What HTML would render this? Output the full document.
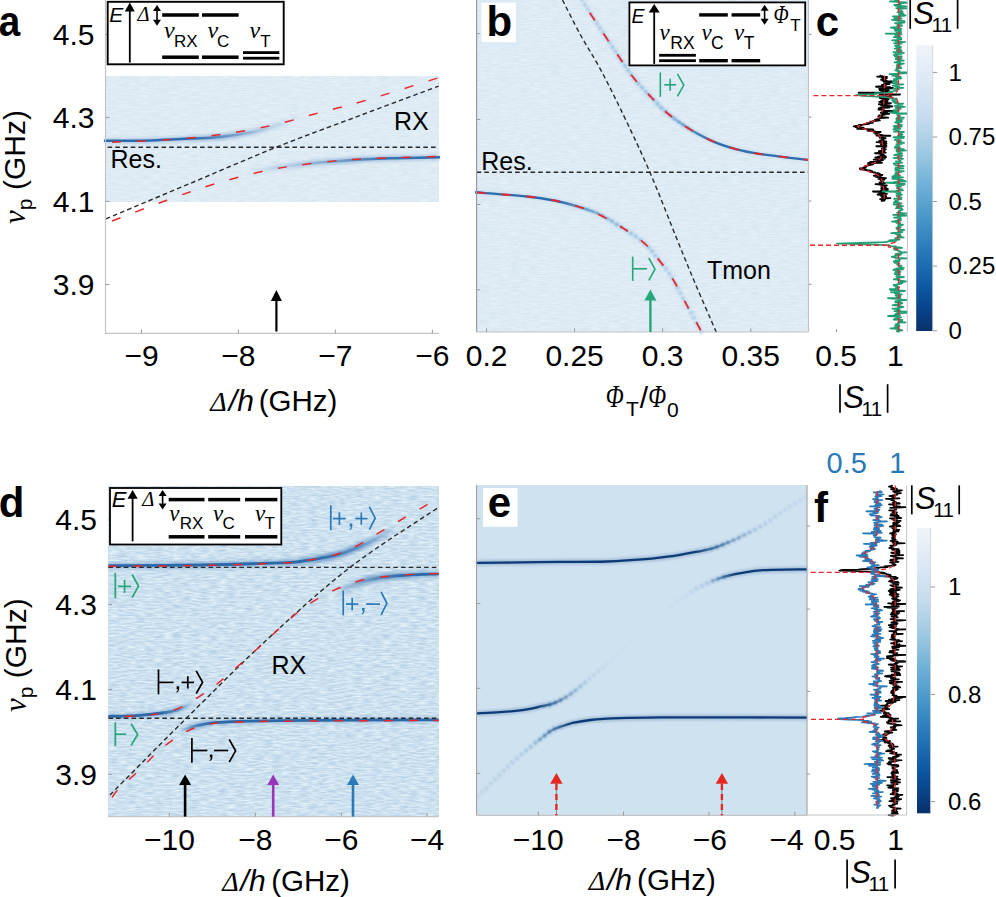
<!DOCTYPE html><html><head><meta charset="utf-8"><style>html,body{margin:0;padding:0;background:#fff;overflow:hidden}svg{display:block}</style></head><body>
<svg width="996" height="897" viewBox="0 0 996 897">
<defs>
<filter id="bl1" filterUnits="userSpaceOnUse" x="0" y="0" width="996" height="897"><feGaussianBlur stdDeviation="1.6"/></filter>
<filter id="bl2" filterUnits="userSpaceOnUse" x="0" y="0" width="996" height="897"><feGaussianBlur stdDeviation="0.7"/></filter>
<filter id="bl4" filterUnits="userSpaceOnUse" x="0" y="0" width="996" height="897"><feGaussianBlur stdDeviation="0.85"/></filter>
<filter id="bl3" filterUnits="userSpaceOnUse" x="0" y="0" width="996" height="897"><feGaussianBlur stdDeviation="3"/></filter>
<linearGradient id="cbar" x1="0" y1="0" x2="0" y2="1"><stop offset="0" stop-color="#f0f4f8"/><stop offset="0.05" stop-color="#e8f0f7"/><stop offset="0.1" stop-color="#e0ebf6"/><stop offset="0.15" stop-color="#d8e6f4"/><stop offset="0.2" stop-color="#cfe1f1"/><stop offset="0.25" stop-color="#c6dbef"/><stop offset="0.3" stop-color="#b6d4e9"/><stop offset="0.35" stop-color="#a6cde4"/><stop offset="0.4" stop-color="#94c4df"/><stop offset="0.45" stop-color="#7fb9da"/><stop offset="0.5" stop-color="#6baed6"/><stop offset="0.55" stop-color="#5ba3d0"/><stop offset="0.6" stop-color="#4a98c9"/><stop offset="0.65" stop-color="#3b8bc3"/><stop offset="0.7" stop-color="#2e7ebc"/><stop offset="0.75" stop-color="#2171b5"/><stop offset="0.8" stop-color="#1764ab"/><stop offset="0.85" stop-color="#0d57a1"/><stop offset="0.9" stop-color="#084a92"/><stop offset="0.95" stop-color="#083d7f"/><stop offset="1" stop-color="#08306b"/></linearGradient>
<filter id="nzA" x="0" y="0" width="1" height="1" color-interpolation-filters="sRGB"><feTurbulence type="fractalNoise" baseFrequency="0.1 0.7" numOctaves="2" seed="3"/><feColorMatrix type="matrix" values="0.1 0 0 0 0.8206  0.07 0 0 0 0.8866  0.04 0 0 0 0.9383  0 0 0 0 1"/></filter>
<filter id="nzB" x="0" y="0" width="1" height="1" color-interpolation-filters="sRGB"><feTurbulence type="fractalNoise" baseFrequency="0.1 0.7" numOctaves="2" seed="8"/><feColorMatrix type="matrix" values="0.1 0 0 0 0.8206  0.07 0 0 0 0.8866  0.04 0 0 0 0.9383  0 0 0 0 1"/></filter>
<filter id="nzD" x="0" y="0" width="1" height="1" color-interpolation-filters="sRGB"><feTurbulence type="fractalNoise" baseFrequency="0.11 0.6" numOctaves="2" seed="5"/><feColorMatrix type="matrix" values="0.3 0 0 0 0.6539  0.22 0 0 0 0.7724  0.13 0 0 0 0.8723  0 0 0 0 1"/></filter>
</defs>
<rect width="996" height="897" fill="#fff"/>
<rect x="106" y="76.1" width="332.7" height="125.1" fill="#dfebf5" filter="url(#nzA)"/>
<linearGradient id="ga1" gradientUnits="userSpaceOnUse" x1="104" y1="0" x2="300" y2="0"><stop offset="0" stop-color="#2c6cad" stop-opacity="1"/><stop offset="0.45" stop-color="#2c6cad" stop-opacity="1"/><stop offset="0.62" stop-color="#2c6cad" stop-opacity="0.5"/><stop offset="0.8" stop-color="#2c6cad" stop-opacity="0.12"/><stop offset="1" stop-color="#2c6cad" stop-opacity="0"/></linearGradient>
<linearGradient id="ga1h" gradientUnits="userSpaceOnUse" x1="104" y1="0" x2="300" y2="0"><stop offset="0" stop-color="#2c6cad" stop-opacity="0.3"/><stop offset="0.4" stop-color="#2c6cad" stop-opacity="0.45"/><stop offset="0.6" stop-color="#2c6cad" stop-opacity="0.7"/><stop offset="0.8" stop-color="#2c6cad" stop-opacity="0.35"/><stop offset="1" stop-color="#2c6cad" stop-opacity="0"/></linearGradient>
<path d="M104,140.8 C111.67,140.73 135.67,140.77 150,140.4 C164.33,140.03 178.33,139.17 190,138.6 C201.67,138.03 210,138.02 220,137 C230,135.98 240.83,134.33 250,132.5 C259.17,130.67 266.67,128.58 275,126 C283.33,123.42 295.83,118.5 300,117" fill="none" stroke="url(#ga1h)" stroke-width="6" opacity="0.55" filter="url(#bl1)"/>
<path d="M104,140.8 C111.67,140.73 135.67,140.77 150,140.4 C164.33,140.03 178.33,139.17 190,138.6 C201.67,138.03 210,138.02 220,137 C230,135.98 240.83,134.33 250,132.5 C259.17,130.67 266.67,128.58 275,126 C283.33,123.42 295.83,118.5 300,117" fill="none" stroke="url(#ga1)" stroke-width="2.5" filter="url(#bl2)"/>
<linearGradient id="ga2" gradientUnits="userSpaceOnUse" x1="245" y1="0" x2="440" y2="0"><stop offset="0" stop-color="#2c6cad" stop-opacity="0"/><stop offset="0.25" stop-color="#2c6cad" stop-opacity="0.1"/><stop offset="0.5" stop-color="#2c6cad" stop-opacity="0.45"/><stop offset="0.72" stop-color="#2c6cad" stop-opacity="0.9"/><stop offset="1" stop-color="#2c6cad" stop-opacity="1"/></linearGradient>
<linearGradient id="ga2h" gradientUnits="userSpaceOnUse" x1="245" y1="0" x2="440" y2="0"><stop offset="0" stop-color="#2c6cad" stop-opacity="0"/><stop offset="0.25" stop-color="#2c6cad" stop-opacity="0.35"/><stop offset="0.5" stop-color="#2c6cad" stop-opacity="0.6"/><stop offset="0.75" stop-color="#2c6cad" stop-opacity="0.5"/><stop offset="1" stop-color="#2c6cad" stop-opacity="0.35"/></linearGradient>
<path d="M245,172 C249.17,171.42 260.83,169.75 270,168.5 C279.17,167.25 288.33,165.75 300,164.5 C311.67,163.25 325,162.03 340,161 C355,159.97 373.33,158.92 390,158.3 C406.67,157.68 431.67,157.47 440,157.3" fill="none" stroke="url(#ga2h)" stroke-width="6" opacity="0.55" filter="url(#bl1)"/>
<path d="M245,172 C249.17,171.42 260.83,169.75 270,168.5 C279.17,167.25 288.33,165.75 300,164.5 C311.67,163.25 325,162.03 340,161 C355,159.97 373.33,158.92 390,158.3 C406.67,157.68 431.67,157.47 440,157.3" fill="none" stroke="url(#ga2)" stroke-width="2.5" filter="url(#bl2)"/>
<path d="M107.6,147.3 L438.7,147.3" fill="none" stroke="#2a2a2a" stroke-width="1.4" stroke-dasharray="4.6,3.1" />
<path d="M106,218.9 C120,213 161.58,195.47 190,183.5 C218.42,171.53 248.17,158.43 276.5,147.1 C304.83,135.77 332.97,125.67 360,115.5 C387.03,105.33 425.58,91 438.7,86.1" fill="none" stroke="#2a2a2a" stroke-width="1.4" stroke-dasharray="4.6,3.1" />
<path d="M112,142.2 C121.92,141.75 153.17,140.82 171.5,139.5 C189.83,138.18 205.3,136.65 222,134.3 C238.7,131.95 255.37,129.03 271.7,125.4 C288.03,121.77 304.22,116.7 320,112.5 C335.78,108.3 346.62,106 366.4,100.2 C386.18,94.4 426.65,81.45 438.7,77.7" fill="none" stroke="#e8262b" stroke-width="1.45" stroke-dasharray="9.2,15.7" />
<path d="M112,221 C121.13,217.53 149.72,206.37 166.8,200.2 C183.88,194.03 198.63,188.78 214.5,184 C230.37,179.22 247.75,174.67 262,171.5 C276.25,168.33 286.17,166.92 300,165 C313.83,163.08 329.92,161.2 345,160 C360.08,158.8 374.88,158.4 390.5,157.8 C406.12,157.2 430.67,156.63 438.7,156.4" fill="none" stroke="#e8262b" stroke-width="1.45" stroke-dasharray="9.2,15.7" />
<line x1="105.5" y1="0" x2="105.5" y2="333.9" stroke="#c4c4c4" stroke-width="1.2" />
<line x1="105" y1="333.4" x2="438.7" y2="333.4" stroke="#c4c4c4" stroke-width="1.2" />
<line x1="105.5" y1="34.5" x2="109.5" y2="34.5" stroke="#9a9a9a" stroke-width="1" />
<text x="94.5" y="44.8" text-anchor="end" fill="#000" style='font-family:"Liberation Sans", sans-serif;font-size:30px;' >4.5</text>
<line x1="105.5" y1="117.4" x2="109.5" y2="117.4" stroke="#9a9a9a" stroke-width="1" />
<text x="94.5" y="127.7" text-anchor="end" fill="#000" style='font-family:"Liberation Sans", sans-serif;font-size:30px;' >4.3</text>
<line x1="105.5" y1="201.3" x2="109.5" y2="201.3" stroke="#9a9a9a" stroke-width="1" />
<text x="94.5" y="211.6" text-anchor="end" fill="#000" style='font-family:"Liberation Sans", sans-serif;font-size:30px;' >4.1</text>
<line x1="105.5" y1="284.5" x2="109.5" y2="284.5" stroke="#9a9a9a" stroke-width="1" />
<text x="94.5" y="294.8" text-anchor="end" fill="#000" style='font-family:"Liberation Sans", sans-serif;font-size:30px;' >3.9</text>
<line x1="141.5" y1="333.4" x2="141.5" y2="329.6" stroke="#9a9a9a" stroke-width="1" />
<text x="141.5" y="365.8" text-anchor="middle" fill="#000" style='font-family:"Liberation Sans", sans-serif;font-size:30px;' >−9</text>
<line x1="238.4" y1="333.4" x2="238.4" y2="329.6" stroke="#9a9a9a" stroke-width="1" />
<text x="238.4" y="365.8" text-anchor="middle" fill="#000" style='font-family:"Liberation Sans", sans-serif;font-size:30px;' >−8</text>
<line x1="335.3" y1="333.4" x2="335.3" y2="329.6" stroke="#9a9a9a" stroke-width="1" />
<text x="335.3" y="365.8" text-anchor="middle" fill="#000" style='font-family:"Liberation Sans", sans-serif;font-size:30px;' >−7</text>
<line x1="432.4" y1="333.4" x2="432.4" y2="329.6" stroke="#9a9a9a" stroke-width="1" />
<text x="432.4" y="365.8" text-anchor="middle" fill="#000" style='font-family:"Liberation Sans", sans-serif;font-size:30px;' >−6</text>
<text x="110.5" y="167.7" text-anchor="start" fill="#000" style='font-family:"Liberation Sans", sans-serif;font-size:25px;' >Res.</text>
<text x="394" y="129.7" text-anchor="start" fill="#000" style='font-family:"Liberation Sans", sans-serif;font-size:25px;' >RX</text>
<line x1="276.4" y1="331.5" x2="276.4" y2="300" stroke="#000" stroke-width="2.2" />
<path d="M276.4,290 L270.9,301 L281.9,301 Z" fill="#000"/>
<text x="210.3" y="410.8" text-anchor="start" fill="#000" style='font-family:"Liberation Serif", serif;font-size:28px;font-style:italic;' >Δ</text>
<text x="228.8" y="410.8" text-anchor="start" fill="#000" style='font-family:"Liberation Sans", sans-serif;font-size:30px;font-style:italic;' >/h</text>
<text x="258.8" y="410.8" text-anchor="start" fill="#000" style='font-family:"Liberation Sans", sans-serif;font-size:29.5px;' >(GHz)</text>
<g transform="translate(25,167) rotate(-90)">
<text x="0" y="0" text-anchor="middle" style='font-family:"Liberation Sans", sans-serif;font-size:30px'><tspan style='font-family:"Liberation Serif", serif;font-style:italic;font-size:31px'>ν</tspan><tspan dy="7" style='font-size:21px'>p</tspan><tspan dy="-7"> (GHz)</tspan></text>
</g>
<text transform="translate(-1.3,36.2) scale(0.92,1)" style='font-family:"Liberation Sans", sans-serif;font-size:42px;font-weight:bold'>a</text>
<rect x="107.7" y="1.8" width="176" height="62.5" fill="#fff" stroke="#000" stroke-width="1.9"/>
<text x="109.3" y="21.7" text-anchor="start" fill="#000" style='font-family:"Liberation Sans", sans-serif;font-size:21px;font-style:italic;' >E</text>
<line x1="129.8" y1="62.6" x2="129.8" y2="10.4" stroke="#000" stroke-width="1.8" />
<path d="M129.8,2.4 L124.8,11.4 L134.8,11.4 Z" fill="#000"/>
<text x="137.6" y="21.1" text-anchor="start" fill="#000" style='font-family:"Liberation Serif", serif;font-size:20.5px;font-style:italic;' >Δ</text>
<line x1="157" y1="10" x2="157" y2="20.7" stroke="#000" stroke-width="1.6" />
<path d="M157,5 L153,11 L161,11 Z" fill="#000"/>
<path d="M157,25.7 L153,19.7 L161,19.7 Z" fill="#000"/>
<rect x="162.2" y="13.25" width="36.6" height="3.5" fill="#000" />
<rect x="202" y="13.25" width="36.6" height="3.5" fill="#000" />
<rect x="162.2" y="55.45" width="36.6" height="3.5" fill="#000" />
<rect x="202" y="55.45" width="36.6" height="3.5" fill="#000" />
<rect x="243" y="51.2" width="36.3" height="2.8" fill="#000" />
<rect x="243" y="56.8" width="36.3" height="2.8" fill="#000" />
<text x="164" y="37.5" text-anchor="start" fill="#000" style='font-family:"Liberation Serif", serif;font-size:24px;font-style:italic;' >ν</text>
<text x="174" y="46.6" text-anchor="start" fill="#000" style='font-family:"Liberation Sans", sans-serif;font-size:17px;' >RX</text>
<text x="207.4" y="37.5" text-anchor="start" fill="#000" style='font-family:"Liberation Serif", serif;font-size:24px;font-style:italic;' >ν</text>
<text x="217" y="46.6" text-anchor="start" fill="#000" style='font-family:"Liberation Sans", sans-serif;font-size:17px;' >C</text>
<text x="249.6" y="37.5" text-anchor="start" fill="#000" style='font-family:"Liberation Serif", serif;font-size:24px;font-style:italic;' >ν</text>
<text x="260.2" y="46.6" text-anchor="start" fill="#000" style='font-family:"Liberation Sans", sans-serif;font-size:17px;' >T</text>
<rect x="476.6" y="0" width="331.9" height="332" fill="#dfebf5" filter="url(#nzB)"/>
<linearGradient id="gb1" gradientUnits="userSpaceOnUse" x1="578" y1="0" x2="809" y2="0"><stop offset="0" stop-color="#2c6cad" stop-opacity="0"/><stop offset="0.38" stop-color="#2c6cad" stop-opacity="0.05"/><stop offset="0.45" stop-color="#2c6cad" stop-opacity="0.4"/><stop offset="0.52" stop-color="#2c6cad" stop-opacity="0.85"/><stop offset="0.6" stop-color="#2c6cad" stop-opacity="1"/><stop offset="1" stop-color="#2c6cad" stop-opacity="1"/></linearGradient>
<linearGradient id="gb1h" gradientUnits="userSpaceOnUse" x1="578" y1="0" x2="809" y2="0"><stop offset="0" stop-color="#2c6cad" stop-opacity="0.1"/><stop offset="0.4" stop-color="#2c6cad" stop-opacity="0.35"/><stop offset="0.6" stop-color="#2c6cad" stop-opacity="0.3"/><stop offset="1" stop-color="#2c6cad" stop-opacity="0.25"/></linearGradient>
<path d="M578,-6 C581.17,-1.05 589.53,12.28 597,23.7 C604.47,35.12 616.42,53.12 622.8,62.5 C629.18,71.88 630.7,74.35 635.3,80 C639.9,85.65 645.38,91.15 650.4,96.4 C655.42,101.65 659.55,106.48 665.4,111.5 C671.25,116.52 677.97,121.7 685.5,126.5 C693.03,131.3 702.23,136.53 710.6,140.3 C718.97,144.07 727.33,146.8 735.7,149.1 C744.07,151.4 748.58,152.28 760.8,154.1 C773.02,155.92 800.97,159.02 809,160" fill="none" stroke="url(#gb1h)" stroke-width="5" opacity="0.3" filter="url(#bl1)"/>
<path d="M578,-6 C581.17,-1.05 589.53,12.28 597,23.7 C604.47,35.12 616.42,53.12 622.8,62.5 C629.18,71.88 630.7,74.35 635.3,80 C639.9,85.65 645.38,91.15 650.4,96.4 C655.42,101.65 659.55,106.48 665.4,111.5 C671.25,116.52 677.97,121.7 685.5,126.5 C693.03,131.3 702.23,136.53 710.6,140.3 C718.97,144.07 727.33,146.8 735.7,149.1 C744.07,151.4 748.58,152.28 760.8,154.1 C773.02,155.92 800.97,159.02 809,160" fill="none" stroke="url(#gb1)" stroke-width="2.4" filter="url(#bl2)"/>
<linearGradient id="gb1d" gradientUnits="userSpaceOnUse" x1="578" y1="0" x2="809" y2="0"><stop offset="0" stop-color="#4f97d2" stop-opacity="0.35"/><stop offset="0.2" stop-color="#4f97d2" stop-opacity="0.45"/><stop offset="0.38" stop-color="#4f97d2" stop-opacity="0.6"/><stop offset="0.48" stop-color="#4f97d2" stop-opacity="0.5"/><stop offset="0.55" stop-color="#4f97d2" stop-opacity="0"/></linearGradient>
<path d="M578,-6 C581.17,-1.05 589.53,12.28 597,23.7 C604.47,35.12 616.42,53.12 622.8,62.5 C629.18,71.88 630.7,74.35 635.3,80 C639.9,85.65 645.38,91.15 650.4,96.4 C655.42,101.65 659.55,106.48 665.4,111.5 C671.25,116.52 677.97,121.7 685.5,126.5 C693.03,131.3 702.23,136.53 710.6,140.3 C718.97,144.07 727.33,146.8 735.7,149.1 C744.07,151.4 748.58,152.28 760.8,154.1 C773.02,155.92 800.97,159.02 809,160" fill="none" stroke="url(#gb1d)" stroke-width="3.4" stroke-dasharray="3,2.6" filter="url(#bl4)"/>
<linearGradient id="gb2" gradientUnits="userSpaceOnUse" x1="475" y1="0" x2="702" y2="0"><stop offset="0" stop-color="#2c6cad" stop-opacity="1"/><stop offset="0.37" stop-color="#2c6cad" stop-opacity="1"/><stop offset="0.5" stop-color="#2c6cad" stop-opacity="0.5"/><stop offset="0.6" stop-color="#2c6cad" stop-opacity="0.15"/><stop offset="0.7" stop-color="#2c6cad" stop-opacity="0"/></linearGradient>
<linearGradient id="gb2h" gradientUnits="userSpaceOnUse" x1="475" y1="0" x2="702" y2="0"><stop offset="0" stop-color="#2c6cad" stop-opacity="0.25"/><stop offset="0.4" stop-color="#2c6cad" stop-opacity="0.3"/><stop offset="0.6" stop-color="#2c6cad" stop-opacity="0.25"/><stop offset="1" stop-color="#2c6cad" stop-opacity="0.1"/></linearGradient>
<path d="M475,192.3 C483.65,193 513.52,195.1 526.9,196.5 C540.28,197.9 547.1,199.12 555.3,200.7 C563.5,202.28 568.83,203.78 576.1,206 C583.37,208.22 592.08,210.92 598.9,214 C605.72,217.08 609.75,219.9 617,224.5 C624.25,229.1 635.87,236.25 642.4,241.6 C648.93,246.95 651.2,250.45 656.2,256.6 C661.2,262.75 667.4,270.6 672.4,278.5 C677.4,286.4 681.78,295.92 686.2,304 C690.62,312.08 696.27,322 698.9,327 C701.53,332 701.48,332.83 702,334" fill="none" stroke="url(#gb2h)" stroke-width="5" opacity="0.3" filter="url(#bl1)"/>
<path d="M475,192.3 C483.65,193 513.52,195.1 526.9,196.5 C540.28,197.9 547.1,199.12 555.3,200.7 C563.5,202.28 568.83,203.78 576.1,206 C583.37,208.22 592.08,210.92 598.9,214 C605.72,217.08 609.75,219.9 617,224.5 C624.25,229.1 635.87,236.25 642.4,241.6 C648.93,246.95 651.2,250.45 656.2,256.6 C661.2,262.75 667.4,270.6 672.4,278.5 C677.4,286.4 681.78,295.92 686.2,304 C690.62,312.08 696.27,322 698.9,327 C701.53,332 701.48,332.83 702,334" fill="none" stroke="url(#gb2)" stroke-width="2.4" filter="url(#bl2)"/>
<linearGradient id="gb2d" gradientUnits="userSpaceOnUse" x1="475" y1="0" x2="702" y2="0"><stop offset="0" stop-color="#4f97d2" stop-opacity="0"/><stop offset="0.4" stop-color="#4f97d2" stop-opacity="0"/><stop offset="0.5" stop-color="#4f97d2" stop-opacity="0.45"/><stop offset="0.62" stop-color="#4f97d2" stop-opacity="0.6"/><stop offset="0.8" stop-color="#4f97d2" stop-opacity="0.45"/><stop offset="1" stop-color="#4f97d2" stop-opacity="0.35"/></linearGradient>
<path d="M475,192.3 C483.65,193 513.52,195.1 526.9,196.5 C540.28,197.9 547.1,199.12 555.3,200.7 C563.5,202.28 568.83,203.78 576.1,206 C583.37,208.22 592.08,210.92 598.9,214 C605.72,217.08 609.75,219.9 617,224.5 C624.25,229.1 635.87,236.25 642.4,241.6 C648.93,246.95 651.2,250.45 656.2,256.6 C661.2,262.75 667.4,270.6 672.4,278.5 C677.4,286.4 681.78,295.92 686.2,304 C690.62,312.08 696.27,322 698.9,327 C701.53,332 701.48,332.83 702,334" fill="none" stroke="url(#gb2d)" stroke-width="3.4" stroke-dasharray="3,2.6" filter="url(#bl4)"/>
<path d="M476.6,172.3 L808.5,172.3" fill="none" stroke="#2a2a2a" stroke-width="1.4" stroke-dasharray="4.6,3.1" />
<path d="M562.5,0 C565.42,5.67 573.78,22.63 580,34 C586.22,45.37 593.13,55.87 599.8,68.2 C606.47,80.53 611.78,90.97 620,108 C628.22,125.03 639.6,148.52 649.1,170.4 C658.6,192.28 669.35,220.53 677,239.3 C684.65,258.07 688.65,267.98 695,283 C701.35,298.02 711.55,321.23 715.1,329.4 C718.65,337.57 716.1,331.57 716.3,332" fill="none" stroke="#2a2a2a" stroke-width="1.4" stroke-dasharray="4.6,3.1" />
<path d="M576,-8 C579.5,-2.72 589.2,11.95 597,23.7 C604.8,35.45 616.42,53.12 622.8,62.5 C629.18,71.88 630.7,74.35 635.3,80 C639.9,85.65 645.38,91.15 650.4,96.4 C655.42,101.65 659.55,106.48 665.4,111.5 C671.25,116.52 677.97,121.7 685.5,126.5 C693.03,131.3 702.23,136.53 710.6,140.3 C718.97,144.07 727.33,146.8 735.7,149.1 C744.07,151.4 748.67,152.3 760.8,154.1 C772.93,155.9 800.55,158.93 808.5,159.9" fill="none" stroke="#e8262b" stroke-width="1.8" stroke-dasharray="9.2,15.7" />
<path d="M476.6,192.4 C484.98,193.08 513.78,195.12 526.9,196.5 C540.02,197.88 547.1,199.12 555.3,200.7 C563.5,202.28 569.67,204.07 576.1,206 C582.53,207.93 587.08,209.25 593.9,212.3 C600.72,215.35 608.92,219.42 617,224.3 C625.08,229.18 635.87,236.22 642.4,241.6 C648.93,246.98 651.2,250.45 656.2,256.6 C661.2,262.75 667.4,270.6 672.4,278.5 C677.4,286.4 681.78,295.92 686.2,304 C690.62,312.08 696.43,322.33 698.9,327 C701.37,331.67 700.65,331.17 701,332" fill="none" stroke="#e8262b" stroke-width="1.8" stroke-dasharray="9.2,15.7" />
<line x1="476.6" y1="0" x2="476.6" y2="332" stroke="#9a9a9a" stroke-width="1.2" />
<line x1="808.5" y1="0" x2="808.5" y2="332" stroke="#c4c4c4" stroke-width="1.2" />
<line x1="476.6" y1="332" x2="808.5" y2="332" stroke="#c4c4c4" stroke-width="1.2" />
<line x1="476.6" y1="33.7" x2="480.3" y2="33.7" stroke="#9a9a9a" stroke-width="1" />
<line x1="476.6" y1="119.4" x2="480.3" y2="119.4" stroke="#9a9a9a" stroke-width="1" />
<line x1="476.6" y1="204.5" x2="480.3" y2="204.5" stroke="#9a9a9a" stroke-width="1" />
<line x1="476.6" y1="289.8" x2="480.3" y2="289.8" stroke="#9a9a9a" stroke-width="1" />
<line x1="486.6" y1="332" x2="486.6" y2="328.3" stroke="#9a9a9a" stroke-width="1" />
<text x="486.6" y="365.8" text-anchor="middle" fill="#000" style='font-family:"Liberation Sans", sans-serif;font-size:30px;' >0.2</text>
<line x1="574.6" y1="332" x2="574.6" y2="328.3" stroke="#9a9a9a" stroke-width="1" />
<text x="574.6" y="365.8" text-anchor="middle" fill="#000" style='font-family:"Liberation Sans", sans-serif;font-size:30px;' >0.25</text>
<line x1="662.6" y1="332" x2="662.6" y2="328.3" stroke="#9a9a9a" stroke-width="1" />
<text x="662.6" y="365.8" text-anchor="middle" fill="#000" style='font-family:"Liberation Sans", sans-serif;font-size:30px;' >0.3</text>
<line x1="750.8" y1="332" x2="750.8" y2="328.3" stroke="#9a9a9a" stroke-width="1" />
<text x="750.8" y="365.8" text-anchor="middle" fill="#000" style='font-family:"Liberation Sans", sans-serif;font-size:30px;' >0.35</text>
<text x="481.2" y="169.8" text-anchor="start" fill="#000" style='font-family:"Liberation Sans", sans-serif;font-size:25px;' >Res.</text>
<text x="707" y="278.5" text-anchor="start" fill="#000" style='font-family:"Liberation Sans", sans-serif;font-size:25px;' >Tmon</text>
<rect x="481.4" y="2.8" width="34.5" height="39.3" fill="#fff" />
<text x="486.4" y="36.4" text-anchor="start" fill="#000" style='font-family:"Liberation Sans", sans-serif;font-size:42px;font-weight:bold;' >b</text>
<line x1="660.3" y1="72.5" x2="660.3" y2="96.9" stroke="#26a77a" stroke-width="1.6" />
<line x1="664.2" y1="84.8" x2="676.1" y2="84.8" stroke="#26a77a" stroke-width="1.6" />
<line x1="670.15" y1="78.85" x2="670.15" y2="90.75" stroke="#26a77a" stroke-width="1.6" />
<path d="M677.4,73.9 L683.8,85.1 L677.4,96.3" fill="none" stroke="#26a77a" stroke-width="1.6" stroke-linejoin="miter"/>
<line x1="632.7" y1="256.6" x2="632.7" y2="280.9" stroke="#26a77a" stroke-width="1.6" />
<line x1="632.7" y1="268.8" x2="647" y2="268.8" stroke="#26a77a" stroke-width="1.6" />
<path d="M648.8,258 L655,269.15 L648.8,280.3" fill="none" stroke="#26a77a" stroke-width="1.6" stroke-linejoin="miter"/>
<line x1="650.4" y1="332" x2="650.4" y2="299.6" stroke="#26a77a" stroke-width="2.4" />
<path d="M650.4,289.6 L644.4,300.6 L656.4,300.6 Z" fill="#26a77a"/>
<text transform="translate(605.8,407.3) scale(0.76,1)" style='font-family:"Liberation Serif", serif;font-style:italic;font-size:31px'>Φ</text>
<text x="625.9" y="416.4" text-anchor="start" fill="#000" style='font-family:"Liberation Sans", sans-serif;font-size:21px;' >T</text>
<text x="639.7" y="408" text-anchor="start" fill="#000" style='font-family:"Liberation Sans", sans-serif;font-size:30px;' >/</text>
<text transform="translate(648.3,407.3) scale(0.76,1)" style='font-family:"Liberation Serif", serif;font-style:italic;font-size:31px'>Φ</text>
<text x="666.9" y="416.6" text-anchor="start" fill="#000" style='font-family:"Liberation Sans", sans-serif;font-size:21px;' >0</text>
<rect x="629.4" y="2.4" width="175.8" height="63" fill="#fff" stroke="#000" stroke-width="1.8"/>
<text x="631.6" y="22.9" text-anchor="start" fill="#000" style='font-family:"Liberation Sans", sans-serif;font-size:19.5px;font-style:italic;' >E</text>
<line x1="654.2" y1="63.9" x2="654.2" y2="11.5" stroke="#000" stroke-width="1.8" />
<path d="M654.2,3.9 L648.7,12.5 L659.7,12.5 Z" fill="#000"/>
<rect x="699.2" y="13.2" width="28.6" height="3.4" fill="#000" />
<rect x="731.6" y="13.2" width="28.6" height="3.4" fill="#000" />
<rect x="659.1" y="53.9" width="36.8" height="2.8" fill="#000" />
<rect x="659.1" y="59.3" width="36.8" height="2.8" fill="#000" />
<rect x="699.2" y="59" width="28.6" height="3.4" fill="#000" />
<rect x="731.6" y="59" width="28.6" height="3.4" fill="#000" />
<line x1="764.6" y1="9.8" x2="764.6" y2="19.8" stroke="#000" stroke-width="1.6" />
<path d="M764.6,4.8 L760.6,10.8 L768.6,10.8 Z" fill="#000"/>
<path d="M764.6,24.8 L760.6,18.8 L768.6,18.8 Z" fill="#000"/>
<text transform="translate(773.6,22.9) scale(0.78,1)" style='font-family:"Liberation Serif", serif;font-style:italic;font-size:25.5px'>Φ</text>
<text x="790.2" y="30.5" text-anchor="start" fill="#000" style='font-family:"Liberation Sans", sans-serif;font-size:17px;' >T</text>
<text x="659.5" y="40" text-anchor="start" fill="#000" style='font-family:"Liberation Serif", serif;font-size:23px;font-style:italic;' >ν</text>
<text x="670.3" y="48.6" text-anchor="start" fill="#000" style='font-family:"Liberation Sans", sans-serif;font-size:17.5px;' >RX</text>
<text x="701.5" y="40" text-anchor="start" fill="#000" style='font-family:"Liberation Serif", serif;font-size:23px;font-style:italic;' >ν</text>
<text x="711" y="48.6" text-anchor="start" fill="#000" style='font-family:"Liberation Sans", sans-serif;font-size:17.5px;' >C</text>
<text x="734" y="40" text-anchor="start" fill="#000" style='font-family:"Liberation Serif", serif;font-size:23px;font-style:italic;' >ν</text>
<text x="743.8" y="48.6" text-anchor="start" fill="#000" style='font-family:"Liberation Sans", sans-serif;font-size:17.5px;' >T</text>
<path d="M881.08,75.6 L880.27,75.95 L882.44,76.3 L877.22,76.65 L886.96,77 L883.7,77.35 L882.17,77.7 L884.49,78.05 L886.75,78.4 L885.36,78.75 L885.01,79.1 L882.95,79.45 L881.16,79.8 L882.71,80.15 L884.7,80.5 L886.72,80.85 L883.25,81.2 L891.86,81.55 L888.48,81.9 L892.58,82.25 L888.64,82.6 L884.03,82.95 L885.15,83.3 L885.64,83.65 L889.47,84 L885.92,84.35 L886.39,84.7 L881.86,85.05 L883.61,85.4 L881.72,85.75 L883.84,86.1 L878.48,86.45 L876.07,86.8 L890.23,87.15 L889.18,87.5 L892.63,87.85 L893.17,88.2 L883.57,88.55 L879.07,88.9 L882.34,89.25 L888.59,89.6 L879.73,89.95 L885.66,90.3 L886.3,90.65 L881.22,91 L889.54,91.35 L884.96,91.7 L886.34,92.05 L881.07,92.4 L858.64,92.75 L881.76,93.1 L883.45,93.45 L879.43,93.8 L879.98,94.15 L899.94,94.5 L890.62,94.85 L886.8,95.2 L883.61,95.55 L880.5,95.9 L879.45,96.25 L886.61,96.6 L889.66,96.95 L891.64,97.3 L886.11,97.65 L879.81,98 L883.53,98.35 L882.66,98.7 L884.83,99.05 L888.54,99.4 L884.23,99.75 L886.27,100.1 L886,100.45 L881.17,100.8 L887.51,101.15 L882.32,101.5 L879.23,101.85 L882.19,102.2 L887.06,102.55 L882.79,102.9 L890.82,103.25 L889.54,103.6 L885.64,103.95 L878.88,104.3 L883.96,104.65 L881.36,105 L886.82,105.35 L881.11,105.7 L887.88,106.05 L892.36,106.4 L884.73,106.75 L886.86,107.1 L889.47,107.45 L883.3,107.8 L878.93,108.15 L883.12,108.5 L879.4,108.85 L878.62,109.2 L878.45,109.55 L883.84,109.9 L883.68,110.25 L884.17,110.6 L895.22,110.95 L883.89,111.3 L883.54,111.65 L882.2,112 L887.18,112.35 L880.84,112.7 L882.74,113.05 L883.8,113.4 L889.25,113.75 L883.36,114.1 L885.43,114.45 L882.16,114.8 L882.39,115.15 L879.05,115.5 L879.96,115.85 L882.14,116.2 L878.28,116.55 L878.87,116.9 L881.2,117.25 L888.06,117.6 L879.66,117.95 L879.52,118.3 L879,118.65 L877.36,119 L876.73,119.35 L874.97,119.7 L878.68,120.05 L879.78,120.4 L876.04,120.75 L873.05,121.1 L872.25,121.45 L870.33,121.8 L872.7,122.15 L870.25,122.5 L872.85,122.85 L866.67,123.2 L867.29,123.55 L869.17,123.9 L865.04,124.25 L863.02,124.6 L858.77,124.95 L861.62,125.3 L858.93,125.65 L855.48,126 L853.78,126.35 L857.02,126.7 L855.58,127.05 L857.47,127.4 L863.58,127.75 L862.25,128.1 L859.3,128.45 L857.25,128.8 L866.31,129.15 L873.06,129.5 L870.97,129.85 L869.77,130.2 L867.28,130.55 L869.33,130.9 L874.86,131.25 L873.21,131.6 L880.56,131.95 L876.28,132.3 L873.73,132.65 L878.02,133 L877.13,133.35 L875.42,133.7 L878.09,134.05 L879.43,134.4 L878.52,134.75 L882.64,135.1 L876.47,135.45 L890.33,135.8 L879.32,136.15 L881.71,136.5 L879.47,136.85 L880.47,137.2 L879.62,137.55 L883.6,137.9 L885.62,138.25 L882.17,138.6 L881.41,138.95 L882.89,139.3 L882.84,139.65 L883.63,140 L881.56,140.35 L879.37,140.7 L879.66,141.05 L886.31,141.4 L885.2,141.75 L876.62,142.1 L880.98,142.45 L882.03,142.8 L886.51,143.15 L882.17,143.5 L882.56,143.85 L882.7,144.2 L881,144.55 L886.41,144.9 L886.2,145.25 L881.96,145.6 L881.53,145.95 L876.38,146.3 L886.3,146.65 L885.54,147 L884.28,147.35 L883.65,147.7 L884.73,148.05 L884.22,148.4 L881.84,148.75 L883.02,149.1 L885.79,149.45 L882.47,149.8 L883.97,150.15 L884.33,150.5 L880.23,150.85 L878.92,151.2 L879.71,151.55 L882.72,151.9 L883.98,152.25 L885.76,152.6 L877.64,152.95 L875.09,153.3 L881.92,153.65 L881.01,154 L882.4,154.35 L880.26,154.7 L883.93,155.05 L882.57,155.4 L884.68,155.75 L883.51,156.1 L885.77,156.45 L877.83,156.8 L885.93,157.15 L875.28,157.5 L881.06,157.85 L879.88,158.2 L885.03,158.55 L881.92,158.9 L881.4,159.25 L873.7,159.6 L883.05,159.95 L877.88,160.3 L879.25,160.65 L879.96,161 L880.55,161.35 L876.4,161.7 L870.21,162.05 L879.82,162.4 L881.93,162.75 L867.88,163.1 L869.78,163.45 L873.29,163.8 L873.06,164.15 L872.43,164.5 L870.03,164.85 L867.99,165.2 L867.98,165.55 L865.42,165.9 L865.6,166.25 L865.34,166.6 L866.2,166.95 L864.79,167.3 L863.1,167.65 L864.84,168 L859.83,168.35 L864.75,168.7 L863.25,169.05 L860.23,169.4 L866.48,169.75 L864.87,170.1 L869.81,170.45 L870.91,170.8 L871.95,171.15 L872.49,171.5 L869.95,171.85 L872.54,172.2 L875.14,172.55 L875.19,172.9 L878.59,173.25 L877.91,173.6 L879.83,173.95 L876.02,174.3 L879.06,174.65 L882.44,175 L877.35,175.35 L873.81,175.7 L880.45,176.05 L879.69,176.4 L875.66,176.75 L878.37,177.1 L881.51,177.45 L881.01,177.8 L885.98,178.15 L883.66,178.5 L878.44,178.85 L883.11,179.2 L884.52,179.55 L881.18,179.9 L880.7,180.25 L881.86,180.6 L882.89,180.95 L882.6,181.3 L881.45,181.65 L881.74,182 L879.49,182.35 L884.18,182.7 L885.24,183.05 L880.73,183.4 L884,183.75 L875.61,184.1 L879.83,184.45 L883.83,184.8 L880.68,185.15 L886.79,185.5 L885.25,185.85 L882.4,186.2 L884.72,186.55 L881.34,186.9 L882.08,187.25 L882.01,187.6 L885.25,187.95 L886.73,188.3 L881.19,188.65 L887.79,189 L881.84,189.35 L887.42,189.7 L887.71,190.05 L885.76,190.4 L881.91,190.75 L879.62,191.1 L873.02,191.45 L877.3,191.8 L882.15,192.15 L883.38,192.5 L884.65,192.85 L879.61,193.2 L883.79,193.55 L886.91,193.9 L878.56,194.25 L877.51,194.6 L881.34,194.95 L881.97,195.3 L880.37,195.65 L885.79,196 L886.2,196.35 L884.24,196.7 L881.78,197.05 L883.48,197.4 L883.01,197.75 L890.34,198.1 L884.15,198.45 L884.05,198.8 L880.14,199.15 L885.16,199.5 L883.25,199.85 L883.97,200.2 L884.49,200.55 L880.73,200.9" fill="none" stroke="#000" stroke-width="1.9" stroke-linejoin="round"/>
<path d="M884.63,75.6 L884.63,76.1 L884.62,76.6 L884.62,77.1 L884.61,77.6 L884.61,78.1 L884.6,78.6 L884.6,79.1 L884.59,79.6 L884.58,80.1 L884.58,80.6 L884.57,81.1 L884.57,81.6 L884.56,82.1 L884.55,82.6 L884.54,83.1 L884.54,83.6 L884.53,84.1 L884.52,84.6 L884.51,85.1 L884.5,85.6 L884.5,86.1 L884.49,86.6 L884.48,87.1 L884.47,87.6 L884.46,88.1 L884.45,88.6 L884.44,89.1 L884.42,89.6 L884.41,90.1 L884.4,90.6 L884.39,91.1 L884.37,91.6 L884.36,92.1 L884.34,92.6 L884.33,93.1 L884.31,93.6 L884.3,94.1 L884.28,94.6 L884.26,95.1 L884.24,95.6 L884.22,96.1 L884.2,96.6 L884.18,97.1 L884.16,97.6 L884.14,98.1 L884.11,98.6 L884.08,99.1 L884.06,99.6 L884.03,100.1 L884,100.6 L883.96,101.1 L883.93,101.6 L883.89,102.1 L883.86,102.6 L883.81,103.1 L883.77,103.6 L883.73,104.1 L883.68,104.6 L883.62,105.1 L883.57,105.6 L883.51,106.1 L883.45,106.6 L883.38,107.1 L883.3,107.6 L883.23,108.1 L883.14,108.6 L883.05,109.1 L882.95,109.6 L882.84,110.1 L882.73,110.6 L882.6,111.1 L882.46,111.6 L882.31,112.1 L882.15,112.6 L881.97,113.1 L881.77,113.6 L881.55,114.1 L881.3,114.6 L881.03,115.1 L880.73,115.6 L880.39,116.1 L880.02,116.6 L879.59,117.1 L879.11,117.6 L878.57,118.1 L877.96,118.6 L877.26,119.1 L876.47,119.6 L875.57,120.1 L874.54,120.6 L873.37,121.1 L872.05,121.6 L870.56,122.1 L868.91,122.6 L867.1,123.1 L865.19,123.6 L863.24,124.1 L861.37,124.6 L859.72,125.1 L858.46,125.6 L857.75,126.1 L857.67,126.6 L858.25,127.1 L859.4,127.6 L860.97,128.1 L862.8,128.6 L864.73,129.1 L866.64,129.6 L868.46,130.1 L870.13,130.6 L871.64,131.1 L872.98,131.6 L874.16,132.1 L875.2,132.6 L876.12,133.1 L876.91,133.6 L877.61,134.1 L878.23,134.6 L878.76,135.1 L879.24,135.6 L879.65,136.1 L880.02,136.6 L880.35,137.1 L880.64,137.6 L880.89,138.1 L881.12,138.6 L881.32,139.1 L881.51,139.6 L881.67,140.1 L881.81,140.6 L881.94,141.1 L882.05,141.6 L882.15,142.1 L882.24,142.6 L882.32,143.1 L882.39,143.6 L882.45,144.1 L882.5,144.6 L882.54,145.1 L882.57,145.6 L882.6,146.1 L882.62,146.6 L882.63,147.1 L882.63,147.6 L882.63,148.1 L882.62,148.6 L882.6,149.1 L882.58,149.6 L882.55,150.1 L882.51,150.6 L882.46,151.1 L882.4,151.6 L882.34,152.1 L882.26,152.6 L882.17,153.1 L882.07,153.6 L881.96,154.1 L881.83,154.6 L881.68,155.1 L881.52,155.6 L881.34,156.1 L881.13,156.6 L880.89,157.1 L880.63,157.6 L880.33,158.1 L879.98,158.6 L879.6,159.1 L879.16,159.6 L878.66,160.1 L878.09,160.6 L877.44,161.1 L876.69,161.6 L875.84,162.1 L874.87,162.6 L873.76,163.1 L872.51,163.6 L871.11,164.1 L869.58,164.6 L867.92,165.1 L866.21,165.6 L864.52,166.1 L862.97,166.6 L861.7,167.1 L860.87,167.6 L860.59,168.1 L860.89,168.6 L861.73,169.1 L863.01,169.6 L864.58,170.1 L866.28,170.6 L868.01,171.1 L869.68,171.6 L871.23,172.1 L872.65,172.6 L873.91,173.1 L875.03,173.6 L876.02,174.1 L876.89,174.6 L877.65,175.1 L878.32,175.6 L878.91,176.1 L879.43,176.6 L879.89,177.1 L880.29,177.6 L880.66,178.1 L880.98,178.6 L881.26,179.1 L881.52,179.6 L881.75,180.1 L881.96,180.6 L882.15,181.1 L882.32,181.6 L882.48,182.1 L882.62,182.6 L882.75,183.1 L882.87,183.6 L882.98,184.1 L883.08,184.6 L883.17,185.1 L883.26,185.6 L883.34,186.1 L883.41,186.6 L883.48,187.1 L883.54,187.6 L883.6,188.1 L883.66,188.6 L883.71,189.1 L883.76,189.6 L883.8,190.1 L883.84,190.6 L883.89,191.1 L883.92,191.6 L883.96,192.1 L883.99,192.6 L884.02,193.1 L884.05,193.6 L884.08,194.1 L884.11,194.6 L884.14,195.1 L884.16,195.6 L884.18,196.1 L884.21,196.6 L884.23,197.1 L884.25,197.6 L884.27,198.1 L884.28,198.6 L884.3,199.1 L884.32,199.6 L884.33,200.1 L884.35,200.6" fill="none" stroke="#e8262b" stroke-width="1.3" stroke-dasharray="5,3"/>
<path d="M895.26,0 L898.68,0.35 L895.03,0.7 L897.45,1.05 L889.9,1.4 L892.93,1.75 L901.14,2.1 L905.88,2.45 L907,2.8 L899.88,3.15 L899.09,3.5 L899.63,3.85 L900.64,4.2 L900.85,4.55 L894.36,4.9 L899.3,5.25 L894.81,5.6 L897.57,5.95 L906.95,6.3 L900.48,6.65 L898.22,7 L902.96,7.35 L899.88,7.7 L896.18,8.05 L907,8.4 L900.22,8.75 L901.43,9.1 L897.63,9.45 L901.6,9.8 L900.91,10.15 L901.11,10.5 L900.38,10.85 L900.42,11.2 L902.45,11.55 L899.96,11.9 L897.28,12.25 L899.74,12.6 L902.78,12.95 L901.61,13.3 L901.11,13.65 L903.81,14 L898.95,14.35 L899.25,14.7 L901.23,15.05 L905.58,15.4 L904.94,15.75 L900.43,16.1 L892.91,16.45 L900.03,16.8 L900.74,17.15 L897.04,17.5 L900.21,17.85 L894.2,18.2 L895.02,18.55 L901.7,18.9 L896.64,19.25 L897.61,19.6 L892.02,19.95 L899.51,20.3 L896.32,20.65 L904.5,21 L901.61,21.35 L899.05,21.7 L903.53,22.05 L904.68,22.4 L903.78,22.75 L895.01,23.1 L895.73,23.45 L901.81,23.8 L898.43,24.15 L897.59,24.5 L898.57,24.85 L897.24,25.2 L897.56,25.55 L902.07,25.9 L898.91,26.25 L899.75,26.6 L899.34,26.95 L893.36,27.3 L890.76,27.65 L892.31,28 L897.41,28.35 L901.16,28.7 L900.66,29.05 L898.69,29.4 L894.43,29.75 L895.07,30.1 L900.84,30.45 L895.02,30.8 L899.93,31.15 L897.01,31.5 L896.28,31.85 L901.22,32.2 L900.98,32.55 L898.74,32.9 L895.95,33.25 L885.67,33.6 L897.11,33.95 L901.64,34.3 L899.93,34.65 L897.85,35 L895.39,35.35 L897.69,35.7 L898.67,36.05 L898.99,36.4 L900.14,36.75 L893.7,37.1 L899.26,37.45 L899.56,37.8 L901.39,38.15 L901.09,38.5 L897.35,38.85 L900.21,39.2 L901.23,39.55 L897.6,39.9 L891.99,40.25 L894.83,40.6 L898.2,40.95 L896.23,41.3 L895.72,41.65 L905.25,42 L899.31,42.35 L899.21,42.7 L898.1,43.05 L893.97,43.4 L901.69,43.75 L898.7,44.1 L898.69,44.45 L899.03,44.8 L899.24,45.15 L896.02,45.5 L895.05,45.85 L896.9,46.2 L896.46,46.55 L900.93,46.9 L899.28,47.25 L898.32,47.6 L900.82,47.95 L895.72,48.3 L894.85,48.65 L898.49,49 L897.84,49.35 L900.28,49.7 L901.02,50.05 L896.65,50.4 L900.39,50.75 L901.7,51.1 L898.25,51.45 L897.54,51.8 L893.43,52.15 L898.48,52.5 L903.96,52.85 L895.29,53.2 L896.58,53.55 L901.89,53.9 L897.38,54.25 L893.89,54.6 L893.66,54.95 L897.59,55.3 L897.33,55.65 L895.8,56 L901.77,56.35 L895.06,56.7 L897.15,57.05 L901,57.4 L896.4,57.75 L898.5,58.1 L901.61,58.45 L897.16,58.8 L895.65,59.15 L896.75,59.5 L900.39,59.85 L900.24,60.2 L903.84,60.55 L898.19,60.9 L897.57,61.25 L897.71,61.6 L897.85,61.95 L894.43,62.3 L900.18,62.65 L898.49,63 L897.52,63.35 L903.93,63.7 L898.18,64.05 L900.3,64.4 L900.88,64.75 L896.73,65.1 L898.31,65.45 L899.6,65.8 L897.05,66.15 L898.7,66.5 L900.23,66.85 L896.58,67.2 L900.81,67.55 L901.23,67.9 L901.28,68.25 L896.31,68.6 L897.31,68.95 L896.56,69.3 L897.61,69.65 L896.07,70 L895.3,70.35 L898.77,70.7 L896.93,71.05 L899.86,71.4 L897.38,71.75 L899.96,72.1 L907,72.45 L901,72.8 L907,73.15 L902.57,73.5 L896.95,73.85 L889.41,74.2 L898.35,74.55 L895.89,74.9 L892.37,75.25 L892.34,75.6 L896.6,75.95 L898.19,76.3 L900.63,76.65 L895.8,77 L896.58,77.35 L898.49,77.7 L899.87,78.05 L901.32,78.4 L898.41,78.75 L893.83,79.1 L898.09,79.45 L895.3,79.8 L896.67,80.15 L896.16,80.5 L892.71,80.85 L896.49,81.2 L894.92,81.55 L896.72,81.9 L897.57,82.25 L896.33,82.6 L892.44,82.95 L893.93,83.3 L894.97,83.65 L896.72,84 L903.21,84.35 L900.07,84.7 L895.7,85.05 L895.5,85.4 L892.69,85.75 L895.98,86.1 L895.91,86.45 L899.27,86.8 L897.72,87.15 L897.78,87.5 L903.26,87.85 L896.36,88.2 L893.44,88.55 L899.19,88.9 L896.64,89.25 L896.32,89.6 L895.32,89.95 L894.5,90.3 L896.83,90.65 L893.38,91 L893.58,91.35 L889.01,91.7 L888.87,92.05 L892.29,92.4 L887.43,92.75 L874.92,93.1 L875.94,93.45 L876.9,93.8 L873.98,94.15 L865.88,94.5 L860.87,94.85 L856.04,95.2 L859.7,95.2 L859.96,95.55 L863.66,95.9 L868.01,96.25 L875.56,96.6 L881.69,96.95 L886.91,97.3 L891.24,97.65 L890.02,98 L889.96,98.35 L896.77,98.7 L896.58,99.05 L896.47,99.4 L894.62,99.75 L894.35,100.1 L892.18,100.45 L893.78,100.8 L894.64,101.15 L896.09,101.5 L897.18,101.85 L893.11,102.2 L897.25,102.55 L894.63,102.9 L895.1,103.25 L903.17,103.6 L898.65,103.95 L901.89,104.3 L902.21,104.65 L897.36,105 L899.15,105.35 L894.89,105.7 L894.96,106.05 L897.09,106.4 L904.97,106.75 L900.51,107.1 L898.75,107.45 L897.23,107.8 L895.52,108.15 L900.73,108.5 L900.71,108.85 L896.58,109.2 L899.82,109.55 L898.07,109.9 L893.04,110.25 L898.17,110.6 L894.69,110.95 L895.46,111.3 L898.4,111.65 L893.7,112 L890.53,112.35 L896.12,112.7 L891.74,113.05 L907,113.4 L907,113.75 L898.05,114.1 L897,114.45 L898.1,114.8 L897.18,115.15 L899.94,115.5 L899.79,115.85 L898.35,116.2 L899.73,116.55 L897.77,116.9 L899.15,117.25 L903.96,117.6 L896.66,117.95 L898.64,118.3 L896.28,118.65 L902.94,119 L897.25,119.35 L896.4,119.7 L899.73,120.05 L899.84,120.4 L901.91,120.75 L900.99,121.1 L896.11,121.45 L901.88,121.8 L897.78,122.15 L894.94,122.5 L896.58,122.85 L898.24,123.2 L897.44,123.55 L899.08,123.9 L899.1,124.25 L901.78,124.6 L901.13,124.95 L897.9,125.3 L896.68,125.65 L893.52,126 L896.57,126.35 L901.8,126.7 L898.47,127.05 L897.67,127.4 L894.15,127.75 L899.14,128.1 L895.13,128.45 L900.36,128.8 L894.13,129.15 L893.24,129.5 L896.5,129.85 L896.64,130.2 L898.68,130.55 L897.35,130.9 L899.28,131.25 L893.91,131.6 L904.02,131.95 L902.68,132.3 L902.01,132.65 L902.02,133 L900.44,133.35 L900.16,133.7 L899.15,134.05 L899,134.4 L902.74,134.75 L900.36,135.1 L900.88,135.45 L897.79,135.8 L901.35,136.15 L898.81,136.5 L904.03,136.85 L893.52,137.2 L895.27,137.55 L903.74,137.9 L901.73,138.25 L896.14,138.6 L897.32,138.95 L895.4,139.3 L896.06,139.65 L894.6,140 L900.88,140.35 L899.9,140.7 L900.1,141.05 L901.02,141.4 L896.77,141.75 L897.69,142.1 L901.5,142.45 L904.11,142.8 L899.91,143.15 L900.63,143.5 L901.69,143.85 L896.32,144.2 L898.29,144.55 L899.81,144.9 L897.05,145.25 L899.1,145.6 L898.04,145.95 L895.25,146.3 L896.79,146.65 L895.82,147 L899.91,147.35 L894.73,147.7 L898.38,148.05 L900.52,148.4 L900.6,148.75 L903.79,149.1 L896.43,149.45 L897.47,149.8 L896.34,150.15 L906.06,150.5 L900.9,150.85 L897.45,151.2 L896.76,151.55 L897.32,151.9 L900.46,152.25 L898.89,152.6 L900.33,152.95 L902.12,153.3 L898.23,153.65 L898.95,154 L895.92,154.35 L896.01,154.7 L894.14,155.05 L902.15,155.4 L896.37,155.75 L898.69,156.1 L901.47,156.45 L901.66,156.8 L897.94,157.15 L898.85,157.5 L893.7,157.85 L896.88,158.2 L898.32,158.55 L903.05,158.9 L899.09,159.25 L900.97,159.6 L899.37,159.95 L900.71,160.3 L900.62,160.65 L900.66,161 L895.79,161.35 L900.53,161.7 L897.08,162.05 L900.74,162.4 L902.28,162.75 L898.34,163.1 L893.55,163.45 L894.07,163.8 L896.12,164.15 L894.27,164.5 L895.54,164.85 L895.85,165.2 L900.07,165.55 L902.63,165.9 L903.81,166.25 L897.89,166.6 L897.56,166.95 L899.72,167.3 L895.53,167.65 L896.39,168 L903.41,168.35 L900.53,168.7 L895.15,169.05 L899.27,169.4 L899.01,169.75 L897.38,170.1 L896.31,170.45 L895.34,170.8 L903.9,171.15 L900.75,171.5 L901.86,171.85 L897.85,172.2 L897.63,172.55 L896.11,172.9 L895.33,173.25 L896.99,173.6 L896.81,173.95 L895.39,174.3 L898.22,174.65 L898.63,175 L894.12,175.35 L900.11,175.7 L894.48,176.05 L892.24,176.4 L894.61,176.75 L892.31,177.1 L903.07,177.45 L898.76,177.8 L892.96,178.15 L897.12,178.5 L892.3,178.85 L898.97,179.2 L900.62,179.55 L902.86,179.9 L900.87,180.25 L898.16,180.6 L904.85,180.95 L905.9,181.3 L896.7,181.65 L893.84,182 L899.58,182.35 L885.22,182.7 L892.84,183.05 L899.4,183.4 L904.68,183.75 L900.11,184.1 L904.66,184.45 L903.85,184.8 L896.85,185.15 L896.27,185.5 L897.51,185.85 L897.13,186.2 L901.03,186.55 L897.35,186.9 L898.5,187.25 L899.87,187.6 L897.77,187.95 L896.71,188.3 L898.31,188.65 L899.54,189 L902.3,189.35 L900.62,189.7 L899.4,190.05 L903.01,190.4 L896.49,190.75 L895.91,191.1 L882.61,191.45 L894.89,191.8 L899.8,192.15 L899.62,192.5 L900.51,192.85 L896.28,193.2 L900.71,193.55 L899.33,193.9 L900.9,194.25 L897.44,194.6 L901.93,194.95 L896.33,195.3 L901.01,195.65 L897.36,196 L896.93,196.35 L899.93,196.7 L899.96,197.05 L898.24,197.4 L901.68,197.75 L899.96,198.1 L898.79,198.45 L894.01,198.8 L901.37,199.15 L895.64,199.5 L896.45,199.85 L898.62,200.2 L895.4,200.55 L896.42,200.9 L895.03,201.25 L897.9,201.6 L896.77,201.95 L893.82,202.3 L898.96,202.65 L898.86,203 L901.61,203.35 L898.55,203.7 L898.49,204.05 L893.67,204.4 L894.91,204.75 L900.64,205.1 L899.35,205.45 L897.69,205.8 L902.97,206.15 L896.6,206.5 L896.61,206.85 L901.59,207.2 L901.05,207.55 L896.78,207.9 L895.82,208.25 L901.95,208.6 L901.91,208.95 L901.49,209.3 L902.62,209.65 L902.01,210 L900.36,210.35 L899.69,210.7 L898.62,211.05 L899.96,211.4 L898.7,211.75 L900.41,212.1 L899.42,212.45 L896.96,212.8 L901.67,213.15 L907,213.5 L902.67,213.85 L899.76,214.2 L900.77,214.55 L893.09,214.9 L898.57,215.25 L907,215.6 L900.36,215.95 L898.38,216.3 L897.68,216.65 L900.57,217 L896.32,217.35 L893.94,217.7 L900.47,218.05 L899.47,218.4 L901.07,218.75 L900,219.1 L900.34,219.45 L897.87,219.8 L900.96,220.15 L900.21,220.5 L895.35,220.85 L896.75,221.2 L891.93,221.55 L897.64,221.9 L900.09,222.25 L898.37,222.6 L896.36,222.95 L900.18,223.3 L897.88,223.65 L898.71,224 L898.17,224.35 L903.05,224.7 L902.27,225.05 L898.47,225.4 L898.29,225.75 L899.8,226.1 L899.71,226.45 L897.64,226.8 L900.73,227.15 L898.38,227.5 L896.37,227.85 L898.91,228.2 L899.89,228.55 L896.55,228.9 L899.32,229.25 L897.91,229.6 L904.27,229.95 L903.44,230.3 L900.12,230.65 L900.9,231 L898.55,231.35 L899.14,231.7 L902.37,232.05 L900.52,232.4 L895.06,232.75 L891.21,233.1 L897.53,233.45 L896.48,233.8 L900.37,234.15 L896.15,234.5 L899.23,234.85 L898.32,235.2 L899.14,235.55 L900.17,235.9 L901.17,236.25 L898.36,236.6 L897.22,236.95 L903.83,237.3 L899.99,237.65 L895.33,238 L895.05,238.35 L898.74,238.7 L897.41,239.05 L896.16,239.4 L899.7,239.75 L891.33,240.1 L889.21,240.45 L896.43,240.8 L891.23,241.15 L887.48,241.5 L887.61,241.85 L883.69,242.2 L868.89,242.55 L860.17,242.9 L845.09,243.25 L837,243.5 L840.08,243.6 L852.1,243.95 L865.7,244.3 L876.18,244.65 L882.78,245 L889.49,245.35 L887.96,245.7 L891.05,246.05 L895.99,246.4 L894.98,246.75 L893.98,247.1 L899.52,247.45 L902.09,247.8 L897.04,248.15 L893.65,248.5 L896.52,248.85 L897.13,249.2 L894.14,249.55 L895.98,249.9 L898.72,250.25 L898.91,250.6 L898.48,250.95 L900.22,251.3 L900.38,251.65 L901.33,252 L907,252.35 L901.1,252.7 L901.97,253.05 L898.65,253.4 L896.3,253.75 L895.46,254.1 L901.34,254.45 L896.47,254.8 L896.65,255.15 L900.14,255.5 L894.58,255.85 L896.41,256.2 L893.46,256.55 L891.69,256.9 L893.43,257.25 L896.04,257.6 L895.2,257.95 L907,258.3 L899.61,258.65 L899.23,259 L899.09,259.35 L899.87,259.7 L898.59,260.05 L895.5,260.4 L896.85,260.75 L899.56,261.1 L893.89,261.45 L893.94,261.8 L894.25,262.15 L896.21,262.5 L894.74,262.85 L898.05,263.2 L899.43,263.55 L897.33,263.9 L898.39,264.25 L897.06,264.6 L897.48,264.95 L898.61,265.3 L901.46,265.65 L900.09,266 L899.14,266.35 L900.08,266.7 L899.63,267.05 L900.3,267.4 L903.96,267.75 L902.22,268.1 L896.9,268.45 L896.02,268.8 L894.76,269.15 L903.11,269.5 L893.24,269.85 L896.47,270.2 L896.33,270.55 L898.68,270.9 L899.21,271.25 L895.61,271.6 L900.68,271.95 L899.39,272.3 L898.59,272.65 L899.61,273 L894.6,273.35 L899.6,273.7 L894.76,274.05 L900.08,274.4 L898.04,274.75 L898.84,275.1 L898.24,275.45 L896.47,275.8 L899.6,276.15 L896.27,276.5 L900.74,276.85 L904.03,277.2 L898.55,277.55 L898.39,277.9 L896.63,278.25 L897.31,278.6 L896.69,278.95 L893.73,279.3 L899.54,279.65 L896.83,280 L899.38,280.35 L900.22,280.7 L904.12,281.05 L905.94,281.4 L905.25,281.75 L900.68,282.1 L901.67,282.45 L898.69,282.8 L902.45,283.15 L900.47,283.5 L901.24,283.85 L897.46,284.2 L896.3,284.55 L893.83,284.9 L893.64,285.25 L893.85,285.6 L897.22,285.95 L897.09,286.3 L895.44,286.65 L896.29,287 L899.19,287.35 L897.99,287.7 L898.29,288.05 L895.48,288.4 L895.77,288.75 L889.68,289.1 L897.9,289.45 L897.67,289.8 L890.36,290.15 L902.05,290.5 L905.09,290.85 L902.18,291.2 L896.19,291.55 L898.84,291.9 L890.73,292.25 L899.39,292.6 L895.68,292.95 L894.65,293.3 L898.45,293.65 L896.65,294 L901.75,294.35 L900.01,294.7 L895.89,295.05 L900.61,295.4 L895.44,295.75 L898.16,296.1 L896.96,296.45 L900.46,296.8 L899.54,297.15 L899.98,297.5 L899.98,297.85 L887.91,298.2 L892.03,298.55 L897.87,298.9 L901.91,299.25 L900.62,299.6 L907,299.95 L899.8,300.3 L900.75,300.65 L895.82,301 L895.37,301.35 L896.68,301.7 L895.26,302.05 L901.05,302.4 L897.82,302.75 L902.36,303.1 L899.32,303.45 L897.7,303.8 L900.8,304.15 L894.72,304.5 L899.77,304.85 L892.53,305.2 L896.74,305.55 L898.38,305.9 L901.91,306.25 L898.17,306.6 L903.45,306.95 L902.11,307.3 L898.34,307.65 L897.54,308 L898.56,308.35 L892.4,308.7 L899.34,309.05 L897.77,309.4 L896.57,309.75 L899.6,310.1 L897.54,310.45 L900.45,310.8 L894.34,311.15 L907,311.5 L904.47,311.85 L897.01,312.2 L901.11,312.55 L907,312.9 L898.15,313.25 L895.96,313.6 L898.34,313.95 L896.74,314.3 L894.89,314.65 L900.23,315 L898.8,315.35 L891.36,315.7 L887.97,316.05 L892.73,316.4 L899.29,316.75 L899.33,317.1 L901.15,317.45 L899.1,317.8 L897.54,318.15 L895.15,318.5 L894.63,318.85 L896.98,319.2 L893.59,319.55 L902.46,319.9 L900,320.25 L901.29,320.6 L899.56,320.95 L902.32,321.3 L902.44,321.65 L901.9,322 L905.6,322.35 L898.08,322.7 L898.22,323.05 L897.67,323.4 L898.74,323.75 L895.82,324.1 L896.78,324.45 L898.96,324.8 L897.37,325.15 L895.19,325.5 L899.68,325.85 L898.46,326.2 L898.68,326.55 L898.13,326.9 L894.26,327.25 L898.69,327.6 L898.77,327.95 L890.29,328.3 L892.44,328.65 L898.79,329 L899.53,329.35 L897.3,329.7 L900.88,330.05 L902.31,330.4 L898.32,330.75 L896.7,331.1 L899.41,331.45 L896.84,331.8" fill="none" stroke="#1f9e74" stroke-width="1.7" stroke-linejoin="round"/>
<path d="M898.6,0 L898.6,0.2 L898.6,0.4 L898.6,0.6 L898.6,0.8 L898.6,1 L898.6,1.2 L898.6,1.4 L898.6,1.6 L898.6,1.8 L898.6,2 L898.6,2.2 L898.6,2.4 L898.6,2.6 L898.6,2.8 L898.6,3 L898.6,3.2 L898.6,3.4 L898.6,3.6 L898.6,3.8 L898.6,4 L898.6,4.2 L898.6,4.4 L898.6,4.6 L898.6,4.8 L898.6,5 L898.6,5.2 L898.6,5.4 L898.6,5.6 L898.6,5.8 L898.6,6 L898.6,6.2 L898.6,6.4 L898.6,6.6 L898.6,6.8 L898.6,7 L898.6,7.2 L898.6,7.4 L898.6,7.6 L898.6,7.8 L898.6,8 L898.6,8.2 L898.6,8.4 L898.6,8.6 L898.6,8.8 L898.6,9 L898.6,9.2 L898.6,9.4 L898.6,9.6 L898.6,9.8 L898.6,10 L898.6,10.2 L898.6,10.4 L898.6,10.6 L898.6,10.8 L898.6,11 L898.6,11.2 L898.6,11.4 L898.6,11.6 L898.6,11.8 L898.6,12 L898.6,12.2 L898.59,12.4 L898.59,12.6 L898.59,12.8 L898.59,13 L898.59,13.2 L898.59,13.4 L898.59,13.6 L898.59,13.8 L898.59,14 L898.59,14.2 L898.59,14.4 L898.59,14.6 L898.59,14.8 L898.59,15 L898.59,15.2 L898.59,15.4 L898.59,15.6 L898.59,15.8 L898.59,16 L898.59,16.2 L898.59,16.4 L898.59,16.6 L898.59,16.8 L898.59,17 L898.59,17.2 L898.59,17.4 L898.59,17.6 L898.59,17.8 L898.59,18 L898.59,18.2 L898.59,18.4 L898.59,18.6 L898.59,18.8 L898.59,19 L898.59,19.2 L898.59,19.4 L898.59,19.6 L898.59,19.8 L898.59,20 L898.59,20.2 L898.59,20.4 L898.59,20.6 L898.59,20.8 L898.59,21 L898.59,21.2 L898.59,21.4 L898.59,21.6 L898.59,21.8 L898.59,22 L898.59,22.2 L898.59,22.4 L898.59,22.6 L898.59,22.8 L898.59,23 L898.59,23.2 L898.59,23.4 L898.59,23.6 L898.59,23.8 L898.59,24 L898.59,24.2 L898.59,24.4 L898.59,24.6 L898.59,24.8 L898.59,25 L898.59,25.2 L898.59,25.4 L898.59,25.6 L898.59,25.8 L898.59,26 L898.59,26.2 L898.59,26.4 L898.59,26.6 L898.59,26.8 L898.59,27 L898.59,27.2 L898.59,27.4 L898.59,27.6 L898.59,27.8 L898.59,28 L898.59,28.2 L898.59,28.4 L898.59,28.6 L898.59,28.8 L898.59,29 L898.59,29.2 L898.59,29.4 L898.59,29.6 L898.59,29.8 L898.59,30 L898.59,30.2 L898.59,30.4 L898.59,30.6 L898.59,30.8 L898.59,31 L898.59,31.2 L898.59,31.4 L898.59,31.6 L898.59,31.8 L898.59,32 L898.59,32.2 L898.59,32.4 L898.59,32.6 L898.59,32.8 L898.59,33 L898.59,33.2 L898.59,33.4 L898.59,33.6 L898.59,33.8 L898.59,34 L898.59,34.2 L898.59,34.4 L898.59,34.6 L898.59,34.8 L898.59,35 L898.59,35.2 L898.59,35.4 L898.59,35.6 L898.59,35.8 L898.59,36 L898.59,36.2 L898.59,36.4 L898.59,36.6 L898.59,36.8 L898.59,37 L898.59,37.2 L898.59,37.4 L898.59,37.6 L898.59,37.8 L898.59,38 L898.59,38.2 L898.59,38.4 L898.59,38.6 L898.59,38.8 L898.59,39 L898.59,39.2 L898.59,39.4 L898.59,39.6 L898.59,39.8 L898.59,40 L898.59,40.2 L898.59,40.4 L898.59,40.6 L898.59,40.8 L898.59,41 L898.59,41.2 L898.59,41.4 L898.59,41.6 L898.59,41.8 L898.59,42 L898.59,42.2 L898.59,42.4 L898.59,42.6 L898.59,42.8 L898.59,43 L898.59,43.2 L898.59,43.4 L898.59,43.6 L898.59,43.8 L898.59,44 L898.59,44.2 L898.59,44.4 L898.59,44.6 L898.59,44.8 L898.59,45 L898.59,45.2 L898.59,45.4 L898.59,45.6 L898.59,45.8 L898.59,46 L898.59,46.2 L898.59,46.4 L898.59,46.6 L898.59,46.8 L898.59,47 L898.59,47.2 L898.59,47.4 L898.59,47.6 L898.59,47.8 L898.59,48 L898.59,48.2 L898.59,48.4 L898.59,48.6 L898.59,48.8 L898.59,49 L898.58,49.2 L898.58,49.4 L898.58,49.6 L898.58,49.8 L898.58,50 L898.58,50.2 L898.58,50.4 L898.58,50.6 L898.58,50.8 L898.58,51 L898.58,51.2 L898.58,51.4 L898.58,51.6 L898.58,51.8 L898.58,52 L898.58,52.2 L898.58,52.4 L898.58,52.6 L898.58,52.8 L898.58,53 L898.58,53.2 L898.58,53.4 L898.58,53.6 L898.58,53.8 L898.58,54 L898.58,54.2 L898.58,54.4 L898.58,54.6 L898.58,54.8 L898.58,55 L898.58,55.2 L898.58,55.4 L898.58,55.6 L898.58,55.8 L898.58,56 L898.58,56.2 L898.58,56.4 L898.58,56.6 L898.58,56.8 L898.58,57 L898.58,57.2 L898.58,57.4 L898.58,57.6 L898.58,57.8 L898.58,58 L898.58,58.2 L898.58,58.4 L898.58,58.6 L898.58,58.8 L898.58,59 L898.58,59.2 L898.58,59.4 L898.58,59.6 L898.58,59.8 L898.57,60 L898.57,60.2 L898.57,60.4 L898.57,60.6 L898.57,60.8 L898.57,61 L898.57,61.2 L898.57,61.4 L898.57,61.6 L898.57,61.8 L898.57,62 L898.57,62.2 L898.57,62.4 L898.57,62.6 L898.57,62.8 L898.57,63 L898.57,63.2 L898.57,63.4 L898.57,63.6 L898.57,63.8 L898.57,64 L898.57,64.2 L898.57,64.4 L898.57,64.6 L898.57,64.8 L898.57,65 L898.57,65.2 L898.57,65.4 L898.57,65.6 L898.56,65.8 L898.56,66 L898.56,66.2 L898.56,66.4 L898.56,66.6 L898.56,66.8 L898.56,67 L898.56,67.2 L898.56,67.4 L898.56,67.6 L898.56,67.8 L898.56,68 L898.56,68.2 L898.56,68.4 L898.56,68.6 L898.56,68.8 L898.56,69 L898.56,69.2 L898.55,69.4 L898.55,69.6 L898.55,69.8 L898.55,70 L898.55,70.2 L898.55,70.4 L898.55,70.6 L898.55,70.8 L898.55,71 L898.55,71.2 L898.55,71.4 L898.55,71.6 L898.54,71.8 L898.54,72 L898.54,72.2 L898.54,72.4 L898.54,72.6 L898.54,72.8 L898.54,73 L898.54,73.2 L898.54,73.4 L898.54,73.6 L898.53,73.8 L898.53,74 L898.53,74.2 L898.53,74.4 L898.53,74.6 L898.53,74.8 L898.53,75 L898.53,75.2 L898.52,75.4 L898.52,75.6 L898.52,75.8 L898.52,76 L898.52,76.2 L898.52,76.4 L898.51,76.6 L898.51,76.8 L898.51,77 L898.51,77.2 L898.51,77.4 L898.5,77.6 L898.5,77.8 L898.5,78 L898.5,78.2 L898.5,78.4 L898.49,78.6 L898.49,78.8 L898.49,79 L898.49,79.2 L898.48,79.4 L898.48,79.6 L898.48,79.8 L898.47,80 L898.47,80.2 L898.47,80.4 L898.46,80.6 L898.46,80.8 L898.46,81 L898.45,81.2 L898.45,81.4 L898.44,81.6 L898.44,81.8 L898.43,82 L898.43,82.2 L898.42,82.4 L898.42,82.6 L898.41,82.8 L898.41,83 L898.4,83.2 L898.39,83.4 L898.39,83.6 L898.38,83.8 L898.37,84 L898.36,84.2 L898.36,84.4 L898.35,84.6 L898.34,84.8 L898.33,85 L898.32,85.2 L898.31,85.4 L898.29,85.6 L898.28,85.8 L898.27,86 L898.25,86.2 L898.24,86.4 L898.22,86.6 L898.21,86.8 L898.19,87 L898.17,87.2 L898.15,87.4 L898.12,87.6 L898.1,87.8 L898.07,88 L898.04,88.2 L898.01,88.4 L897.98,88.6 L897.94,88.8 L897.9,89 L897.86,89.2 L897.81,89.4 L897.76,89.6 L897.7,89.8 L897.63,90 L897.56,90.2 L897.48,90.4 L897.39,90.6 L897.29,90.8 L897.18,91 L897.05,91.2 L896.9,91.4 L896.73,91.6 L896.53,91.8 L896.3,92 L896.03,92.2 L895.71,92.4 L895.33,92.6 L894.87,92.8 L894.3,93 L893.6,93.2 L892.71,93.4 L891.58,93.6 L890.1,93.8 L888.6,94 L888.6,94.2 L888.6,94.4 L888.6,94.6 L888.6,94.8 L888.6,95 L888.6,95.2 L888.6,95.4 L888.6,95.6 L888.6,95.8 L888.6,96 L888.6,96.2 L888.6,96.4 L888.6,96.6 L888.6,96.8 L888.6,97 L888.6,97.2 L890.1,97.4 L891.58,97.6 L892.71,97.8 L893.6,98 L894.3,98.2 L894.87,98.4 L895.33,98.6 L895.71,98.8 L896.03,99 L896.3,99.2 L896.53,99.4 L896.73,99.6 L896.9,99.8 L897.05,100 L897.18,100.2 L897.29,100.4 L897.39,100.6 L897.48,100.8 L897.56,101 L897.63,101.2 L897.7,101.4 L897.76,101.6 L897.81,101.8 L897.86,102 L897.9,102.2 L897.94,102.4 L897.98,102.6 L898.01,102.8 L898.04,103 L898.07,103.2 L898.1,103.4 L898.12,103.6 L898.15,103.8 L898.17,104 L898.19,104.2 L898.21,104.4 L898.22,104.6 L898.24,104.8 L898.25,105 L898.27,105.2 L898.28,105.4 L898.29,105.6 L898.31,105.8 L898.32,106 L898.33,106.2 L898.34,106.4 L898.35,106.6 L898.36,106.8 L898.36,107 L898.37,107.2 L898.38,107.4 L898.39,107.6 L898.39,107.8 L898.4,108 L898.41,108.2 L898.41,108.4 L898.42,108.6 L898.42,108.8 L898.43,109 L898.43,109.2 L898.44,109.4 L898.44,109.6 L898.45,109.8 L898.45,110 L898.45,110.2 L898.46,110.4 L898.46,110.6 L898.47,110.8 L898.47,111 L898.47,111.2 L898.48,111.4 L898.48,111.6 L898.48,111.8 L898.48,112 L898.49,112.2 L898.49,112.4 L898.49,112.6 L898.49,112.8 L898.5,113 L898.5,113.2 L898.5,113.4 L898.5,113.6 L898.51,113.8 L898.51,114 L898.51,114.2 L898.51,114.4 L898.51,114.6 L898.52,114.8 L898.52,115 L898.52,115.2 L898.52,115.4 L898.52,115.6 L898.52,115.8 L898.52,116 L898.53,116.2 L898.53,116.4 L898.53,116.6 L898.53,116.8 L898.53,117 L898.53,117.2 L898.53,117.4 L898.53,117.6 L898.54,117.8 L898.54,118 L898.54,118.2 L898.54,118.4 L898.54,118.6 L898.54,118.8 L898.54,119 L898.54,119.2 L898.54,119.4 L898.54,119.6 L898.55,119.8 L898.55,120 L898.55,120.2 L898.55,120.4 L898.55,120.6 L898.55,120.8 L898.55,121 L898.55,121.2 L898.55,121.4 L898.55,121.6 L898.55,121.8 L898.55,122 L898.55,122.2 L898.56,122.4 L898.56,122.6 L898.56,122.8 L898.56,123 L898.56,123.2 L898.56,123.4 L898.56,123.6 L898.56,123.8 L898.56,124 L898.56,124.2 L898.56,124.4 L898.56,124.6 L898.56,124.8 L898.56,125 L898.56,125.2 L898.56,125.4 L898.56,125.6 L898.56,125.8 L898.56,126 L898.57,126.2 L898.57,126.4 L898.57,126.6 L898.57,126.8 L898.57,127 L898.57,127.2 L898.57,127.4 L898.57,127.6 L898.57,127.8 L898.57,128 L898.57,128.2 L898.57,128.4 L898.57,128.6 L898.57,128.8 L898.57,129 L898.57,129.2 L898.57,129.4 L898.57,129.6 L898.57,129.8 L898.57,130 L898.57,130.2 L898.57,130.4 L898.57,130.6 L898.57,130.8 L898.57,131 L898.57,131.2 L898.57,131.4 L898.57,131.6 L898.57,131.8 L898.57,132 L898.57,132.2 L898.57,132.4 L898.58,132.6 L898.58,132.8 L898.58,133 L898.58,133.2 L898.58,133.4 L898.58,133.6 L898.58,133.8 L898.58,134 L898.58,134.2 L898.58,134.4 L898.58,134.6 L898.58,134.8 L898.58,135 L898.58,135.2 L898.58,135.4 L898.58,135.6 L898.58,135.8 L898.58,136 L898.58,136.2 L898.58,136.4 L898.58,136.6 L898.58,136.8 L898.58,137 L898.58,137.2 L898.58,137.4 L898.58,137.6 L898.58,137.8 L898.58,138 L898.58,138.2 L898.58,138.4 L898.58,138.6 L898.58,138.8 L898.58,139 L898.58,139.2 L898.58,139.4 L898.58,139.6 L898.58,139.8 L898.58,140 L898.58,140.2 L898.58,140.4 L898.58,140.6 L898.58,140.8 L898.58,141 L898.58,141.2 L898.58,141.4 L898.58,141.6 L898.58,141.8 L898.58,142 L898.58,142.2 L898.58,142.4 L898.58,142.6 L898.58,142.8 L898.58,143 L898.58,143.2 L898.58,143.4 L898.58,143.6 L898.58,143.8 L898.58,144 L898.58,144.2 L898.58,144.4 L898.58,144.6 L898.58,144.8 L898.58,145 L898.58,145.2 L898.58,145.4 L898.58,145.6 L898.58,145.8 L898.58,146 L898.58,146.2 L898.58,146.4 L898.58,146.6 L898.59,146.8 L898.59,147 L898.59,147.2 L898.59,147.4 L898.59,147.6 L898.59,147.8 L898.59,148 L898.59,148.2 L898.59,148.4 L898.59,148.6 L898.59,148.8 L898.59,149 L898.59,149.2 L898.59,149.4 L898.59,149.6 L898.59,149.8 L898.59,150 L898.59,150.2 L898.59,150.4 L898.59,150.6 L898.59,150.8 L898.59,151 L898.59,151.2 L898.59,151.4 L898.59,151.6 L898.59,151.8 L898.59,152 L898.59,152.2 L898.59,152.4 L898.59,152.6 L898.59,152.8 L898.59,153 L898.59,153.2 L898.59,153.4 L898.59,153.6 L898.59,153.8 L898.59,154 L898.59,154.2 L898.59,154.4 L898.59,154.6 L898.59,154.8 L898.59,155 L898.59,155.2 L898.59,155.4 L898.59,155.6 L898.59,155.8 L898.59,156 L898.59,156.2 L898.59,156.4 L898.59,156.6 L898.59,156.8 L898.59,157 L898.59,157.2 L898.59,157.4 L898.59,157.6 L898.59,157.8 L898.59,158 L898.59,158.2 L898.59,158.4 L898.59,158.6 L898.59,158.8 L898.59,159 L898.59,159.2 L898.59,159.4 L898.59,159.6 L898.59,159.8 L898.59,160 L898.59,160.2 L898.59,160.4 L898.59,160.6 L898.59,160.8 L898.59,161 L898.59,161.2 L898.59,161.4 L898.59,161.6 L898.59,161.8 L898.59,162 L898.59,162.2 L898.59,162.4 L898.59,162.6 L898.59,162.8 L898.59,163 L898.59,163.2 L898.59,163.4 L898.59,163.6 L898.59,163.8 L898.59,164 L898.59,164.2 L898.59,164.4 L898.59,164.6 L898.59,164.8 L898.59,165 L898.59,165.2 L898.59,165.4 L898.59,165.6 L898.59,165.8 L898.59,166 L898.59,166.2 L898.59,166.4 L898.59,166.6 L898.59,166.8 L898.59,167 L898.59,167.2 L898.59,167.4 L898.59,167.6 L898.59,167.8 L898.59,168 L898.59,168.2 L898.59,168.4 L898.59,168.6 L898.59,168.8 L898.59,169 L898.59,169.2 L898.59,169.4 L898.59,169.6 L898.59,169.8 L898.59,170 L898.59,170.2 L898.59,170.4 L898.59,170.6 L898.59,170.8 L898.59,171 L898.59,171.2 L898.59,171.4 L898.59,171.6 L898.59,171.8 L898.59,172 L898.59,172.2 L898.59,172.4 L898.59,172.6 L898.59,172.8 L898.59,173 L898.59,173.2 L898.59,173.4 L898.59,173.6 L898.59,173.8 L898.59,174 L898.59,174.2 L898.59,174.4 L898.59,174.6 L898.59,174.8 L898.59,175 L898.59,175.2 L898.59,175.4 L898.59,175.6 L898.59,175.8 L898.59,176 L898.59,176.2 L898.59,176.4 L898.59,176.6 L898.59,176.8 L898.59,177 L898.59,177.2 L898.59,177.4 L898.59,177.6 L898.59,177.8 L898.59,178 L898.59,178.2 L898.59,178.4 L898.59,178.6 L898.59,178.8 L898.59,179 L898.59,179.2 L898.59,179.4 L898.59,179.6 L898.59,179.8 L898.59,180 L898.59,180.2 L898.59,180.4 L898.59,180.6 L898.59,180.8 L898.59,181 L898.59,181.2 L898.59,181.4 L898.59,181.6 L898.59,181.8 L898.59,182 L898.59,182.2 L898.59,182.4 L898.59,182.6 L898.59,182.8 L898.59,183 L898.59,183.2 L898.59,183.4 L898.59,183.6 L898.59,183.8 L898.59,184 L898.59,184.2 L898.59,184.4 L898.59,184.6 L898.59,184.8 L898.59,185 L898.59,185.2 L898.59,185.4 L898.59,185.6 L898.59,185.8 L898.59,186 L898.59,186.2 L898.59,186.4 L898.59,186.6 L898.59,186.8 L898.59,187 L898.59,187.2 L898.59,187.4 L898.59,187.6 L898.59,187.8 L898.59,188 L898.59,188.2 L898.59,188.4 L898.59,188.6 L898.59,188.8 L898.59,189 L898.59,189.2 L898.59,189.4 L898.59,189.6 L898.59,189.8 L898.59,190 L898.59,190.2 L898.59,190.4 L898.59,190.6 L898.59,190.8 L898.59,191 L898.59,191.2 L898.59,191.4 L898.59,191.6 L898.59,191.8 L898.59,192 L898.59,192.2 L898.59,192.4 L898.59,192.6 L898.59,192.8 L898.59,193 L898.59,193.2 L898.58,193.4 L898.58,193.6 L898.58,193.8 L898.58,194 L898.58,194.2 L898.58,194.4 L898.58,194.6 L898.58,194.8 L898.58,195 L898.58,195.2 L898.58,195.4 L898.58,195.6 L898.58,195.8 L898.58,196 L898.58,196.2 L898.58,196.4 L898.58,196.6 L898.58,196.8 L898.58,197 L898.58,197.2 L898.58,197.4 L898.58,197.6 L898.58,197.8 L898.58,198 L898.58,198.2 L898.58,198.4 L898.58,198.6 L898.58,198.8 L898.58,199 L898.58,199.2 L898.58,199.4 L898.58,199.6 L898.58,199.8 L898.58,200 L898.58,200.2 L898.58,200.4 L898.58,200.6 L898.58,200.8 L898.58,201 L898.58,201.2 L898.58,201.4 L898.58,201.6 L898.58,201.8 L898.58,202 L898.58,202.2 L898.58,202.4 L898.58,202.6 L898.58,202.8 L898.58,203 L898.58,203.2 L898.58,203.4 L898.58,203.6 L898.58,203.8 L898.58,204 L898.58,204.2 L898.58,204.4 L898.58,204.6 L898.58,204.8 L898.58,205 L898.58,205.2 L898.58,205.4 L898.58,205.6 L898.58,205.8 L898.58,206 L898.58,206.2 L898.58,206.4 L898.58,206.6 L898.58,206.8 L898.58,207 L898.58,207.2 L898.58,207.4 L898.58,207.6 L898.57,207.8 L898.57,208 L898.57,208.2 L898.57,208.4 L898.57,208.6 L898.57,208.8 L898.57,209 L898.57,209.2 L898.57,209.4 L898.57,209.6 L898.57,209.8 L898.57,210 L898.57,210.2 L898.57,210.4 L898.57,210.6 L898.57,210.8 L898.57,211 L898.57,211.2 L898.57,211.4 L898.57,211.6 L898.57,211.8 L898.57,212 L898.57,212.2 L898.57,212.4 L898.57,212.6 L898.57,212.8 L898.57,213 L898.57,213.2 L898.57,213.4 L898.57,213.6 L898.57,213.8 L898.57,214 L898.56,214.2 L898.56,214.4 L898.56,214.6 L898.56,214.8 L898.56,215 L898.56,215.2 L898.56,215.4 L898.56,215.6 L898.56,215.8 L898.56,216 L898.56,216.2 L898.56,216.4 L898.56,216.6 L898.56,216.8 L898.56,217 L898.56,217.2 L898.56,217.4 L898.56,217.6 L898.56,217.8 L898.55,218 L898.55,218.2 L898.55,218.4 L898.55,218.6 L898.55,218.8 L898.55,219 L898.55,219.2 L898.55,219.4 L898.55,219.6 L898.55,219.8 L898.55,220 L898.55,220.2 L898.55,220.4 L898.55,220.6 L898.54,220.8 L898.54,221 L898.54,221.2 L898.54,221.4 L898.54,221.6 L898.54,221.8 L898.54,222 L898.54,222.2 L898.54,222.4 L898.54,222.6 L898.53,222.8 L898.53,223 L898.53,223.2 L898.53,223.4 L898.53,223.6 L898.53,223.8 L898.53,224 L898.53,224.2 L898.52,224.4 L898.52,224.6 L898.52,224.8 L898.52,225 L898.52,225.2 L898.52,225.4 L898.52,225.6 L898.51,225.8 L898.51,226 L898.51,226.2 L898.51,226.4 L898.51,226.6 L898.5,226.8 L898.5,227 L898.5,227.2 L898.5,227.4 L898.5,227.6 L898.49,227.8 L898.49,228 L898.49,228.2 L898.49,228.4 L898.48,228.6 L898.48,228.8 L898.48,229 L898.47,229.2 L898.47,229.4 L898.47,229.6 L898.46,229.8 L898.46,230 L898.46,230.2 L898.45,230.4 L898.45,230.6 L898.44,230.8 L898.44,231 L898.44,231.2 L898.43,231.4 L898.43,231.6 L898.42,231.8 L898.42,232 L898.41,232.2 L898.4,232.4 L898.4,232.6 L898.39,232.8 L898.38,233 L898.38,233.2 L898.37,233.4 L898.36,233.6 L898.35,233.8 L898.35,234 L898.34,234.2 L898.33,234.4 L898.32,234.6 L898.3,234.8 L898.29,235 L898.28,235.2 L898.27,235.4 L898.25,235.6 L898.24,235.8 L898.22,236 L898.21,236.2 L898.19,236.4 L898.17,236.6 L898.15,236.8 L898.13,237 L898.1,237.2 L898.08,237.4 L898.05,237.6 L898.02,237.8 L897.99,238 L897.95,238.2 L897.91,238.4 L897.87,238.6 L897.83,238.8 L897.78,239 L897.72,239.2 L897.66,239.4 L897.59,239.6 L897.52,239.8 L897.44,240 L897.34,240.2 L897.24,240.4 L897.12,240.6 L896.98,240.8 L896.83,241 L896.65,241.2 L896.45,241.4 L896.21,241.6 L895.93,241.8 L895.59,242 L895.19,242.2 L894.71,242.4 L894.12,242.6 L893.39,242.8 L892.47,243 L891.29,243.2 L889.75,243.4 L888.6,243.6 L888.6,243.8 L888.6,244 L888.6,244.2 L888.6,244.4 L888.6,244.6 L888.6,244.8 L888.6,245 L888.6,245.2 L888.6,245.4 L888.6,245.6 L888.6,245.8 L888.6,246 L888.6,246.2 L888.6,246.4 L888.6,246.6 L888.6,246.8 L889.75,247 L891.29,247.2 L892.47,247.4 L893.39,247.6 L894.12,247.8 L894.71,248 L895.19,248.2 L895.59,248.4 L895.93,248.6 L896.21,248.8 L896.45,249 L896.65,249.2 L896.83,249.4 L896.98,249.6 L897.12,249.8 L897.24,250 L897.34,250.2 L897.44,250.4 L897.52,250.6 L897.59,250.8 L897.66,251 L897.72,251.2 L897.78,251.4 L897.83,251.6 L897.87,251.8 L897.92,252 L897.95,252.2 L897.99,252.4 L898.02,252.6 L898.05,252.8 L898.08,253 L898.1,253.2 L898.13,253.4 L898.15,253.6 L898.17,253.8 L898.19,254 L898.21,254.2 L898.22,254.4 L898.24,254.6 L898.25,254.8 L898.27,255 L898.28,255.2 L898.29,255.4 L898.31,255.6 L898.32,255.8 L898.33,256 L898.34,256.2 L898.35,256.4 L898.35,256.6 L898.36,256.8 L898.37,257 L898.38,257.2 L898.39,257.4 L898.39,257.6 L898.4,257.8 L898.4,258 L898.41,258.2 L898.42,258.4 L898.42,258.6 L898.43,258.8 L898.43,259 L898.44,259.2 L898.44,259.4 L898.45,259.6 L898.45,259.8 L898.45,260 L898.46,260.2 L898.46,260.4 L898.46,260.6 L898.47,260.8 L898.47,261 L898.47,261.2 L898.48,261.4 L898.48,261.6 L898.48,261.8 L898.49,262 L898.49,262.2 L898.49,262.4 L898.49,262.6 L898.5,262.8 L898.5,263 L898.5,263.2 L898.5,263.4 L898.5,263.6 L898.51,263.8 L898.51,264 L898.51,264.2 L898.51,264.4 L898.51,264.6 L898.52,264.8 L898.52,265 L898.52,265.2 L898.52,265.4 L898.52,265.6 L898.52,265.8 L898.53,266 L898.53,266.2 L898.53,266.4 L898.53,266.6 L898.53,266.8 L898.53,267 L898.53,267.2 L898.53,267.4 L898.54,267.6 L898.54,267.8 L898.54,268 L898.54,268.2 L898.54,268.4 L898.54,268.6 L898.54,268.8 L898.54,269 L898.54,269.2 L898.54,269.4 L898.55,269.6 L898.55,269.8 L898.55,270 L898.55,270.2 L898.55,270.4 L898.55,270.6 L898.55,270.8 L898.55,271 L898.55,271.2 L898.55,271.4 L898.55,271.6 L898.55,271.8 L898.55,272 L898.56,272.2 L898.56,272.4 L898.56,272.6 L898.56,272.8 L898.56,273 L898.56,273.2 L898.56,273.4 L898.56,273.6 L898.56,273.8 L898.56,274 L898.56,274.2 L898.56,274.4 L898.56,274.6 L898.56,274.8 L898.56,275 L898.56,275.2 L898.56,275.4 L898.56,275.6 L898.57,275.8 L898.57,276 L898.57,276.2 L898.57,276.4 L898.57,276.6 L898.57,276.8 L898.57,277 L898.57,277.2 L898.57,277.4 L898.57,277.6 L898.57,277.8 L898.57,278 L898.57,278.2 L898.57,278.4 L898.57,278.6 L898.57,278.8 L898.57,279 L898.57,279.2 L898.57,279.4 L898.57,279.6 L898.57,279.8 L898.57,280 L898.57,280.2 L898.57,280.4 L898.57,280.6 L898.57,280.8 L898.57,281 L898.57,281.2 L898.57,281.4 L898.58,281.6 L898.58,281.8 L898.58,282 L898.58,282.2 L898.58,282.4 L898.58,282.6 L898.58,282.8 L898.58,283 L898.58,283.2 L898.58,283.4 L898.58,283.6 L898.58,283.8 L898.58,284 L898.58,284.2 L898.58,284.4 L898.58,284.6 L898.58,284.8 L898.58,285 L898.58,285.2 L898.58,285.4 L898.58,285.6 L898.58,285.8 L898.58,286 L898.58,286.2 L898.58,286.4 L898.58,286.6 L898.58,286.8 L898.58,287 L898.58,287.2 L898.58,287.4 L898.58,287.6 L898.58,287.8 L898.58,288 L898.58,288.2 L898.58,288.4 L898.58,288.6 L898.58,288.8 L898.58,289 L898.58,289.2 L898.58,289.4 L898.58,289.6 L898.58,289.8 L898.58,290 L898.58,290.2 L898.58,290.4 L898.58,290.6 L898.58,290.8 L898.58,291 L898.58,291.2 L898.58,291.4 L898.58,291.6 L898.58,291.8 L898.58,292 L898.58,292.2 L898.58,292.4 L898.59,292.6 L898.59,292.8 L898.59,293 L898.59,293.2 L898.59,293.4 L898.59,293.6 L898.59,293.8 L898.59,294 L898.59,294.2 L898.59,294.4 L898.59,294.6 L898.59,294.8 L898.59,295 L898.59,295.2 L898.59,295.4 L898.59,295.6 L898.59,295.8 L898.59,296 L898.59,296.2 L898.59,296.4 L898.59,296.6 L898.59,296.8 L898.59,297 L898.59,297.2 L898.59,297.4 L898.59,297.6 L898.59,297.8 L898.59,298 L898.59,298.2 L898.59,298.4 L898.59,298.6 L898.59,298.8 L898.59,299 L898.59,299.2 L898.59,299.4 L898.59,299.6 L898.59,299.8 L898.59,300 L898.59,300.2 L898.59,300.4 L898.59,300.6 L898.59,300.8 L898.59,301 L898.59,301.2 L898.59,301.4 L898.59,301.6 L898.59,301.8 L898.59,302 L898.59,302.2 L898.59,302.4 L898.59,302.6 L898.59,302.8 L898.59,303 L898.59,303.2 L898.59,303.4 L898.59,303.6 L898.59,303.8 L898.59,304 L898.59,304.2 L898.59,304.4 L898.59,304.6 L898.59,304.8 L898.59,305 L898.59,305.2 L898.59,305.4 L898.59,305.6 L898.59,305.8 L898.59,306 L898.59,306.2 L898.59,306.4 L898.59,306.6 L898.59,306.8 L898.59,307 L898.59,307.2 L898.59,307.4 L898.59,307.6 L898.59,307.8 L898.59,308 L898.59,308.2 L898.59,308.4 L898.59,308.6 L898.59,308.8 L898.59,309 L898.59,309.2 L898.59,309.4 L898.59,309.6 L898.59,309.8 L898.59,310 L898.59,310.2 L898.59,310.4 L898.59,310.6 L898.59,310.8 L898.59,311 L898.59,311.2 L898.59,311.4 L898.59,311.6 L898.59,311.8 L898.59,312 L898.59,312.2 L898.59,312.4 L898.59,312.6 L898.59,312.8 L898.59,313 L898.59,313.2 L898.59,313.4 L898.59,313.6 L898.59,313.8 L898.59,314 L898.59,314.2 L898.59,314.4 L898.59,314.6 L898.59,314.8 L898.59,315 L898.59,315.2 L898.59,315.4 L898.59,315.6 L898.59,315.8 L898.59,316 L898.59,316.2 L898.59,316.4 L898.59,316.6 L898.59,316.8 L898.59,317 L898.59,317.2 L898.59,317.4 L898.59,317.6 L898.59,317.8 L898.59,318 L898.59,318.2 L898.59,318.4 L898.59,318.6 L898.59,318.8 L898.59,319 L898.59,319.2 L898.59,319.4 L898.59,319.6 L898.59,319.8 L898.59,320 L898.59,320.2 L898.59,320.4 L898.59,320.6 L898.59,320.8 L898.59,321 L898.59,321.2 L898.59,321.4 L898.59,321.6 L898.59,321.8 L898.59,322 L898.59,322.2 L898.59,322.4 L898.59,322.6 L898.59,322.8 L898.59,323 L898.59,323.2 L898.59,323.4 L898.59,323.6 L898.59,323.8 L898.59,324 L898.59,324.2 L898.59,324.4 L898.59,324.6 L898.59,324.8 L898.59,325 L898.59,325.2 L898.59,325.4 L898.59,325.6 L898.59,325.8 L898.59,326 L898.59,326.2 L898.59,326.4 L898.59,326.6 L898.59,326.8 L898.59,327 L898.59,327.2 L898.59,327.4 L898.59,327.6 L898.59,327.8 L898.59,328 L898.59,328.2 L898.59,328.4 L898.59,328.6 L898.59,328.8 L898.59,329 L898.59,329.2 L898.59,329.4 L898.59,329.6 L898.59,329.8 L898.6,330 L898.6,330.2 L898.6,330.4 L898.6,330.6 L898.6,330.8 L898.6,331 L898.6,331.2 L898.6,331.4 L898.6,331.6 L898.6,331.8 L898.6,332" fill="none" stroke="#e8262b" stroke-width="1.4" stroke-dasharray="5,3"/>
<path d="M813.4,95.6 H889" fill="none" stroke="#e8262b" stroke-width="1.4" stroke-dasharray="5,3"/>
<path d="M810,245.2 H889" fill="none" stroke="#e8262b" stroke-width="1.4" stroke-dasharray="5,3"/>
<line x1="907.4" y1="0" x2="907.4" y2="332" stroke="#c4c4c4" stroke-width="1" />
<line x1="808.7" y1="34.3" x2="811.5" y2="34.3" stroke="#9a9a9a" stroke-width="1" />
<line x1="808.7" y1="117.1" x2="811.5" y2="117.1" stroke="#9a9a9a" stroke-width="1" />
<line x1="808.7" y1="201" x2="811.5" y2="201" stroke="#9a9a9a" stroke-width="1" />
<line x1="808.7" y1="284.3" x2="811.5" y2="284.3" stroke="#9a9a9a" stroke-width="1" />
<line x1="836.5" y1="332" x2="836.5" y2="329" stroke="#9a9a9a" stroke-width="1" />
<text x="836.2" y="365.8" text-anchor="middle" fill="#000" style='font-family:"Liberation Sans", sans-serif;font-size:30px;' >0.5</text>
<text x="895.3" y="365.8" text-anchor="middle" fill="#000" style='font-family:"Liberation Sans", sans-serif;font-size:30px;' >1</text>
<line x1="840" y1="384.2" x2="840" y2="412.8" stroke="#000" stroke-width="1.7" />
<text x="843.2" y="407.9" text-anchor="start" fill="#000" style='font-family:"Liberation Sans", sans-serif;font-size:31px;font-style:italic;' >S</text>
<text x="861.4" y="415.6" style='font-family:"Liberation Sans", sans-serif;font-size:20.5px;letter-spacing:-0.6px'>11</text>
<line x1="887.6" y1="384.2" x2="887.6" y2="412.8" stroke="#000" stroke-width="1.7" />
<text x="815.8" y="35.5" text-anchor="start" fill="#000" style='font-family:"Liberation Sans", sans-serif;font-size:42px;font-weight:bold;' >c</text>
<rect x="916.2" y="45.2" width="16.5" height="285.8" fill="url(#cbar)" />
<line x1="932.7" y1="45.2" x2="932.7" y2="331" stroke="#d0d0d0" stroke-width="0.8" />
<line x1="932.7" y1="72.4" x2="937.2" y2="72.4" stroke="#9a9a9a" stroke-width="1" />
<text x="948.6" y="80.7" text-anchor="start" fill="#000" style='font-family:"Liberation Sans", sans-serif;font-size:24px;' >1</text>
<line x1="932.7" y1="137" x2="937.2" y2="137" stroke="#9a9a9a" stroke-width="1" />
<text x="948.6" y="145.3" text-anchor="start" fill="#000" style='font-family:"Liberation Sans", sans-serif;font-size:24px;' >0.75</text>
<line x1="932.7" y1="201.5" x2="937.2" y2="201.5" stroke="#9a9a9a" stroke-width="1" />
<text x="948.6" y="209.8" text-anchor="start" fill="#000" style='font-family:"Liberation Sans", sans-serif;font-size:24px;' >0.5</text>
<line x1="932.7" y1="266.1" x2="937.2" y2="266.1" stroke="#9a9a9a" stroke-width="1" />
<text x="948.6" y="274.4" text-anchor="start" fill="#000" style='font-family:"Liberation Sans", sans-serif;font-size:24px;' >0.25</text>
<line x1="932.7" y1="330.8" x2="937.2" y2="330.8" stroke="#9a9a9a" stroke-width="1" />
<text x="948.6" y="339.1" text-anchor="start" fill="#000" style='font-family:"Liberation Sans", sans-serif;font-size:24px;' >0</text>
<line x1="910.2" y1="0" x2="910.2" y2="28.8" stroke="#000" stroke-width="1.7" />
<text x="913.2" y="23.9" text-anchor="start" fill="#000" style='font-family:"Liberation Sans", sans-serif;font-size:31px;font-style:italic;' >S</text>
<text x="931.4" y="31.6" style='font-family:"Liberation Sans", sans-serif;font-size:20.5px;letter-spacing:-0.6px'>11</text>
<line x1="957.6" y1="0" x2="957.6" y2="28.8" stroke="#000" stroke-width="1.7" />
<rect x="108.4" y="486.2" width="330.3" height="330.4" fill="#cfe1ef" filter="url(#nzD)"/>
<linearGradient id="gd1" gradientUnits="userSpaceOnUse" x1="108.4" y1="0" x2="398" y2="0"><stop offset="0" stop-color="#2a6aab" stop-opacity="1"/><stop offset="0.72" stop-color="#2a6aab" stop-opacity="1"/><stop offset="0.85" stop-color="#2a6aab" stop-opacity="0.45"/><stop offset="0.95" stop-color="#2a6aab" stop-opacity="0.1"/><stop offset="1" stop-color="#2a6aab" stop-opacity="0"/></linearGradient>
<linearGradient id="gd1h" gradientUnits="userSpaceOnUse" x1="108.4" y1="0" x2="398" y2="0"><stop offset="0" stop-color="#2a6aab" stop-opacity="0.4"/><stop offset="0.6" stop-color="#2a6aab" stop-opacity="0.5"/><stop offset="0.75" stop-color="#2a6aab" stop-opacity="0.9"/><stop offset="0.87" stop-color="#2a6aab" stop-opacity="0.75"/><stop offset="0.95" stop-color="#2a6aab" stop-opacity="0.3"/><stop offset="1" stop-color="#2a6aab" stop-opacity="0"/></linearGradient>
<path d="M108.4,565.7 C123.67,565.58 171.4,565.48 200,565 C228.6,564.52 263.33,563.38 280,562.8 C296.67,562.22 291.67,562.55 300,561.5 C308.33,560.45 322.5,558 330,556.5 C337.5,555 340.83,553.83 345,552.5 C349.17,551.17 352.17,549.67 355,548.5 C357.83,547.33 357.83,547.42 362,545.5 C366.17,543.58 374,540.25 380,537 C386,533.75 395,527.83 398,526" fill="none" stroke="url(#gd1h)" stroke-width="7.5" opacity="0.6" filter="url(#bl1)"/>
<path d="M108.4,565.7 C123.67,565.58 171.4,565.48 200,565 C228.6,564.52 263.33,563.38 280,562.8 C296.67,562.22 291.67,562.55 300,561.5 C308.33,560.45 322.5,558 330,556.5 C337.5,555 340.83,553.83 345,552.5 C349.17,551.17 352.17,549.67 355,548.5 C357.83,547.33 357.83,547.42 362,545.5 C366.17,543.58 374,540.25 380,537 C386,533.75 395,527.83 398,526" fill="none" stroke="url(#gd1)" stroke-width="2.8" filter="url(#bl2)"/>
<linearGradient id="gd2" gradientUnits="userSpaceOnUse" x1="338" y1="0" x2="438.7" y2="0"><stop offset="0" stop-color="#2a6aab" stop-opacity="0"/><stop offset="0.2" stop-color="#2a6aab" stop-opacity="0.15"/><stop offset="0.45" stop-color="#2a6aab" stop-opacity="0.55"/><stop offset="0.62" stop-color="#2a6aab" stop-opacity="1"/><stop offset="1" stop-color="#2a6aab" stop-opacity="1"/></linearGradient>
<linearGradient id="gd2h" gradientUnits="userSpaceOnUse" x1="338" y1="0" x2="438.7" y2="0"><stop offset="0" stop-color="#2a6aab" stop-opacity="0.2"/><stop offset="0.3" stop-color="#2a6aab" stop-opacity="0.8"/><stop offset="0.6" stop-color="#2a6aab" stop-opacity="0.7"/><stop offset="1" stop-color="#2a6aab" stop-opacity="0.45"/></linearGradient>
<path d="M338,592 C340,591 344.67,588.08 350,586 C355.33,583.92 362.5,581.17 370,579.5 C377.5,577.83 383.55,576.95 395,576 C406.45,575.05 431.42,574.17 438.7,573.8" fill="none" stroke="url(#gd2h)" stroke-width="7.5" opacity="0.6" filter="url(#bl1)"/>
<path d="M338,592 C340,591 344.67,588.08 350,586 C355.33,583.92 362.5,581.17 370,579.5 C377.5,577.83 383.55,576.95 395,576 C406.45,575.05 431.42,574.17 438.7,573.8" fill="none" stroke="url(#gd2)" stroke-width="2.8" filter="url(#bl2)"/>
<linearGradient id="gd3" gradientUnits="userSpaceOnUse" x1="108.4" y1="0" x2="194" y2="0"><stop offset="0" stop-color="#2a6aab" stop-opacity="1"/><stop offset="0.62" stop-color="#2a6aab" stop-opacity="1"/><stop offset="0.82" stop-color="#2a6aab" stop-opacity="0.45"/><stop offset="1" stop-color="#2a6aab" stop-opacity="0"/></linearGradient>
<linearGradient id="gd3h" gradientUnits="userSpaceOnUse" x1="108.4" y1="0" x2="194" y2="0"><stop offset="0" stop-color="#2a6aab" stop-opacity="0.4"/><stop offset="0.6" stop-color="#2a6aab" stop-opacity="0.5"/><stop offset="0.8" stop-color="#2a6aab" stop-opacity="0.8"/><stop offset="1" stop-color="#2a6aab" stop-opacity="0"/></linearGradient>
<path d="M108.4,716.4 C113.67,716.22 130.4,715.95 140,715.3 C149.6,714.65 159.33,713.55 166,712.5 C172.67,711.45 175.33,710.75 180,709 C184.67,707.25 191.67,703.17 194,702" fill="none" stroke="url(#gd3h)" stroke-width="6" opacity="0.5" filter="url(#bl1)"/>
<path d="M108.4,716.4 C113.67,716.22 130.4,715.95 140,715.3 C149.6,714.65 159.33,713.55 166,712.5 C172.67,711.45 175.33,710.75 180,709 C184.67,707.25 191.67,703.17 194,702" fill="none" stroke="url(#gd3)" stroke-width="2.8" filter="url(#bl2)"/>
<linearGradient id="gd4" gradientUnits="userSpaceOnUse" x1="180" y1="0" x2="438.7" y2="0"><stop offset="0" stop-color="#2a6aab" stop-opacity="0"/><stop offset="0.03" stop-color="#2a6aab" stop-opacity="0.35"/><stop offset="0.08" stop-color="#2a6aab" stop-opacity="0.8"/><stop offset="0.12" stop-color="#2a6aab" stop-opacity="1"/><stop offset="1" stop-color="#2a6aab" stop-opacity="1"/></linearGradient>
<linearGradient id="gd4h" gradientUnits="userSpaceOnUse" x1="180" y1="0" x2="438.7" y2="0"><stop offset="0" stop-color="#2a6aab" stop-opacity="0.2"/><stop offset="0.06" stop-color="#2a6aab" stop-opacity="0.8"/><stop offset="0.2" stop-color="#2a6aab" stop-opacity="0.5"/><stop offset="1" stop-color="#2a6aab" stop-opacity="0.4"/></linearGradient>
<path d="M180,731 C181.67,730.42 186.67,728.5 190,727.5 C193.33,726.5 195,725.87 200,725 C205,724.13 206.67,723.03 220,722.3 C233.33,721.57 243.55,721.02 280,720.6 C316.45,720.18 412.25,719.93 438.7,719.8" fill="none" stroke="url(#gd4h)" stroke-width="6" opacity="0.5" filter="url(#bl1)"/>
<path d="M180,731 C181.67,730.42 186.67,728.5 190,727.5 C193.33,726.5 195,725.87 200,725 C205,724.13 206.67,723.03 220,722.3 C233.33,721.57 243.55,721.02 280,720.6 C316.45,720.18 412.25,719.93 438.7,719.8" fill="none" stroke="url(#gd4)" stroke-width="2.8" filter="url(#bl2)"/>
<path d="M108.4,567.4 L438.7,567.4" fill="none" stroke="#2a2a2a" stroke-width="1.4" stroke-dasharray="4.6,3.1" />
<path d="M108.4,718.3 L438.7,718.3" fill="none" stroke="#2a2a2a" stroke-width="1.4" stroke-dasharray="4.6,3.1" />
<path d="M110,795 C122.72,782.22 160.2,744.13 186.3,718.3 C212.4,692.47 239.32,665.15 266.6,640 C293.88,614.85 321.32,589.52 350,567.4 C378.68,545.28 423.92,517.32 438.7,507.3" fill="none" stroke="#2a2a2a" stroke-width="1.4" stroke-dasharray="4.6,3.1" />
<path d="M108.4,566.2 C123.67,566.08 170.78,566.05 200,565.5 C229.22,564.95 265.53,563.82 283.7,562.9 C301.87,561.98 300.55,561.3 309,560 C317.45,558.7 326.27,557.53 334.4,555.1 C342.53,552.67 350.33,549.13 357.8,545.4 C365.27,541.67 372.05,536.93 379.2,532.7 C386.35,528.47 392.9,524.55 400.7,520 C408.5,515.45 419.67,509.07 426,505.4 C432.33,501.73 436.58,499.23 438.7,498" fill="none" stroke="#e8262b" stroke-width="1.45" stroke-dasharray="9.2,15.7" />
<path d="M438.7,573.6 C435.3,573.7 425.6,573.87 418.3,574.2 C411,574.53 403.37,574.78 394.9,575.6 C386.43,576.42 375.97,577.38 367.5,579.1 C359.03,580.82 351.9,582.92 344.1,585.9 C336.3,588.88 327.85,593.03 320.7,597 C313.55,600.97 307.7,604.82 301.2,609.7 C294.7,614.58 287.8,620.87 281.7,626.3 C275.6,631.73 270.47,636.95 264.6,642.3 C258.73,647.65 252.53,653.03 246.5,658.4 C240.47,663.77 234.75,669.15 228.4,674.5 C222.05,679.85 216.08,685.15 208.4,690.5 C200.72,695.85 189.67,702.92 182.3,706.6 C174.93,710.28 171.23,711.08 164.2,712.6 C157.17,714.12 149.4,715.02 140.1,715.7 C130.8,716.38 113.68,716.53 108.4,716.7" fill="none" stroke="#e8262b" stroke-width="1.45" stroke-dasharray="9.2,15.7" />
<path d="M112,797.5 C113.17,796 114.48,793.02 119,788.5 C123.52,783.98 132.57,776.58 139.1,770.4 C145.63,764.22 151.67,757.08 158.2,751.4 C164.73,745.72 171.95,740.32 178.3,736.3 C184.65,732.28 189.28,729.57 196.3,727.3 C203.32,725.03 211.37,723.6 220.4,722.7 C229.43,721.8 240.57,722.15 250.5,721.9 C260.43,721.65 248.63,721.45 280,721.2 C311.37,720.95 412.25,720.53 438.7,720.4" fill="none" stroke="#e8262b" stroke-width="1.45" stroke-dasharray="9.2,15.7" />
<line x1="108.4" y1="816.6" x2="438.7" y2="816.6" stroke="#c4c4c4" stroke-width="1.2" />
<line x1="108.4" y1="520" x2="112" y2="520" stroke="#9a9a9a" stroke-width="1" />
<text x="97" y="530.3" text-anchor="end" fill="#000" style='font-family:"Liberation Sans", sans-serif;font-size:30px;' >4.5</text>
<line x1="108.4" y1="604.6" x2="112" y2="604.6" stroke="#9a9a9a" stroke-width="1" />
<text x="97" y="614.9" text-anchor="end" fill="#000" style='font-family:"Liberation Sans", sans-serif;font-size:30px;' >4.3</text>
<line x1="108.4" y1="689.5" x2="112" y2="689.5" stroke="#9a9a9a" stroke-width="1" />
<text x="97" y="699.8" text-anchor="end" fill="#000" style='font-family:"Liberation Sans", sans-serif;font-size:30px;' >4.1</text>
<line x1="108.4" y1="774.4" x2="112" y2="774.4" stroke="#9a9a9a" stroke-width="1" />
<text x="97" y="784.7" text-anchor="end" fill="#000" style='font-family:"Liberation Sans", sans-serif;font-size:30px;' >3.9</text>
<line x1="169.4" y1="816.6" x2="169.4" y2="812.9" stroke="#9a9a9a" stroke-width="1" />
<text x="169.4" y="850.2" text-anchor="middle" fill="#000" style='font-family:"Liberation Sans", sans-serif;font-size:30px;' >−10</text>
<line x1="255.4" y1="816.6" x2="255.4" y2="812.9" stroke="#9a9a9a" stroke-width="1" />
<text x="255.4" y="850.2" text-anchor="middle" fill="#000" style='font-family:"Liberation Sans", sans-serif;font-size:30px;' >−8</text>
<line x1="341.4" y1="816.6" x2="341.4" y2="812.9" stroke="#9a9a9a" stroke-width="1" />
<text x="341.4" y="850.2" text-anchor="middle" fill="#000" style='font-family:"Liberation Sans", sans-serif;font-size:30px;' >−6</text>
<line x1="427.1" y1="816.6" x2="427.1" y2="812.9" stroke="#9a9a9a" stroke-width="1" />
<text x="427.1" y="850.2" text-anchor="middle" fill="#000" style='font-family:"Liberation Sans", sans-serif;font-size:30px;' >−4</text>
<text x="222.3" y="890.8" text-anchor="start" fill="#000" style='font-family:"Liberation Serif", serif;font-size:28px;font-style:italic;' >Δ</text>
<text x="240.6" y="890.8" text-anchor="start" fill="#000" style='font-family:"Liberation Sans", sans-serif;font-size:30px;font-style:italic;' >/h</text>
<text x="271.3" y="890.8" text-anchor="start" fill="#000" style='font-family:"Liberation Sans", sans-serif;font-size:29.5px;' >(GHz)</text>
<g transform="translate(25.5,655.2) rotate(-90)">
<text x="0" y="0" text-anchor="middle" style='font-family:"Liberation Sans", sans-serif;font-size:30px'><tspan style='font-family:"Liberation Serif", serif;font-style:italic;font-size:31px'>ν</tspan><tspan dy="7" style='font-size:21px'>p</tspan><tspan dy="-7"> (GHz)</tspan></text>
</g>
<text x="-1.2" y="516.6" text-anchor="start" fill="#000" style='font-family:"Liberation Sans", sans-serif;font-size:42px;font-weight:bold;' >d</text>
<text x="271.4" y="673.8" text-anchor="start" fill="#000" style='font-family:"Liberation Sans", sans-serif;font-size:25px;' >RX</text>
<line x1="185.1" y1="816.6" x2="185.1" y2="784" stroke="#000" stroke-width="2.6" />
<path d="M185.1,774.5 L179.1,785 L191.1,785 Z" fill="#000"/>
<line x1="273.2" y1="816.6" x2="273.2" y2="784" stroke="#9a35b8" stroke-width="2.6" />
<path d="M273.2,774.5 L267.2,785 L279.2,785 Z" fill="#9a35b8"/>
<line x1="353" y1="816.6" x2="353" y2="784" stroke="#2a7ab8" stroke-width="2.6" />
<path d="M353,774.5 L347,785 L359,785 Z" fill="#2a7ab8"/>
<line x1="115.3" y1="573.1" x2="115.3" y2="598.2" stroke="#26a77a" stroke-width="1.75" />
<line x1="118" y1="586.4" x2="131.1" y2="586.4" stroke="#26a77a" stroke-width="1.75" />
<line x1="124.55" y1="579.85" x2="124.55" y2="592.95" stroke="#26a77a" stroke-width="1.75" />
<path d="M132.1,574.5 L138.5,586.05 L132.1,597.6" fill="none" stroke="#26a77a" stroke-width="1.75" stroke-linejoin="miter"/>
<line x1="115.3" y1="722.3" x2="115.3" y2="746" stroke="#26a77a" stroke-width="1.75" />
<line x1="115.3" y1="734.3" x2="126.1" y2="734.3" stroke="#26a77a" stroke-width="1.75" />
<path d="M131.1,723.7 L137.7,734.55 L131.1,745.4" fill="none" stroke="#26a77a" stroke-width="1.75" stroke-linejoin="miter"/>
<line x1="330.8" y1="505.3" x2="330.8" y2="530.2" stroke="#2a7ab8" stroke-width="1.7" />
<line x1="333.1" y1="518.6" x2="345.7" y2="518.6" stroke="#2a7ab8" stroke-width="1.7" />
<line x1="339.4" y1="512.3" x2="339.4" y2="524.9" stroke="#2a7ab8" stroke-width="1.7" />
<path d="M349.7,523.5 H352.3 V526.5 Q352.3,528.8 349.8,530 L349.3,529.3 Q350.8,528.4 350.9,526.4 H349.7 Z" fill="#2a7ab8"/>
<line x1="355.2" y1="518.6" x2="367.4" y2="518.6" stroke="#2a7ab8" stroke-width="1.7" />
<line x1="361.3" y1="512.5" x2="361.3" y2="524.7" stroke="#2a7ab8" stroke-width="1.7" />
<path d="M369.3,506.7 L375.2,518.15 L369.3,529.6" fill="none" stroke="#2a7ab8" stroke-width="1.7" stroke-linejoin="miter"/>
<line x1="343.2" y1="590.5" x2="343.2" y2="615.4" stroke="#2a7ab8" stroke-width="1.7" />
<line x1="346" y1="604.1" x2="358.4" y2="604.1" stroke="#2a7ab8" stroke-width="1.7" />
<line x1="352.2" y1="597.9" x2="352.2" y2="610.3" stroke="#2a7ab8" stroke-width="1.7" />
<path d="M362,607.9 H364.6 V610.9 Q364.6,613.2 362.1,614.4 L361.6,613.7 Q363.1,612.8 363.2,610.8 H362 Z" fill="#2a7ab8"/>
<line x1="366.2" y1="604.1" x2="380" y2="604.1" stroke="#2a7ab8" stroke-width="1.7" />
<path d="M381.1,591.9 L386.9,603.35 L381.1,614.8" fill="none" stroke="#2a7ab8" stroke-width="1.7" stroke-linejoin="miter"/>
<line x1="158.5" y1="669.4" x2="158.5" y2="694.3" stroke="#000" stroke-width="1.7" />
<line x1="158.5" y1="682.4" x2="173.5" y2="682.4" stroke="#000" stroke-width="1.7" />
<path d="M176.6,686.3 H179.2 V689.3 Q179.2,691.6 176.7,692.8 L176.2,692.1 Q177.7,691.2 177.8,689.2 H176.6 Z" fill="#000"/>
<line x1="181.6" y1="682.4" x2="194" y2="682.4" stroke="#000" stroke-width="1.7" />
<line x1="187.8" y1="676.2" x2="187.8" y2="688.6" stroke="#000" stroke-width="1.7" />
<path d="M196.2,670.8 L202.6,682.25 L196.2,693.7" fill="none" stroke="#000" stroke-width="1.7" stroke-linejoin="miter"/>
<line x1="191.9" y1="738" x2="191.9" y2="762.8" stroke="#000" stroke-width="1.7" />
<line x1="191.9" y1="750.5" x2="207.4" y2="750.5" stroke="#000" stroke-width="1.7" />
<path d="M209.8,754.5 H212.4 V757.5 Q212.4,759.8 209.9,761 L209.4,760.3 Q210.9,759.4 211,757.4 H209.8 Z" fill="#000"/>
<line x1="214" y1="750.5" x2="228.1" y2="750.5" stroke="#000" stroke-width="1.7" />
<path d="M229.2,739.4 L235.6,750.8 L229.2,762.2" fill="none" stroke="#000" stroke-width="1.7" stroke-linejoin="miter"/>
<rect x="110" y="488" width="171.3" height="56.5" fill="#fff" stroke="#000" stroke-width="1.8"/>
<text x="111.8" y="506.6" text-anchor="start" fill="#000" style='font-family:"Liberation Sans", sans-serif;font-size:22px;font-style:italic;' >E</text>
<line x1="132.6" y1="541.4" x2="132.6" y2="497.8" stroke="#000" stroke-width="1.8" />
<path d="M132.6,490 L127.5,498.8 L137.7,498.8 Z" fill="#000"/>
<text x="142.3" y="505.7" text-anchor="start" fill="#000" style='font-family:"Liberation Serif", serif;font-size:20.5px;font-style:italic;' >Δ</text>
<line x1="162.6" y1="495" x2="162.6" y2="504.6" stroke="#000" stroke-width="1.6" />
<path d="M162.6,490 L158.6,496 L166.6,496 Z" fill="#000"/>
<path d="M162.6,509.6 L158.6,503.6 L166.6,503.6 Z" fill="#000"/>
<rect x="168.7" y="497.85" width="35.8" height="3.5" fill="#000" />
<rect x="208.2" y="497.85" width="32" height="3.5" fill="#000" />
<rect x="245" y="497.85" width="32.4" height="3.5" fill="#000" />
<rect x="168.7" y="535.05" width="35.8" height="3.5" fill="#000" />
<rect x="208.2" y="535.05" width="32" height="3.5" fill="#000" />
<rect x="245" y="535.05" width="32.4" height="3.5" fill="#000" />
<text x="169.2" y="521" text-anchor="start" fill="#000" style='font-family:"Liberation Serif", serif;font-size:23px;font-style:italic;' >ν</text>
<text x="179.8" y="529.2" text-anchor="start" fill="#000" style='font-family:"Liberation Sans", sans-serif;font-size:17px;' >RX</text>
<text x="213" y="521" text-anchor="start" fill="#000" style='font-family:"Liberation Serif", serif;font-size:23px;font-style:italic;' >ν</text>
<text x="222.6" y="529.2" text-anchor="start" fill="#000" style='font-family:"Liberation Sans", sans-serif;font-size:17px;' >C</text>
<text x="255" y="521" text-anchor="start" fill="#000" style='font-family:"Liberation Serif", serif;font-size:23px;font-style:italic;' >ν</text>
<text x="264.6" y="529.2" text-anchor="start" fill="#000" style='font-family:"Liberation Sans", sans-serif;font-size:17px;' >T</text>
<rect x="476.6" y="485" width="330.4" height="330.3" fill="#cfe2f0" />
<linearGradient id="ge1" gradientUnits="userSpaceOnUse" x1="476.6" y1="0" x2="807" y2="0"><stop offset="0" stop-color="#0b3b78" stop-opacity="1"/><stop offset="0.66" stop-color="#0b3b78" stop-opacity="1"/><stop offset="0.72" stop-color="#0b3b78" stop-opacity="0.5"/><stop offset="0.78" stop-color="#0b3b78" stop-opacity="0.15"/><stop offset="0.84" stop-color="#0b3b78" stop-opacity="0"/></linearGradient>
<linearGradient id="ge1d" gradientUnits="userSpaceOnUse" x1="476.6" y1="0" x2="807" y2="0"><stop offset="0" stop-color="#1a5a9c" stop-opacity="0"/><stop offset="0.67" stop-color="#1a5a9c" stop-opacity="0"/><stop offset="0.72" stop-color="#1a5a9c" stop-opacity="0.65"/><stop offset="0.8" stop-color="#1a5a9c" stop-opacity="0.4"/><stop offset="0.88" stop-color="#1a5a9c" stop-opacity="0.18"/><stop offset="1" stop-color="#1a5a9c" stop-opacity="0.08"/></linearGradient>
<path d="M476.6,562.9 C483.83,562.82 506.1,562.57 520,562.4 C533.9,562.23 545.5,562.05 560,561.9 C574.5,561.75 591.73,562.05 607,561.5 C622.27,560.95 640.45,559.53 651.6,558.6 C662.75,557.67 666.47,557.02 673.9,555.9 C681.33,554.78 690.63,552.93 696.2,551.9 C701.77,550.87 703.58,550.63 707.3,549.7 C711.02,548.77 714.78,547.6 718.5,546.3 C722.22,545 725.88,543.5 729.6,541.9 C733.32,540.3 735.22,539.5 740.8,536.7 C746.38,533.9 755.67,529.63 763.1,525.1 C770.53,520.57 778.08,514.33 785.4,509.5 C792.72,504.67 803.4,498.33 807,496.1" fill="none" stroke="url(#ge1)" stroke-width="5" opacity="0.25" filter="url(#bl1)"/>
<path d="M476.6,562.9 C483.83,562.82 506.1,562.57 520,562.4 C533.9,562.23 545.5,562.05 560,561.9 C574.5,561.75 591.73,562.05 607,561.5 C622.27,560.95 640.45,559.53 651.6,558.6 C662.75,557.67 666.47,557.02 673.9,555.9 C681.33,554.78 690.63,552.93 696.2,551.9 C701.77,550.87 703.58,550.63 707.3,549.7 C711.02,548.77 714.78,547.6 718.5,546.3 C722.22,545 725.88,543.5 729.6,541.9 C733.32,540.3 735.22,539.5 740.8,536.7 C746.38,533.9 755.67,529.63 763.1,525.1 C770.53,520.57 778.08,514.33 785.4,509.5 C792.72,504.67 803.4,498.33 807,496.1" fill="none" stroke="url(#ge1)" stroke-width="2.3" filter="url(#bl2)"/>
<path d="M476.6,562.9 C483.83,562.82 506.1,562.57 520,562.4 C533.9,562.23 545.5,562.05 560,561.9 C574.5,561.75 591.73,562.05 607,561.5 C622.27,560.95 640.45,559.53 651.6,558.6 C662.75,557.67 666.47,557.02 673.9,555.9 C681.33,554.78 690.63,552.93 696.2,551.9 C701.77,550.87 703.58,550.63 707.3,549.7 C711.02,548.77 714.78,547.6 718.5,546.3 C722.22,545 725.88,543.5 729.6,541.9 C733.32,540.3 735.22,539.5 740.8,536.7 C746.38,533.9 755.67,529.63 763.1,525.1 C770.53,520.57 778.08,514.33 785.4,509.5 C792.72,504.67 803.4,498.33 807,496.1" fill="none" stroke="url(#ge1d)" stroke-width="3.6" stroke-dasharray="3,3" filter="url(#bl4)"/>
<linearGradient id="ge2" gradientUnits="userSpaceOnUse" x1="655" y1="0" x2="807" y2="0"><stop offset="0" stop-color="#0b3b78" stop-opacity="0"/><stop offset="0.35" stop-color="#0b3b78" stop-opacity="0"/><stop offset="0.42" stop-color="#0b3b78" stop-opacity="0.3"/><stop offset="0.47" stop-color="#0b3b78" stop-opacity="0.7"/><stop offset="0.53" stop-color="#0b3b78" stop-opacity="1"/><stop offset="1" stop-color="#0b3b78" stop-opacity="1"/></linearGradient>
<linearGradient id="ge2d" gradientUnits="userSpaceOnUse" x1="655" y1="0" x2="807" y2="0"><stop offset="0" stop-color="#1a5a9c" stop-opacity="0"/><stop offset="0.2" stop-color="#1a5a9c" stop-opacity="0.06"/><stop offset="0.35" stop-color="#1a5a9c" stop-opacity="0.28"/><stop offset="0.45" stop-color="#1a5a9c" stop-opacity="0.6"/><stop offset="0.52" stop-color="#1a5a9c" stop-opacity="0"/><stop offset="1" stop-color="#1a5a9c" stop-opacity="0"/></linearGradient>
<path d="M662,615 C662.5,614.52 663.02,614.07 665,612.1 C666.98,610.13 670.55,605.8 673.9,603.2 C677.25,600.6 681.38,598.92 685.1,596.5 C688.82,594.08 692.5,590.93 696.2,588.7 C699.9,586.47 703.58,584.78 707.3,583.1 C711.02,581.42 714.78,579.9 718.5,578.6 C722.22,577.3 725.88,576.22 729.6,575.3 C733.32,574.38 735.22,573.95 740.8,573.1 C746.38,572.25 752.07,570.83 763.1,570.2 C774.13,569.57 799.68,569.45 807,569.3" fill="none" stroke="url(#ge2)" stroke-width="5" opacity="0.25" filter="url(#bl1)"/>
<path d="M662,615 C662.5,614.52 663.02,614.07 665,612.1 C666.98,610.13 670.55,605.8 673.9,603.2 C677.25,600.6 681.38,598.92 685.1,596.5 C688.82,594.08 692.5,590.93 696.2,588.7 C699.9,586.47 703.58,584.78 707.3,583.1 C711.02,581.42 714.78,579.9 718.5,578.6 C722.22,577.3 725.88,576.22 729.6,575.3 C733.32,574.38 735.22,573.95 740.8,573.1 C746.38,572.25 752.07,570.83 763.1,570.2 C774.13,569.57 799.68,569.45 807,569.3" fill="none" stroke="url(#ge2)" stroke-width="2.3" filter="url(#bl2)"/>
<path d="M662,615 C662.5,614.52 663.02,614.07 665,612.1 C666.98,610.13 670.55,605.8 673.9,603.2 C677.25,600.6 681.38,598.92 685.1,596.5 C688.82,594.08 692.5,590.93 696.2,588.7 C699.9,586.47 703.58,584.78 707.3,583.1 C711.02,581.42 714.78,579.9 718.5,578.6 C722.22,577.3 725.88,576.22 729.6,575.3 C733.32,574.38 735.22,573.95 740.8,573.1 C746.38,572.25 752.07,570.83 763.1,570.2 C774.13,569.57 799.68,569.45 807,569.3" fill="none" stroke="url(#ge2d)" stroke-width="3.6" stroke-dasharray="3,3" filter="url(#bl4)"/>
<linearGradient id="ge3" gradientUnits="userSpaceOnUse" x1="476.8" y1="0" x2="676" y2="0"><stop offset="0" stop-color="#0b3b78" stop-opacity="1"/><stop offset="0.3" stop-color="#0b3b78" stop-opacity="1"/><stop offset="0.37" stop-color="#0b3b78" stop-opacity="0.55"/><stop offset="0.45" stop-color="#0b3b78" stop-opacity="0.15"/><stop offset="0.55" stop-color="#0b3b78" stop-opacity="0"/></linearGradient>
<linearGradient id="ge3d" gradientUnits="userSpaceOnUse" x1="476.8" y1="0" x2="676" y2="0"><stop offset="0" stop-color="#1a5a9c" stop-opacity="0"/><stop offset="0.3" stop-color="#1a5a9c" stop-opacity="0"/><stop offset="0.36" stop-color="#1a5a9c" stop-opacity="0.75"/><stop offset="0.44" stop-color="#1a5a9c" stop-opacity="0.5"/><stop offset="0.55" stop-color="#1a5a9c" stop-opacity="0.18"/><stop offset="0.65" stop-color="#1a5a9c" stop-opacity="0.05"/><stop offset="0.8" stop-color="#1a5a9c" stop-opacity="0"/><stop offset="1" stop-color="#1a5a9c" stop-opacity="0"/></linearGradient>
<path d="M476.8,713.3 C480.67,713.12 492.12,712.78 500,712.2 C507.88,711.62 517.07,710.82 524.1,709.8 C531.13,708.78 537.78,707.02 542.2,706.1 C546.62,705.18 548,705.05 550.6,704.3 C553.2,703.55 555.4,702.7 557.8,701.6 C560.2,700.5 562.58,699.15 565,697.7 C567.42,696.25 569.08,695.3 572.3,692.9 C575.52,690.5 580.68,686.32 584.3,683.3 C587.92,680.28 589.75,678.47 594,674.8 C598.25,671.13 602.13,667.93 609.8,661.3 C617.47,654.67 628.97,644.38 640,635 C651.03,625.62 670,610 676,605" fill="none" stroke="url(#ge3)" stroke-width="5" opacity="0.25" filter="url(#bl1)"/>
<path d="M476.8,713.3 C480.67,713.12 492.12,712.78 500,712.2 C507.88,711.62 517.07,710.82 524.1,709.8 C531.13,708.78 537.78,707.02 542.2,706.1 C546.62,705.18 548,705.05 550.6,704.3 C553.2,703.55 555.4,702.7 557.8,701.6 C560.2,700.5 562.58,699.15 565,697.7 C567.42,696.25 569.08,695.3 572.3,692.9 C575.52,690.5 580.68,686.32 584.3,683.3 C587.92,680.28 589.75,678.47 594,674.8 C598.25,671.13 602.13,667.93 609.8,661.3 C617.47,654.67 628.97,644.38 640,635 C651.03,625.62 670,610 676,605" fill="none" stroke="url(#ge3)" stroke-width="2.3" filter="url(#bl2)"/>
<path d="M476.8,713.3 C480.67,713.12 492.12,712.78 500,712.2 C507.88,711.62 517.07,710.82 524.1,709.8 C531.13,708.78 537.78,707.02 542.2,706.1 C546.62,705.18 548,705.05 550.6,704.3 C553.2,703.55 555.4,702.7 557.8,701.6 C560.2,700.5 562.58,699.15 565,697.7 C567.42,696.25 569.08,695.3 572.3,692.9 C575.52,690.5 580.68,686.32 584.3,683.3 C587.92,680.28 589.75,678.47 594,674.8 C598.25,671.13 602.13,667.93 609.8,661.3 C617.47,654.67 628.97,644.38 640,635 C651.03,625.62 670,610 676,605" fill="none" stroke="url(#ge3d)" stroke-width="3.6" stroke-dasharray="3,3" filter="url(#bl4)"/>
<linearGradient id="ge4" gradientUnits="userSpaceOnUse" x1="476.8" y1="0" x2="807" y2="0"><stop offset="0" stop-color="#0b3b78" stop-opacity="0"/><stop offset="0.17" stop-color="#0b3b78" stop-opacity="0"/><stop offset="0.22" stop-color="#0b3b78" stop-opacity="0.3"/><stop offset="0.25" stop-color="#0b3b78" stop-opacity="0.65"/><stop offset="0.28" stop-color="#0b3b78" stop-opacity="1"/><stop offset="1" stop-color="#0b3b78" stop-opacity="1"/></linearGradient>
<linearGradient id="ge4d" gradientUnits="userSpaceOnUse" x1="476.8" y1="0" x2="807" y2="0"><stop offset="0" stop-color="#1a5a9c" stop-opacity="0.1"/><stop offset="0.13" stop-color="#1a5a9c" stop-opacity="0.2"/><stop offset="0.18" stop-color="#1a5a9c" stop-opacity="0.4"/><stop offset="0.22" stop-color="#1a5a9c" stop-opacity="0.65"/><stop offset="0.25" stop-color="#1a5a9c" stop-opacity="0.4"/><stop offset="0.27" stop-color="#1a5a9c" stop-opacity="0"/><stop offset="1" stop-color="#1a5a9c" stop-opacity="0"/></linearGradient>
<path d="M476.8,797 C477.78,796.12 477.23,797 482.7,791.7 C488.17,786.4 501.7,772.63 509.6,765.2 C517.5,757.77 524.67,751.72 530.1,747.1 C535.53,742.48 538.58,740.32 542.2,737.5 C545.82,734.68 548.38,732.12 551.8,730.2 C555.22,728.28 559.28,727.2 562.7,726 C566.12,724.8 567.68,724 572.3,723 C576.92,722 582.45,720.8 590.4,720 C598.35,719.2 608.4,718.63 620,718.2 C631.6,717.77 646.67,717.55 660,717.4 C673.33,717.25 675.5,717.27 700,717.3 C724.5,717.33 789.17,717.55 807,717.6" fill="none" stroke="url(#ge4)" stroke-width="5" opacity="0.25" filter="url(#bl1)"/>
<path d="M476.8,797 C477.78,796.12 477.23,797 482.7,791.7 C488.17,786.4 501.7,772.63 509.6,765.2 C517.5,757.77 524.67,751.72 530.1,747.1 C535.53,742.48 538.58,740.32 542.2,737.5 C545.82,734.68 548.38,732.12 551.8,730.2 C555.22,728.28 559.28,727.2 562.7,726 C566.12,724.8 567.68,724 572.3,723 C576.92,722 582.45,720.8 590.4,720 C598.35,719.2 608.4,718.63 620,718.2 C631.6,717.77 646.67,717.55 660,717.4 C673.33,717.25 675.5,717.27 700,717.3 C724.5,717.33 789.17,717.55 807,717.6" fill="none" stroke="url(#ge4)" stroke-width="2.3" filter="url(#bl2)"/>
<path d="M476.8,797 C477.78,796.12 477.23,797 482.7,791.7 C488.17,786.4 501.7,772.63 509.6,765.2 C517.5,757.77 524.67,751.72 530.1,747.1 C535.53,742.48 538.58,740.32 542.2,737.5 C545.82,734.68 548.38,732.12 551.8,730.2 C555.22,728.28 559.28,727.2 562.7,726 C566.12,724.8 567.68,724 572.3,723 C576.92,722 582.45,720.8 590.4,720 C598.35,719.2 608.4,718.63 620,718.2 C631.6,717.77 646.67,717.55 660,717.4 C673.33,717.25 675.5,717.27 700,717.3 C724.5,717.33 789.17,717.55 807,717.6" fill="none" stroke="url(#ge4d)" stroke-width="3.6" stroke-dasharray="3,3" filter="url(#bl4)"/>
<line x1="476.6" y1="485" x2="476.6" y2="815.3" stroke="#9a9a9a" stroke-width="1" />
<line x1="807" y1="485" x2="807" y2="815.3" stroke="#9a9a9a" stroke-width="1" />
<line x1="476.6" y1="815.3" x2="807" y2="815.3" stroke="#c4c4c4" stroke-width="1.2" />
<line x1="476.6" y1="518.7" x2="480.3" y2="518.7" stroke="#9a9a9a" stroke-width="1" />
<line x1="476.6" y1="603.4" x2="480.3" y2="603.4" stroke="#9a9a9a" stroke-width="1" />
<line x1="476.6" y1="688.3" x2="480.3" y2="688.3" stroke="#9a9a9a" stroke-width="1" />
<line x1="476.6" y1="773.4" x2="480.3" y2="773.4" stroke="#9a9a9a" stroke-width="1" />
<line x1="538.3" y1="815.3" x2="538.3" y2="811.6" stroke="#9a9a9a" stroke-width="1" />
<text x="538.3" y="850.2" text-anchor="middle" fill="#000" style='font-family:"Liberation Sans", sans-serif;font-size:30px;' >−10</text>
<line x1="623.5" y1="815.3" x2="623.5" y2="811.6" stroke="#9a9a9a" stroke-width="1" />
<text x="623.5" y="850.2" text-anchor="middle" fill="#000" style='font-family:"Liberation Sans", sans-serif;font-size:30px;' >−8</text>
<line x1="709" y1="815.3" x2="709" y2="811.6" stroke="#9a9a9a" stroke-width="1" />
<text x="709.9" y="850.2" text-anchor="middle" fill="#000" style='font-family:"Liberation Sans", sans-serif;font-size:30px;' >−6</text>
<line x1="794.8" y1="815.3" x2="794.8" y2="811.6" stroke="#9a9a9a" stroke-width="1" />
<text x="786.6" y="850.2" text-anchor="middle" fill="#000" style='font-family:"Liberation Sans", sans-serif;font-size:30px;' >−4</text>
<text x="588.7" y="890.3" text-anchor="start" fill="#000" style='font-family:"Liberation Serif", serif;font-size:28px;font-style:italic;' >Δ</text>
<text x="607" y="890.3" text-anchor="start" fill="#000" style='font-family:"Liberation Sans", sans-serif;font-size:30px;font-style:italic;' >/h</text>
<text x="637.1" y="890.3" text-anchor="start" fill="#000" style='font-family:"Liberation Sans", sans-serif;font-size:29.5px;' >(GHz)</text>
<rect x="483" y="488" width="34.6" height="38.8" fill="#fff" />
<text x="487.8" y="517.2" text-anchor="start" fill="#000" style='font-family:"Liberation Sans", sans-serif;font-size:42px;font-weight:bold;' >e</text>
<line x1="556.4" y1="783" x2="556.4" y2="815.3" stroke="#8a8a8a" stroke-width="1" />
<line x1="556.4" y1="784" x2="556.4" y2="815.3" stroke="#e4281f" stroke-width="2.4" stroke-dasharray="6,4"/>
<path d="M556.4,773 L550.2,783.8 L562.6,783.8 Z" fill="#e4281f"/>
<line x1="721.9" y1="783" x2="721.9" y2="815.3" stroke="#8a8a8a" stroke-width="1" />
<line x1="721.9" y1="784" x2="721.9" y2="815.3" stroke="#e4281f" stroke-width="2.4" stroke-dasharray="6,4"/>
<path d="M721.9,773 L715.7,783.8 L728.1,783.8 Z" fill="#e4281f"/>
<path d="M891.19,485.5 L892.18,485.85 L890.71,486.2 L888.94,486.55 L891.07,486.9 L890.68,487.25 L890.75,487.6 L893.23,487.95 L893.63,488.3 L896.78,488.65 L891.7,489 L891.14,489.35 L897.08,489.7 L893.79,490.05 L901.89,490.4 L899.26,490.75 L899.61,491.1 L893.16,491.45 L894.64,491.8 L896.98,492.15 L894.38,492.5 L897.32,492.85 L900.98,493.2 L897.5,493.55 L896.59,493.9 L896.34,494.25 L897.27,494.6 L896.19,494.95 L893.36,495.3 L891.87,495.65 L889.27,496 L892.2,496.35 L891.41,496.7 L894.25,497.05 L894.98,497.4 L894.47,497.75 L892.35,498.1 L899.56,498.45 L885.93,498.8 L892.68,499.15 L890.61,499.5 L891.02,499.85 L891.65,500.2 L893.89,500.55 L893.98,500.9 L894.64,501.25 L894.13,501.6 L895.79,501.95 L893.36,502.3 L892.82,502.65 L899.45,503 L894.82,503.35 L899.82,503.7 L893.48,504.05 L888.99,504.4 L892.93,504.75 L894.48,505.1 L895.91,505.45 L893.38,505.8 L893.59,506.15 L900.24,506.5 L898.92,506.85 L905.6,507.2 L897.65,507.55 L890.14,507.9 L896.84,508.25 L895.84,508.6 L895.17,508.95 L895.05,509.3 L896.19,509.65 L894.79,510 L889.14,510.35 L894.03,510.7 L894.14,511.05 L892.77,511.4 L892.57,511.75 L892.47,512.1 L896.97,512.45 L896.95,512.8 L896.24,513.15 L893.85,513.5 L895.29,513.85 L891.01,514.2 L896.4,514.55 L897.41,514.9 L896.62,515.25 L890.42,515.6 L898.65,515.95 L894.03,516.3 L896.1,516.65 L896.68,517 L895.67,517.35 L900.51,517.7 L901.19,518.05 L889.86,518.4 L897.98,518.75 L896.49,519.1 L891.94,519.45 L894.85,519.8 L893.98,520.15 L896.37,520.5 L900.67,520.85 L895.26,521.2 L899.31,521.55 L896.29,521.9 L899.28,522.25 L893.22,522.6 L895.34,522.95 L897.68,523.3 L897.13,523.65 L892.96,524 L896.42,524.35 L895.22,524.7 L893.59,525.05 L899.61,525.4 L892.39,525.75 L900.32,526.1 L889.86,526.45 L890.75,526.8 L896.24,527.15 L891.78,527.5 L894.12,527.85 L892.37,528.2 L893.52,528.55 L894.61,528.9 L896.83,529.25 L893.53,529.6 L899.39,529.95 L896.5,530.3 L893.43,530.65 L894.49,531 L898.47,531.35 L893.48,531.7 L895.55,532.05 L892.74,532.4 L893.56,532.75 L890.62,533.1 L890.06,533.45 L892.17,533.8 L895.94,534.15 L895.58,534.5 L894.51,534.85 L892.53,535.2 L895.37,535.55 L892.24,535.9 L893.9,536.25 L894.94,536.6 L894.93,536.95 L893.71,537.3 L892.53,537.65 L891.85,538 L895.03,538.35 L894.44,538.7 L893.16,539.05 L892.64,539.4 L895.87,539.75 L892.91,540.1 L892.94,540.45 L890.61,540.8 L892.83,541.15 L897.89,541.5 L893.67,541.85 L892.77,542.2 L892.53,542.55 L895.35,542.9 L904.73,543.25 L895.93,543.6 L893.6,543.95 L896.75,544.3 L894.63,544.65 L896.23,545 L894.39,545.35 L890.25,545.7 L891.82,546.05 L891.2,546.4 L892.88,546.75 L890.76,547.1 L890.77,547.45 L889.46,547.8 L889.35,548.15 L894.12,548.5 L891.91,548.85 L898.8,549.2 L891.88,549.55 L892.91,549.9 L898,550.25 L896.54,550.6 L899.58,550.95 L896.64,551.3 L896.07,551.65 L895.06,552 L899.57,552.35 L891.2,552.7 L892.25,553.05 L892.13,553.4 L899.31,553.75 L896.41,554.1 L897.35,554.45 L895.44,554.8 L903.16,555.15 L897.43,555.5 L890.71,555.85 L892.41,556.2 L892.93,556.55 L893.77,556.9 L896.73,557.25 L896.69,557.6 L899.05,557.95 L903.14,558.3 L894.44,558.65 L895.55,559 L897.17,559.35 L890.75,559.7 L895.96,560.05 L890.12,560.4 L895.74,560.75 L896.82,561.1 L894.07,561.45 L898.55,561.8 L891.94,562.15 L889.97,562.5 L894.86,562.85 L891.93,563.2 L893.73,563.55 L892.26,563.9 L892.92,564.25 L892.63,564.6 L895.75,564.95 L894.02,565.3 L894.54,565.65 L888.13,566 L884.42,566.35 L886.86,566.7 L887.77,567.05 L880.72,567.4 L875.83,567.75 L878.76,568.1 L877.73,568.45 L870.63,568.8 L862.8,569.15 L858,569.5 L843.13,569.85 L840.83,570.2 L840.8,570.3 L839.4,570.55 L851.62,570.9 L858.78,571.25 L867.73,571.6 L871.22,571.95 L878.78,572.3 L883.27,572.65 L884.69,573 L881.11,573.35 L886.17,573.7 L886.51,574.05 L888.05,574.4 L889.73,574.75 L890.46,575.1 L889.9,575.45 L890.97,575.8 L890.01,576.15 L883.5,576.5 L895.83,576.85 L892.37,577.2 L891.74,577.55 L897.65,577.9 L890.63,578.25 L897.1,578.6 L896.25,578.95 L891.5,579.3 L894.12,579.65 L890.98,580 L893.14,580.35 L890.07,580.7 L893.8,581.05 L888.97,581.4 L897.92,581.75 L892.55,582.1 L891.08,582.45 L898.86,582.8 L893.74,583.15 L892.91,583.5 L895.74,583.85 L896.58,584.2 L893.71,584.55 L898.3,584.9 L890.2,585.25 L892.43,585.6 L891.48,585.95 L892.58,586.3 L896.1,586.65 L897.25,587 L899.48,587.35 L901.93,587.7 L896,588.05 L895.91,588.4 L892.11,588.75 L890.59,589.1 L890.11,589.45 L899.83,589.8 L897.64,590.15 L896.77,590.5 L888.63,590.85 L889.14,591.2 L890.27,591.55 L896.08,591.9 L894.17,592.25 L890.04,592.6 L890.49,592.95 L893.09,593.3 L896.84,593.65 L895.29,594 L898.53,594.35 L889.56,594.7 L894.67,595.05 L895.2,595.4 L891.09,595.75 L894.95,596.1 L898.48,596.45 L892.88,596.8 L897.07,597.15 L894.35,597.5 L896.77,597.85 L894.93,598.2 L892.03,598.55 L894.58,598.9 L892.99,599.25 L898.06,599.6 L894.37,599.95 L900.2,600.3 L894.33,600.65 L895.66,601 L898.97,601.35 L892.74,601.7 L894.85,602.05 L896.12,602.4 L894.15,602.75 L891.72,603.1 L888.1,603.45 L905.6,603.8 L902.14,604.15 L898.69,604.5 L891.41,604.85 L895.85,605.2 L894.81,605.55 L895.84,605.9 L897.89,606.25 L898.8,606.6 L884.25,606.95 L891.26,607.3 L887.45,607.65 L897.11,608 L894.21,608.35 L894.91,608.7 L892.34,609.05 L893.82,609.4 L895.21,609.75 L894.94,610.1 L895.31,610.45 L892.65,610.8 L904.2,611.15 L893.72,611.5 L892.79,611.85 L895.4,612.2 L891.6,612.55 L899.3,612.9 L897.86,613.25 L895.27,613.6 L898.34,613.95 L890.59,614.3 L896.92,614.65 L896.89,615 L896.57,615.35 L893.3,615.7 L892.47,616.05 L891.54,616.4 L892.26,616.75 L897.23,617.1 L897.87,617.45 L893.29,617.8 L894.41,618.15 L894.36,618.5 L894.54,618.85 L890.53,619.2 L893.67,619.55 L894.18,619.9 L905.6,620.25 L899.68,620.6 L894.49,620.95 L896.03,621.3 L894.01,621.65 L893.23,622 L891.5,622.35 L896.52,622.7 L896.31,623.05 L897.55,623.4 L894.72,623.75 L897.07,624.1 L890.87,624.45 L892.01,624.8 L888.71,625.15 L891.74,625.5 L896.25,625.85 L891.14,626.2 L893.52,626.55 L891.96,626.9 L889.52,627.25 L895.55,627.6 L891.4,627.95 L894.69,628.3 L896.81,628.65 L898.69,629 L905.6,629.35 L896.7,629.7 L897.34,630.05 L895.53,630.4 L896.08,630.75 L889.27,631.1 L894.21,631.45 L893.37,631.8 L896.43,632.15 L893.49,632.5 L893.53,632.85 L894.41,633.2 L894.36,633.55 L902.78,633.9 L899.61,634.25 L891.97,634.6 L893.59,634.95 L891.84,635.3 L893.88,635.65 L892.92,636 L892.93,636.35 L894.27,636.7 L891.51,637.05 L891.64,637.4 L892.56,637.75 L893.91,638.1 L892.91,638.45 L894.92,638.8 L892.44,639.15 L890.19,639.5 L893.57,639.85 L899.12,640.2 L895.33,640.55 L899.39,640.9 L902.29,641.25 L897.02,641.6 L897.24,641.95 L893.77,642.3 L896.8,642.65 L892.23,643 L890.99,643.35 L895.51,643.7 L895.29,644.05 L899.66,644.4 L893.99,644.75 L895.44,645.1 L895.88,645.45 L905.6,645.8 L897.44,646.15 L892.07,646.5 L898.49,646.85 L899.07,647.2 L892.29,647.55 L893.48,647.9 L893.07,648.25 L892.59,648.6 L896.05,648.95 L896.36,649.3 L898.59,649.65 L896.31,650 L892.94,650.35 L893.04,650.7 L889.73,651.05 L893.23,651.4 L893.88,651.75 L892.57,652.1 L889.23,652.45 L894.3,652.8 L897.39,653.15 L895.88,653.5 L894.32,653.85 L893.78,654.2 L893.26,654.55 L905.6,654.9 L899.93,655.25 L894.6,655.6 L890.79,655.95 L886.77,656.3 L892.99,656.65 L888.33,657 L888.48,657.35 L892.19,657.7 L886.62,658.05 L892.64,658.4 L893.67,658.75 L889.65,659.1 L894.96,659.45 L893.14,659.8 L895.98,660.15 L890.95,660.5 L893.37,660.85 L904.46,661.2 L905.6,661.55 L900.39,661.9 L895.47,662.25 L898.19,662.6 L897.4,662.95 L896.92,663.3 L895.44,663.65 L893.74,664 L890.55,664.35 L888.69,664.7 L891.97,665.05 L897.31,665.4 L896.95,665.75 L893.08,666.1 L902.15,666.45 L897.36,666.8 L896.86,667.15 L890.8,667.5 L896.33,667.85 L899.14,668.2 L894.97,668.55 L892.02,668.9 L894.64,669.25 L890.99,669.6 L900,669.95 L893.22,670.3 L895.46,670.65 L892.64,671 L891.61,671.35 L895.74,671.7 L896.89,672.05 L899.06,672.4 L896.52,672.75 L897.36,673.1 L894.59,673.45 L900.02,673.8 L896.75,674.15 L891.66,674.5 L893.76,674.85 L900.35,675.2 L889.68,675.55 L886.87,675.9 L884.93,676.25 L886.57,676.6 L892.38,676.95 L891.22,677.3 L890.84,677.65 L895.57,678 L890.86,678.35 L891.11,678.7 L895.13,679.05 L898.84,679.4 L893.62,679.75 L893.01,680.1 L892.36,680.45 L889.54,680.8 L894.57,681.15 L894.72,681.5 L902.08,681.85 L896.72,682.2 L898.22,682.55 L889.69,682.9 L890.1,683.25 L891.83,683.6 L895.34,683.95 L893.43,684.3 L892.93,684.65 L896.7,685 L895.28,685.35 L894.2,685.7 L893.95,686.05 L898.86,686.4 L895.95,686.75 L896.42,687.1 L900.32,687.45 L892.69,687.8 L893.49,688.15 L895.95,688.5 L897.85,688.85 L897.97,689.2 L892.93,689.55 L895.63,689.9 L896.77,690.25 L892.03,690.6 L894.06,690.95 L891.26,691.3 L893.3,691.65 L894.01,692 L892.8,692.35 L891.02,692.7 L891.56,693.05 L893.24,693.4 L893.8,693.75 L893.68,694.1 L894.02,694.45 L892.51,694.8 L892.41,695.15 L896.59,695.5 L896.47,695.85 L893.46,696.2 L896.87,696.55 L905.6,696.9 L903.46,697.25 L894.63,697.6 L902.11,697.95 L894.44,698.3 L894.41,698.65 L891.69,699 L892.74,699.35 L888.89,699.7 L899.6,700.05 L895.76,700.4 L886.5,700.75 L885.62,701.1 L889.67,701.45 L895.7,701.8 L890.36,702.15 L888.96,702.5 L892.99,702.85 L886.93,703.2 L888,703.55 L887.84,703.9 L887.25,704.25 L886.78,704.6 L886.48,704.95 L884.76,705.3 L880.69,705.65 L888.85,706 L888.96,706.35 L887.46,706.7 L885.16,707.05 L886.51,707.4 L887.1,707.75 L884.74,708.1 L882.52,708.45 L883.36,708.8 L889.36,709.15 L884.15,709.5 L882.91,709.85 L883.83,710.2 L879.99,710.55 L881.57,710.9 L884.02,711.25 L883.05,711.6 L884.29,711.95 L885.78,712.3 L883.76,712.65 L888.79,713 L886.16,713.35 L883.7,713.7 L885.71,714.05 L889.74,714.4 L889.16,714.75 L890.67,715.1 L887.48,715.45 L882.63,715.8 L884.77,716.15 L887.51,716.5 L880.67,716.85 L889.92,717.2 L888.08,717.55 L891.12,717.9 L892.62,718.25 L898.16,718.6 L891.52,718.95 L891.73,719.3 L890,719.65 L895.49,720 L888.52,720.35 L891.83,720.7 L895.47,721.05 L900.25,721.4 L889.83,721.75 L886.98,722.1 L886.99,722.45 L888.71,722.8 L887.58,723.15 L888.01,723.5 L891.71,723.85 L895.68,724.2 L893.65,724.55 L898.64,724.9 L901.72,725.25 L894.64,725.6 L894.62,725.95 L893.51,726.3 L895.57,726.65 L891.99,727 L890.69,727.35 L893.74,727.7 L894.99,728.05 L893.53,728.4 L893.17,728.75 L891.18,729.1 L893.74,729.45 L896.39,729.8 L892.19,730.15 L891.69,730.5 L890.18,730.85 L886.2,731.2 L884.65,731.55 L888.21,731.9 L886.38,732.25 L892.41,732.6 L889.22,732.95 L888.93,733.3 L888.82,733.65 L884.81,734 L883.25,734.35 L887.09,734.7 L886.26,735.05 L884.45,735.4 L877.68,735.75 L878.58,736.1 L878.69,736.45 L883.4,736.8 L883.12,737.15 L886.5,737.5 L885.6,737.85 L885.69,738.2 L882.99,738.55 L884.1,738.9 L886.73,739.25 L883.7,739.6 L884.26,739.95 L877.5,740.3 L881.79,740.65 L890.24,741 L886.59,741.35 L889.59,741.7 L887.77,742.05 L884.52,742.4 L888.12,742.75 L888.1,743.1 L891.92,743.45 L889.25,743.8 L893.02,744.15 L889.25,744.5 L893.56,744.85 L890.8,745.2 L889.53,745.55 L888.55,745.9 L892.17,746.25 L897.63,746.6 L890.12,746.95 L889.82,747.3 L889.68,747.65 L890.71,748 L893,748.35 L894.19,748.7 L893.27,749.05 L891.34,749.4 L891.82,749.75 L892.1,750.1 L887.41,750.45 L888.19,750.8 L886.09,751.15 L891.14,751.5 L893.05,751.85 L893.93,752.2 L894.92,752.55 L896.62,752.9 L890.08,753.25 L892.62,753.6 L895.42,753.95 L895.78,754.3 L901.14,754.65 L896.92,755 L897.9,755.35 L896.07,755.7 L898.89,756.05 L898.42,756.4 L893.06,756.75 L894.14,757.1 L896.83,757.45 L894.84,757.8 L888.52,758.15 L893.01,758.5 L894.44,758.85 L895.3,759.2 L889.3,759.55 L891.64,759.9 L901.65,760.25 L896.45,760.6 L896.97,760.95 L893.66,761.3 L894.58,761.65 L888.83,762 L888.42,762.35 L890.27,762.7 L891.19,763.05 L889.85,763.4 L887.14,763.75 L889.7,764.1 L888.67,764.45 L893.3,764.8 L898.12,765.15 L896.78,765.5 L891.88,765.85 L898.55,766.2 L897.73,766.55 L892.82,766.9 L892.52,767.25 L892.84,767.6 L893.49,767.95 L892.41,768.3 L892.68,768.65 L895.45,769 L895.51,769.35 L893.95,769.7 L897.1,770.05 L894.75,770.4 L897.17,770.75 L897.16,771.1 L892.23,771.45 L897.22,771.8 L897.9,772.15 L891.89,772.5 L898.17,772.85 L891.33,773.2 L892.41,773.55 L893.77,773.9 L893.01,774.25 L891.87,774.6 L893.87,774.95 L892.23,775.3 L895.34,775.65 L894.85,776 L895.38,776.35 L897.55,776.7 L887.31,777.05 L891.23,777.4 L892.21,777.75 L893.01,778.1 L896.21,778.45 L897.94,778.8 L896.48,779.15 L900.13,779.5 L897.12,779.85 L890.82,780.2 L890.84,780.55 L895.01,780.9 L896.66,781.25 L895.13,781.6 L896.69,781.95 L900.15,782.3 L891.03,782.65 L892.23,783 L895.98,783.35 L893.94,783.7 L897.65,784.05 L895.03,784.4 L894.22,784.75 L891.32,785.1 L887.12,785.45 L893.32,785.8 L889.27,786.15 L893.16,786.5 L891.41,786.85 L893.18,787.2 L888.21,787.55 L890.36,787.9 L898.46,788.25 L894.11,788.6 L896.22,788.95 L895.93,789.3 L893.2,789.65 L898.35,790 L892.63,790.35 L894.16,790.7 L897.9,791.05 L895.07,791.4 L894.43,791.75 L894.89,792.1 L892.58,792.45 L893.28,792.8 L895.45,793.15 L897.63,793.5 L893.27,793.85 L890.51,794.2 L895.26,794.55 L902.41,794.9 L896.76,795.25 L895.94,795.6 L899.36,795.95 L896.51,796.3 L897.46,796.65 L895.11,797 L894.37,797.35 L898.12,797.7 L891.49,798.05 L891,798.4 L893.94,798.75 L901.21,799.1 L892.86,799.45 L899.96,799.8 L891.67,800.15 L894.82,800.5 L894.79,800.85 L889.36,801.2 L894.65,801.55 L897.62,801.9 L894.43,802.25 L893.98,802.6 L896.53,802.95 L895.3,803.3 L897.23,803.65 L894.3,804 L892.56,804.35 L894.86,804.7 L893.11,805.05 L891.88,805.4 L888.87,805.75 L891.92,806.1 L891.17,806.45 L890.09,806.8 L891.04,807.15 L894.59,807.5 L892.47,807.85 L895.34,808.2 L900.7,808.55 L893.61,808.9 L895.61,809.25 L896.45,809.6 L894.53,809.95 L892.14,810.3 L894.76,810.65 L891.79,811 L896.9,811.35 L897.43,811.7 L897.28,812.05 L893.36,812.4 L894.52,812.75 L891.58,813.1 L893.78,813.45 L897.93,813.8 L895.53,814.15 L892.53,814.5 L892.5,814.85 L888.59,815.2 L893.74,815.55 L894.04,815.9" fill="none" stroke="#000" stroke-width="1.7" stroke-linejoin="round"/>
<path d="M895.28,485.5 L895.28,485.75 L895.27,486 L895.27,486.25 L895.27,486.5 L895.27,486.75 L895.27,487 L895.27,487.25 L895.27,487.5 L895.27,487.75 L895.27,488 L895.27,488.25 L895.27,488.5 L895.27,488.75 L895.27,489 L895.27,489.25 L895.27,489.5 L895.27,489.75 L895.27,490 L895.27,490.25 L895.27,490.5 L895.27,490.75 L895.27,491 L895.27,491.25 L895.27,491.5 L895.27,491.75 L895.27,492 L895.27,492.25 L895.27,492.5 L895.27,492.75 L895.27,493 L895.27,493.25 L895.27,493.5 L895.27,493.75 L895.27,494 L895.27,494.25 L895.27,494.5 L895.27,494.75 L895.27,495 L895.27,495.25 L895.27,495.5 L895.27,495.75 L895.27,496 L895.27,496.25 L895.27,496.5 L895.27,496.75 L895.27,497 L895.27,497.25 L895.27,497.5 L895.27,497.75 L895.27,498 L895.27,498.25 L895.27,498.5 L895.27,498.75 L895.27,499 L895.27,499.25 L895.27,499.5 L895.27,499.75 L895.27,500 L895.27,500.25 L895.27,500.5 L895.27,500.75 L895.27,501 L895.27,501.25 L895.27,501.5 L895.27,501.75 L895.27,502 L895.27,502.25 L895.26,502.5 L895.26,502.75 L895.26,503 L895.26,503.25 L895.26,503.5 L895.26,503.75 L895.26,504 L895.26,504.25 L895.26,504.5 L895.26,504.75 L895.26,505 L895.26,505.25 L895.26,505.5 L895.26,505.75 L895.26,506 L895.26,506.25 L895.26,506.5 L895.26,506.75 L895.26,507 L895.26,507.25 L895.26,507.5 L895.26,507.75 L895.26,508 L895.26,508.25 L895.26,508.5 L895.26,508.75 L895.26,509 L895.26,509.25 L895.26,509.5 L895.26,509.75 L895.26,510 L895.26,510.25 L895.26,510.5 L895.26,510.75 L895.26,511 L895.26,511.25 L895.26,511.5 L895.26,511.75 L895.26,512 L895.26,512.25 L895.25,512.5 L895.25,512.75 L895.25,513 L895.25,513.25 L895.25,513.5 L895.25,513.75 L895.25,514 L895.25,514.25 L895.25,514.5 L895.25,514.75 L895.25,515 L895.25,515.25 L895.25,515.5 L895.25,515.75 L895.25,516 L895.25,516.25 L895.25,516.5 L895.25,516.75 L895.25,517 L895.25,517.25 L895.25,517.5 L895.25,517.75 L895.25,518 L895.25,518.25 L895.25,518.5 L895.25,518.75 L895.25,519 L895.24,519.25 L895.24,519.5 L895.24,519.75 L895.24,520 L895.24,520.25 L895.24,520.5 L895.24,520.75 L895.24,521 L895.24,521.25 L895.24,521.5 L895.24,521.75 L895.24,522 L895.24,522.25 L895.24,522.5 L895.24,522.75 L895.24,523 L895.24,523.25 L895.24,523.5 L895.24,523.75 L895.24,524 L895.23,524.25 L895.23,524.5 L895.23,524.75 L895.23,525 L895.23,525.25 L895.23,525.5 L895.23,525.75 L895.23,526 L895.23,526.25 L895.23,526.5 L895.23,526.75 L895.23,527 L895.23,527.25 L895.23,527.5 L895.23,527.75 L895.22,528 L895.22,528.25 L895.22,528.5 L895.22,528.75 L895.22,529 L895.22,529.25 L895.22,529.5 L895.22,529.75 L895.22,530 L895.22,530.25 L895.22,530.5 L895.22,530.75 L895.22,531 L895.21,531.25 L895.21,531.5 L895.21,531.75 L895.21,532 L895.21,532.25 L895.21,532.5 L895.21,532.75 L895.21,533 L895.21,533.25 L895.21,533.5 L895.2,533.75 L895.2,534 L895.2,534.25 L895.2,534.5 L895.2,534.75 L895.2,535 L895.2,535.25 L895.2,535.5 L895.19,535.75 L895.19,536 L895.19,536.25 L895.19,536.5 L895.19,536.75 L895.19,537 L895.19,537.25 L895.18,537.5 L895.18,537.75 L895.18,538 L895.18,538.25 L895.18,538.5 L895.18,538.75 L895.18,539 L895.17,539.25 L895.17,539.5 L895.17,539.75 L895.17,540 L895.17,540.25 L895.16,540.5 L895.16,540.75 L895.16,541 L895.16,541.25 L895.16,541.5 L895.15,541.75 L895.15,542 L895.15,542.25 L895.15,542.5 L895.14,542.75 L895.14,543 L895.14,543.25 L895.14,543.5 L895.13,543.75 L895.13,544 L895.13,544.25 L895.13,544.5 L895.12,544.75 L895.12,545 L895.12,545.25 L895.11,545.5 L895.11,545.75 L895.11,546 L895.1,546.25 L895.1,546.5 L895.1,546.75 L895.09,547 L895.09,547.25 L895.09,547.5 L895.08,547.75 L895.08,548 L895.07,548.25 L895.07,548.5 L895.06,548.75 L895.06,549 L895.05,549.25 L895.05,549.5 L895.04,549.75 L895.04,550 L895.03,550.25 L895.03,550.5 L895.02,550.75 L895.01,551 L895.01,551.25 L895,551.5 L894.99,551.75 L894.99,552 L894.98,552.25 L894.97,552.5 L894.96,552.75 L894.96,553 L894.95,553.25 L894.94,553.5 L894.93,553.75 L894.92,554 L894.91,554.25 L894.9,554.5 L894.89,554.75 L894.88,555 L894.86,555.25 L894.85,555.5 L894.84,555.75 L894.82,556 L894.81,556.25 L894.79,556.5 L894.78,556.75 L894.76,557 L894.75,557.25 L894.73,557.5 L894.71,557.75 L894.69,558 L894.67,558.25 L894.64,558.5 L894.62,558.75 L894.6,559 L894.57,559.25 L894.54,559.5 L894.51,559.75 L894.48,560 L894.45,560.25 L894.41,560.5 L894.37,560.75 L894.33,561 L894.29,561.25 L894.24,561.5 L894.2,561.75 L894.14,562 L894.09,562.25 L894.03,562.5 L893.96,562.75 L893.89,563 L893.81,563.25 L893.73,563.5 L893.64,563.75 L893.54,564 L893.43,564.25 L893.32,564.5 L893.19,564.75 L893.04,565 L892.89,565.25 L892.71,565.5 L892.52,565.75 L892.3,566 L892.06,566.25 L891.79,566.5 L891.48,566.75 L891.13,567 L890.74,567.25 L890.28,567.5 L889.75,567.75 L889.14,568 L888.42,568.25 L887.57,568.5 L886.56,568.75 L885.35,569 L883.89,569.25 L882.09,569.5 L879.87,569.75 L879.28,570 L879.28,570.25 L879.28,570.5 L879.28,570.75 L879.28,571 L879.28,571.25 L879.28,571.5 L879.28,571.75 L879.28,572 L879.28,572.25 L879.28,572.5 L879.28,572.75 L879.28,573 L879.28,573.25 L879.28,573.5 L879.28,573.75 L879.28,574 L879.28,574.25 L879.28,574.5 L879.28,574.75 L881.26,575 L883.21,575.25 L884.8,575.5 L886.1,575.75 L887.19,576 L888.1,576.25 L888.86,576.5 L889.51,576.75 L890.08,577 L890.56,577.25 L890.98,577.5 L891.35,577.75 L891.67,578 L891.95,578.25 L892.21,578.5 L892.43,578.75 L892.63,579 L892.82,579.25 L892.98,579.5 L893.13,579.75 L893.26,580 L893.38,580.25 L893.49,580.5 L893.6,580.75 L893.69,581 L893.77,581.25 L893.85,581.5 L893.93,581.75 L893.99,582 L894.06,582.25 L894.11,582.5 L894.17,582.75 L894.22,583 L894.27,583.25 L894.31,583.5 L894.35,583.75 L894.39,584 L894.43,584.25 L894.46,584.5 L894.49,584.75 L894.52,585 L894.55,585.25 L894.58,585.5 L894.6,585.75 L894.63,586 L894.65,586.25 L894.67,586.5 L894.69,586.75 L894.71,587 L894.73,587.25 L894.75,587.5 L894.76,587.75 L894.78,588 L894.79,588.25 L894.81,588.5 L894.82,588.75 L894.84,589 L894.85,589.25 L894.86,589.5 L894.87,589.75 L894.88,590 L894.89,590.25 L894.9,590.5 L894.91,590.75 L894.92,591 L894.93,591.25 L894.94,591.5 L894.95,591.75 L894.96,592 L894.96,592.25 L894.97,592.5 L894.98,592.75 L894.99,593 L894.99,593.25 L895,593.5 L895.01,593.75 L895.01,594 L895.02,594.25 L895.02,594.5 L895.03,594.75 L895.03,595 L895.04,595.25 L895.04,595.5 L895.05,595.75 L895.05,596 L895.06,596.25 L895.06,596.5 L895.06,596.75 L895.07,597 L895.07,597.25 L895.08,597.5 L895.08,597.75 L895.08,598 L895.09,598.25 L895.09,598.5 L895.09,598.75 L895.1,599 L895.1,599.25 L895.1,599.5 L895.11,599.75 L895.11,600 L895.11,600.25 L895.11,600.5 L895.12,600.75 L895.12,601 L895.12,601.25 L895.12,601.5 L895.13,601.75 L895.13,602 L895.13,602.25 L895.13,602.5 L895.13,602.75 L895.14,603 L895.14,603.25 L895.14,603.5 L895.14,603.75 L895.14,604 L895.15,604.25 L895.15,604.5 L895.15,604.75 L895.15,605 L895.15,605.25 L895.15,605.5 L895.15,605.75 L895.16,606 L895.16,606.25 L895.16,606.5 L895.16,606.75 L895.16,607 L895.16,607.25 L895.16,607.5 L895.17,607.75 L895.17,608 L895.17,608.25 L895.17,608.5 L895.17,608.75 L895.17,609 L895.17,609.25 L895.17,609.5 L895.17,609.75 L895.17,610 L895.18,610.25 L895.18,610.5 L895.18,610.75 L895.18,611 L895.18,611.25 L895.18,611.5 L895.18,611.75 L895.18,612 L895.18,612.25 L895.18,612.5 L895.18,612.75 L895.18,613 L895.19,613.25 L895.19,613.5 L895.19,613.75 L895.19,614 L895.19,614.25 L895.19,614.5 L895.19,614.75 L895.19,615 L895.19,615.25 L895.19,615.5 L895.19,615.75 L895.19,616 L895.19,616.25 L895.19,616.5 L895.19,616.75 L895.19,617 L895.19,617.25 L895.2,617.5 L895.2,617.75 L895.2,618 L895.2,618.25 L895.2,618.5 L895.2,618.75 L895.2,619 L895.2,619.25 L895.2,619.5 L895.2,619.75 L895.2,620 L895.2,620.25 L895.2,620.5 L895.2,620.75 L895.2,621 L895.2,621.25 L895.2,621.5 L895.2,621.75 L895.2,622 L895.2,622.25 L895.2,622.5 L895.2,622.75 L895.2,623 L895.2,623.25 L895.2,623.5 L895.2,623.75 L895.2,624 L895.2,624.25 L895.2,624.5 L895.2,624.75 L895.2,625 L895.2,625.25 L895.2,625.5 L895.2,625.75 L895.2,626 L895.2,626.25 L895.2,626.5 L895.2,626.75 L895.2,627 L895.2,627.25 L895.2,627.5 L895.2,627.75 L895.2,628 L895.2,628.25 L895.2,628.5 L895.2,628.75 L895.2,629 L895.2,629.25 L895.2,629.5 L895.2,629.75 L895.2,630 L895.2,630.25 L895.2,630.5 L895.2,630.75 L895.2,631 L895.2,631.25 L895.2,631.5 L895.2,631.75 L895.2,632 L895.2,632.25 L895.2,632.5 L895.2,632.75 L895.2,633 L895.2,633.25 L895.2,633.5 L895.2,633.75 L895.2,634 L895.2,634.25 L895.2,634.5 L895.2,634.75 L895.2,635 L895.2,635.25 L895.2,635.5 L895.2,635.75 L895.2,636 L895.2,636.25 L895.2,636.5 L895.2,636.75 L895.2,637 L895.2,637.25 L895.2,637.5 L895.2,637.75 L895.2,638 L895.2,638.25 L895.2,638.5 L895.2,638.75 L895.2,639 L895.2,639.25 L895.2,639.5 L895.2,639.75 L895.2,640 L895.2,640.25 L895.2,640.5 L895.2,640.75 L895.2,641 L895.2,641.25 L895.2,641.5 L895.2,641.75 L895.2,642 L895.2,642.25 L895.2,642.5 L895.2,642.75 L895.19,643 L895.19,643.25 L895.19,643.5 L895.19,643.75 L895.19,644 L895.19,644.25 L895.19,644.5 L895.19,644.75 L895.19,645 L895.19,645.25 L895.19,645.5 L895.19,645.75 L895.19,646 L895.19,646.25 L895.19,646.5 L895.19,646.75 L895.19,647 L895.19,647.25 L895.19,647.5 L895.19,647.75 L895.19,648 L895.19,648.25 L895.19,648.5 L895.18,648.75 L895.18,649 L895.18,649.25 L895.18,649.5 L895.18,649.75 L895.18,650 L895.18,650.25 L895.18,650.5 L895.18,650.75 L895.18,651 L895.18,651.25 L895.18,651.5 L895.18,651.75 L895.18,652 L895.18,652.25 L895.18,652.5 L895.17,652.75 L895.17,653 L895.17,653.25 L895.17,653.5 L895.17,653.75 L895.17,654 L895.17,654.25 L895.17,654.5 L895.17,654.75 L895.17,655 L895.17,655.25 L895.17,655.5 L895.17,655.75 L895.16,656 L895.16,656.25 L895.16,656.5 L895.16,656.75 L895.16,657 L895.16,657.25 L895.16,657.5 L895.16,657.75 L895.16,658 L895.16,658.25 L895.16,658.5 L895.15,658.75 L895.15,659 L895.15,659.25 L895.15,659.5 L895.15,659.75 L895.15,660 L895.15,660.25 L895.15,660.5 L895.15,660.75 L895.14,661 L895.14,661.25 L895.14,661.5 L895.14,661.75 L895.14,662 L895.14,662.25 L895.14,662.5 L895.14,662.75 L895.13,663 L895.13,663.25 L895.13,663.5 L895.13,663.75 L895.13,664 L895.13,664.25 L895.13,664.5 L895.12,664.75 L895.12,665 L895.12,665.25 L895.12,665.5 L895.12,665.75 L895.12,666 L895.11,666.25 L895.11,666.5 L895.11,666.75 L895.11,667 L895.11,667.25 L895.11,667.5 L895.1,667.75 L895.1,668 L895.1,668.25 L895.1,668.5 L895.1,668.75 L895.1,669 L895.09,669.25 L895.09,669.5 L895.09,669.75 L895.09,670 L895.08,670.25 L895.08,670.5 L895.08,670.75 L895.08,671 L895.08,671.25 L895.07,671.5 L895.07,671.75 L895.07,672 L895.07,672.25 L895.06,672.5 L895.06,672.75 L895.06,673 L895.06,673.25 L895.05,673.5 L895.05,673.75 L895.05,674 L895.04,674.25 L895.04,674.5 L895.04,674.75 L895.04,675 L895.03,675.25 L895.03,675.5 L895.03,675.75 L895.02,676 L895.02,676.25 L895.02,676.5 L895.01,676.75 L895.01,677 L895.01,677.25 L895,677.5 L895,677.75 L894.99,678 L894.99,678.25 L894.99,678.5 L894.98,678.75 L894.98,679 L894.97,679.25 L894.97,679.5 L894.96,679.75 L894.96,680 L894.95,680.25 L894.95,680.5 L894.94,680.75 L894.94,681 L894.93,681.25 L894.93,681.5 L894.92,681.75 L894.92,682 L894.91,682.25 L894.91,682.5 L894.9,682.75 L894.89,683 L894.89,683.25 L894.88,683.5 L894.87,683.75 L894.87,684 L894.86,684.25 L894.85,684.5 L894.85,684.75 L894.84,685 L894.83,685.25 L894.82,685.5 L894.81,685.75 L894.81,686 L894.8,686.25 L894.79,686.5 L894.78,686.75 L894.77,687 L894.76,687.25 L894.75,687.5 L894.74,687.75 L894.73,688 L894.72,688.25 L894.71,688.5 L894.69,688.75 L894.68,689 L894.67,689.25 L894.66,689.5 L894.64,689.75 L894.63,690 L894.62,690.25 L894.6,690.5 L894.59,690.75 L894.57,691 L894.55,691.25 L894.54,691.5 L894.52,691.75 L894.5,692 L894.48,692.25 L894.46,692.5 L894.44,692.75 L894.42,693 L894.4,693.25 L894.38,693.5 L894.36,693.75 L894.33,694 L894.31,694.25 L894.28,694.5 L894.25,694.75 L894.22,695 L894.19,695.25 L894.16,695.5 L894.13,695.75 L894.09,696 L894.06,696.25 L894.02,696.5 L893.98,696.75 L893.94,697 L893.9,697.25 L893.85,697.5 L893.81,697.75 L893.76,698 L893.71,698.25 L893.65,698.5 L893.59,698.75 L893.53,699 L893.47,699.25 L893.4,699.5 L893.33,699.75 L893.26,700 L893.18,700.25 L893.09,700.5 L893,700.75 L892.91,701 L892.81,701.25 L892.7,701.5 L892.59,701.75 L892.47,702 L892.34,702.25 L892.21,702.5 L892.06,702.75 L891.91,703 L891.75,703.25 L891.57,703.5 L891.38,703.75 L891.19,704 L890.97,704.25 L890.75,704.5 L890.51,704.75 L890.25,705 L889.97,705.25 L889.68,705.5 L889.37,705.75 L889.05,706 L888.7,706.25 L888.33,706.5 L887.95,706.75 L887.55,707 L887.14,707.25 L886.71,707.5 L886.28,707.75 L885.84,708 L885.41,708.25 L884.98,708.5 L884.57,708.75 L884.19,709 L883.85,709.25 L883.55,709.5 L883.3,709.75 L883.12,710 L883,710.25 L882.96,710.5 L882.99,710.75 L883.09,711 L883.26,711.25 L883.5,711.5 L883.78,711.75 L884.12,712 L884.49,712.25 L884.88,712.5 L885.29,712.75 L885.72,713 L886.14,713.25 L886.56,713.5 L886.97,713.75 L887.37,714 L887.76,714.25 L888.13,714.5 L888.48,714.75 L888.81,715 L889.13,715.25 L889.42,715.5 L889.7,715.75 L889.96,716 L890.2,716.25 L890.42,716.5 L890.63,716.75 L890.83,717 L891.01,717.25 L891.18,717.5 L891.34,717.75 L891.48,718 L891.62,718.25 L891.74,718.5 L891.85,718.75 L891.96,719 L892.06,719.25 L892.15,719.5 L892.23,719.75 L892.31,720 L892.38,720.25 L892.44,720.5 L892.5,720.75 L892.55,721 L892.6,721.25 L892.64,721.5 L892.68,721.75 L892.71,722 L892.74,722.25 L892.76,722.5 L892.78,722.75 L892.79,723 L892.8,723.25 L892.81,723.5 L892.81,723.75 L892.81,724 L892.8,724.25 L892.79,724.5 L892.78,724.75 L892.76,725 L892.74,725.25 L892.71,725.5 L892.68,725.75 L892.64,726 L892.6,726.25 L892.55,726.5 L892.5,726.75 L892.44,727 L892.38,727.25 L892.31,727.5 L892.23,727.75 L892.15,728 L892.06,728.25 L891.96,728.5 L891.86,728.75 L891.74,729 L891.62,729.25 L891.48,729.5 L891.34,729.75 L891.18,730 L891.01,730.25 L890.83,730.5 L890.63,730.75 L890.42,731 L890.2,731.25 L889.96,731.5 L889.7,731.75 L889.42,732 L889.13,732.25 L888.81,732.5 L888.48,732.75 L888.13,733 L887.76,733.25 L887.38,733.5 L886.98,733.75 L886.56,734 L886.14,734.25 L885.72,734.5 L885.3,734.75 L884.88,735 L884.49,735.25 L884.12,735.5 L883.79,735.75 L883.5,736 L883.26,736.25 L883.09,736.5 L882.99,736.75 L882.96,737 L883,737.25 L883.12,737.5 L883.3,737.75 L883.55,738 L883.85,738.25 L884.19,738.5 L884.58,738.75 L884.98,739 L885.41,739.25 L885.84,739.5 L886.28,739.75 L886.72,740 L887.14,740.25 L887.55,740.5 L887.95,740.75 L888.34,741 L888.7,741.25 L889.05,741.5 L889.38,741.75 L889.69,742 L889.98,742.25 L890.25,742.5 L890.51,742.75 L890.75,743 L890.98,743.25 L891.19,743.5 L891.39,743.75 L891.57,744 L891.75,744.25 L891.91,744.5 L892.07,744.75 L892.21,745 L892.35,745.25 L892.47,745.5 L892.59,745.75 L892.71,746 L892.81,746.25 L892.91,746.5 L893.01,746.75 L893.1,747 L893.18,747.25 L893.26,747.5 L893.33,747.75 L893.41,748 L893.47,748.25 L893.54,748.5 L893.6,748.75 L893.65,749 L893.71,749.25 L893.76,749.5 L893.81,749.75 L893.86,750 L893.9,750.25 L893.95,750.5 L893.99,750.75 L894.03,751 L894.06,751.25 L894.1,751.5 L894.13,751.75 L894.17,752 L894.2,752.25 L894.23,752.5 L894.26,752.75 L894.28,753 L894.31,753.25 L894.34,753.5 L894.36,753.75 L894.38,754 L894.41,754.25 L894.43,754.5 L894.45,754.75 L894.47,755 L894.49,755.25 L894.51,755.5 L894.53,755.75 L894.54,756 L894.56,756.25 L894.58,756.5 L894.59,756.75 L894.61,757 L894.62,757.25 L894.64,757.5 L894.65,757.75 L894.66,758 L894.68,758.25 L894.69,758.5 L894.7,758.75 L894.71,759 L894.72,759.25 L894.73,759.5 L894.75,759.75 L894.76,760 L894.77,760.25 L894.78,760.5 L894.79,760.75 L894.79,761 L894.8,761.25 L894.81,761.5 L894.82,761.75 L894.83,762 L894.84,762.25 L894.85,762.5 L894.85,762.75 L894.86,763 L894.87,763.25 L894.87,763.5 L894.88,763.75 L894.89,764 L894.89,764.25 L894.9,764.5 L894.91,764.75 L894.91,765 L894.92,765.25 L894.93,765.5 L894.93,765.75 L894.94,766 L894.94,766.25 L894.95,766.5 L894.95,766.75 L894.96,767 L894.96,767.25 L894.97,767.5 L894.97,767.75 L894.98,768 L894.98,768.25 L894.99,768.5 L894.99,768.75 L894.99,769 L895,769.25 L895,769.5 L895.01,769.75 L895.01,770 L895.01,770.25 L895.02,770.5 L895.02,770.75 L895.02,771 L895.03,771.25 L895.03,771.5 L895.03,771.75 L895.04,772 L895.04,772.25 L895.04,772.5 L895.05,772.75 L895.05,773 L895.05,773.25 L895.06,773.5 L895.06,773.75 L895.06,774 L895.06,774.25 L895.07,774.5 L895.07,774.75 L895.07,775 L895.08,775.25 L895.08,775.5 L895.08,775.75 L895.08,776 L895.09,776.25 L895.09,776.5 L895.09,776.75 L895.09,777 L895.09,777.25 L895.1,777.5 L895.1,777.75 L895.1,778 L895.1,778.25 L895.11,778.5 L895.11,778.75 L895.11,779 L895.11,779.25 L895.11,779.5 L895.12,779.75 L895.12,780 L895.12,780.25 L895.12,780.5 L895.12,780.75 L895.12,781 L895.13,781.25 L895.13,781.5 L895.13,781.75 L895.13,782 L895.13,782.25 L895.13,782.5 L895.14,782.75 L895.14,783 L895.14,783.25 L895.14,783.5 L895.14,783.75 L895.14,784 L895.14,784.25 L895.15,784.5 L895.15,784.75 L895.15,785 L895.15,785.25 L895.15,785.5 L895.15,785.75 L895.15,786 L895.16,786.25 L895.16,786.5 L895.16,786.75 L895.16,787 L895.16,787.25 L895.16,787.5 L895.16,787.75 L895.16,788 L895.17,788.25 L895.17,788.5 L895.17,788.75 L895.17,789 L895.17,789.25 L895.17,789.5 L895.17,789.75 L895.17,790 L895.17,790.25 L895.18,790.5 L895.18,790.75 L895.18,791 L895.18,791.25 L895.18,791.5 L895.18,791.75 L895.18,792 L895.18,792.25 L895.18,792.5 L895.18,792.75 L895.18,793 L895.19,793.25 L895.19,793.5 L895.19,793.75 L895.19,794 L895.19,794.25 L895.19,794.5 L895.19,794.75 L895.19,795 L895.19,795.25 L895.19,795.5 L895.19,795.75 L895.2,796 L895.2,796.25 L895.2,796.5 L895.2,796.75 L895.2,797 L895.2,797.25 L895.2,797.5 L895.2,797.75 L895.2,798 L895.2,798.25 L895.2,798.5 L895.2,798.75 L895.2,799 L895.2,799.25 L895.21,799.5 L895.21,799.75 L895.21,800 L895.21,800.25 L895.21,800.5 L895.21,800.75 L895.21,801 L895.21,801.25 L895.21,801.5 L895.21,801.75 L895.21,802 L895.21,802.25 L895.21,802.5 L895.21,802.75 L895.21,803 L895.21,803.25 L895.21,803.5 L895.22,803.75 L895.22,804 L895.22,804.25 L895.22,804.5 L895.22,804.75 L895.22,805 L895.22,805.25 L895.22,805.5 L895.22,805.75 L895.22,806 L895.22,806.25 L895.22,806.5 L895.22,806.75 L895.22,807 L895.22,807.25 L895.22,807.5 L895.22,807.75 L895.22,808 L895.22,808.25 L895.23,808.5 L895.23,808.75 L895.23,809 L895.23,809.25 L895.23,809.5 L895.23,809.75 L895.23,810 L895.23,810.25 L895.23,810.5 L895.23,810.75 L895.23,811 L895.23,811.25 L895.23,811.5 L895.23,811.75 L895.23,812 L895.23,812.25 L895.23,812.5 L895.23,812.75 L895.23,813 L895.23,813.25 L895.23,813.5 L895.23,813.75 L895.23,814 L895.23,814.25 L895.24,814.5 L895.24,814.75 L895.24,815 L895.24,815.25 L895.24,815.5 L895.24,815.75 L895.24,816" fill="none" stroke="#e8262b" stroke-width="1.3" stroke-dasharray="5,3"/>
<path d="M810.7,572.3 H880" fill="none" stroke="#e8262b" stroke-width="1.3" stroke-dasharray="5,3"/>
<path d="M879.11,491 L880.92,491.35 L879.05,491.7 L881.93,492.05 L873.67,492.4 L876.25,492.75 L876.15,493.1 L876.45,493.45 L877.08,493.8 L877.88,494.15 L883.63,494.5 L876.38,494.85 L875.76,495.2 L876.84,495.55 L879.65,495.9 L881.55,496.25 L875.28,496.6 L877.61,496.95 L877.54,497.3 L877.89,497.65 L877.67,498 L875.64,498.35 L876.91,498.7 L872.92,499.05 L878.12,499.4 L879.35,499.75 L882.27,500.1 L876.04,500.45 L874.56,500.8 L877.24,501.15 L878.25,501.5 L877.61,501.85 L874.4,502.2 L876.53,502.55 L877.58,502.9 L880.58,503.25 L878.64,503.6 L878.88,503.95 L875.68,504.3 L879.5,504.65 L881.87,505 L880.13,505.35 L876.37,505.7 L873.56,506.05 L870.05,506.4 L879.44,506.75 L879.83,507.1 L875.88,507.45 L877.85,507.8 L876.27,508.15 L877.32,508.5 L874.36,508.85 L876.32,509.2 L878.94,509.55 L879.59,509.9 L878.67,510.25 L877.42,510.6 L874.36,510.95 L866.19,511.3 L873.72,511.65 L878.56,512 L873.72,512.35 L873.33,512.7 L877.59,513.05 L875.27,513.4 L875.51,513.75 L870.39,514.1 L869.77,514.45 L872.26,514.8 L872.07,515.15 L870.64,515.5 L878.92,515.85 L879.87,516.2 L878.36,516.55 L880.5,516.9 L881.73,517.25 L876.08,517.6 L876.26,517.95 L877.62,518.3 L878.52,518.65 L876.66,519 L876.68,519.35 L878.64,519.7 L873.09,520.05 L879.87,520.4 L879.33,520.75 L877.49,521.1 L886.99,521.45 L877.84,521.8 L878.54,522.15 L874.23,522.5 L876.2,522.85 L874.39,523.2 L874.55,523.55 L874.91,523.9 L879.96,524.25 L881.83,524.6 L879.89,524.95 L874.4,525.3 L883.34,525.65 L882.54,526 L880.29,526.35 L877.35,526.7 L876.63,527.05 L874.34,527.4 L875.93,527.75 L879.09,528.1 L878.16,528.45 L878.75,528.8 L873.66,529.15 L873.84,529.5 L877.89,529.85 L879.44,530.2 L878.84,530.55 L880.54,530.9 L874.93,531.25 L873.83,531.6 L871.7,531.95 L875.56,532.3 L881.84,532.65 L880.78,533 L862.91,533.35 L872.32,533.7 L877.45,534.05 L875.79,534.4 L875.98,534.75 L876.21,535.1 L873.63,535.45 L875.23,535.8 L874.48,536.15 L875.08,536.5 L874.26,536.85 L875.64,537.2 L880.85,537.55 L878.39,537.9 L879.88,538.25 L879.63,538.6 L875.95,538.95 L875.71,539.3 L877.4,539.65 L882.44,540 L883.31,540.35 L886.86,540.7 L876.98,541.05 L879.26,541.4 L877.33,541.75 L879.05,542.1 L876.48,542.45 L870.61,542.8 L875.56,543.15 L876.42,543.5 L863.86,543.85 L873.09,544.2 L876.65,544.55 L876.66,544.9 L870.51,545.25 L876.58,545.6 L875.08,545.95 L874.12,546.3 L869.63,546.65 L873.83,547 L870.26,547.35 L872.93,547.7 L870.55,548.05 L870.79,548.4 L874.91,548.75 L875.01,549.1 L873.23,549.45 L870.92,549.8 L871.07,550.15 L868.31,550.5 L865.41,550.85 L870.22,551.2 L866.82,551.55 L866.29,551.9 L863.02,552.25 L864.77,552.6 L865.18,552.95 L863.02,553.3 L861.97,553.65 L864.95,554 L867,554.35 L862.53,554.7 L860.59,555.05 L856.52,555.4 L859.91,555.75 L867.65,556.1 L859.24,556.45 L861,556.8 L866.75,557.15 L865.14,557.5 L865.02,557.85 L867.94,558.2 L866.83,558.55 L868.83,558.9 L865.15,559.25 L870.83,559.6 L871.71,559.95 L871.97,560.3 L865.86,560.65 L862.74,561 L871.21,561.35 L872.36,561.7 L873.72,562.05 L875.47,562.4 L871.94,562.75 L869.9,563.1 L874.3,563.45 L872.82,563.8 L872.15,564.15 L871.69,564.5 L873.74,564.85 L878.7,565.2 L876.57,565.55 L874.76,565.9 L870.74,566.25 L873.61,566.6 L874.69,566.95 L867.27,567.3 L869.11,567.65 L873.13,568 L870.13,568.35 L870.74,568.7 L877.44,569.05 L873.12,569.4 L876.95,569.75 L878.43,570.1 L873.01,570.45 L875.62,570.8 L871.12,571.15 L877.28,571.5 L871.6,571.85 L873.49,572.2 L873.85,572.55 L874.12,572.9 L873.14,573.25 L870.87,573.6 L874.24,573.95 L873.19,574.3 L877.79,574.65 L876.38,575 L876.12,575.35 L878.99,575.7 L885.27,576.05 L877.04,576.4 L872.18,576.75 L876.5,577.1 L874.64,577.45 L873.16,577.8 L875.93,578.15 L871.99,578.5 L874.56,578.85 L877.82,579.2 L875.46,579.55 L871.52,579.9 L871.5,580.25 L875.29,580.6 L877.64,580.95 L874.42,581.3 L874.01,581.65 L869.54,582 L868.23,582.35 L869.82,582.7 L870.87,583.05 L872.2,583.4 L874.74,583.75 L871.51,584.1 L873.47,584.45 L866.16,584.8 L865.79,585.15 L869.39,585.5 L867.79,585.85 L859.69,586.2 L867.5,586.55 L868.81,586.9 L862.63,587.25 L864.16,587.6 L862.76,587.95 L861.95,588.3 L859.11,588.65 L859.43,589 L858.31,589.35 L863.21,589.7 L863.48,590.05 L864.38,590.4 L860.01,590.75 L866.19,591.1 L867.88,591.45 L863.06,591.8 L869.4,592.15 L866.09,592.5 L865.72,592.85 L869.05,593.2 L872.15,593.55 L872.74,593.9 L876.19,594.25 L874.07,594.6 L872.52,594.95 L871.21,595.3 L870.5,595.65 L871.86,596 L869.68,596.35 L868.49,596.7 L869.65,597.05 L870.25,597.4 L877.6,597.75 L873.19,598.1 L870.21,598.45 L874.76,598.8 L873.4,599.15 L869.53,599.5 L878.19,599.85 L874.44,600.2 L873.57,600.55 L871.74,600.9 L871.8,601.25 L878.13,601.6 L873.33,601.95 L874.15,602.3 L872.47,602.65 L871.63,603 L876.3,603.35 L873.35,603.7 L876.16,604.05 L865.59,604.4 L874.6,604.75 L877.96,605.1 L878.48,605.45 L876.14,605.8 L873.71,606.15 L877.31,606.5 L878.06,606.85 L878.63,607.2 L876.67,607.55 L875.03,607.9 L871.51,608.25 L877.32,608.6 L875.78,608.95 L874.3,609.3 L880.2,609.65 L878.58,610 L882.18,610.35 L878.47,610.7 L875.62,611.05 L879.16,611.4 L873.39,611.75 L875.91,612.1 L875.36,612.45 L876.32,612.8 L878.32,613.15 L879.61,613.5 L874.22,613.85 L875.2,614.2 L878.26,614.55 L878.17,614.9 L877.1,615.25 L873.19,615.6 L876.82,615.95 L871.61,616.3 L870.88,616.65 L878.71,617 L879.29,617.35 L879.01,617.7 L880.09,618.05 L877.57,618.4 L876.44,618.75 L874.48,619.1 L873.68,619.45 L878.69,619.8 L876.78,620.15 L874.93,620.5 L874.89,620.85 L877.23,621.2 L878.92,621.55 L882.37,621.9 L880.58,622.25 L877.12,622.6 L878.77,622.95 L879.69,623.3 L879.68,623.65 L878.2,624 L879.03,624.35 L879.38,624.7 L874.51,625.05 L875.54,625.4 L874.66,625.75 L872.4,626.1 L874.98,626.45 L876.18,626.8 L880.48,627.15 L878.8,627.5 L876.86,627.85 L877,628.2 L874.44,628.55 L876.18,628.9 L881.76,629.25 L879.76,629.6 L879.1,629.95 L873.87,630.3 L875.37,630.65 L880.86,631 L877.22,631.35 L873.83,631.7 L878.07,632.05 L874.92,632.4 L874.09,632.75 L875.17,633.1 L877.75,633.45 L880.41,633.8 L876.47,634.15 L872.47,634.5 L873.24,634.85 L874.55,635.2 L878.06,635.55 L874.68,635.9 L870.92,636.25 L873.33,636.6 L879.96,636.95 L879.37,637.3 L880.61,637.65 L883.32,638 L881.79,638.35 L880.41,638.7 L875.36,639.05 L879.76,639.4 L875.3,639.75 L877.95,640.1 L880.35,640.45 L872.73,640.8 L879.63,641.15 L878.59,641.5 L880.34,641.85 L877.31,642.2 L878.22,642.55 L873.23,642.9 L874.83,643.25 L876.21,643.6 L874.44,643.95 L874.62,644.3 L876.23,644.65 L876.44,645 L878.01,645.35 L879.05,645.7 L873.81,646.05 L873.31,646.4 L878.07,646.75 L876.88,647.1 L875.22,647.45 L877.4,647.8 L874.72,648.15 L876.97,648.5 L874.74,648.85 L877.88,649.2 L876.44,649.55 L877.06,649.9 L875.13,650.25 L878.32,650.6 L878.52,650.95 L880.13,651.3 L877,651.65 L876.28,652 L878.5,652.35 L879.49,652.7 L880.14,653.05 L875.82,653.4 L874.65,653.75 L871.22,654.1 L875.99,654.45 L877.71,654.8 L874.96,655.15 L874.07,655.5 L876.51,655.85 L877.42,656.2 L878.68,656.55 L874.85,656.9 L874.66,657.25 L878.35,657.6 L876.59,657.95 L876.15,658.3 L884.21,658.65 L879.87,659 L876.26,659.35 L875.61,659.7 L878.76,660.05 L880.61,660.4 L878.53,660.75 L874.41,661.1 L875.44,661.45 L875.41,661.8 L871.5,662.15 L875.22,662.5 L876.12,662.85 L876.67,663.2 L875.77,663.55 L878.71,663.9 L878.01,664.25 L873.08,664.6 L875.54,664.95 L875.3,665.3 L872.68,665.65 L871.8,666 L876.54,666.35 L873.81,666.7 L872.77,667.05 L876.38,667.4 L878.4,667.75 L873.68,668.1 L871.69,668.45 L873.92,668.8 L876.61,669.15 L877,669.5 L877.85,669.85 L878.27,670.2 L882.95,670.55 L883.14,670.9 L876.95,671.25 L878.69,671.6 L879.23,671.95 L876.97,672.3 L879.46,672.65 L879.7,673 L882.19,673.35 L879.83,673.7 L876.49,674.05 L874.79,674.4 L875.41,674.75 L876.93,675.1 L877.4,675.45 L877.68,675.8 L875.94,676.15 L872.28,676.5 L875.23,676.85 L875.85,677.2 L875.75,677.55 L879.55,677.9 L878.52,678.25 L875.79,678.6 L877.7,678.95 L879.16,679.3 L877.88,679.65 L879.39,680 L878.64,680.35 L879.29,680.7 L881.18,681.05 L873.69,681.4 L876.75,681.75 L878.59,682.1 L873.89,682.45 L875.65,682.8 L877.48,683.15 L877.77,683.5 L872.47,683.85 L869.17,684.2 L876.33,684.55 L872.85,684.9 L874.12,685.25 L873.8,685.6 L878.96,685.95 L886.91,686.3 L880.07,686.65 L881.03,687 L880.89,687.35 L879.6,687.7 L878.5,688.05 L880.55,688.4 L879.48,688.75 L878.13,689.1 L877.6,689.45 L873.87,689.8 L876.52,690.15 L878.31,690.5 L876.48,690.85 L880.15,691.2 L877.73,691.55 L877.68,691.9 L875.18,692.25 L880.96,692.6 L877.78,692.95 L875.73,693.3 L878.7,693.65 L874.98,694 L875.59,694.35 L870.42,694.7 L878.19,695.05 L875.58,695.4 L874.63,695.75 L877.22,696.1 L874.95,696.45 L880.65,696.8 L880.58,697.15 L878.3,697.5 L872.33,697.85 L876.67,698.2 L875.78,698.55 L879.34,698.9 L874.65,699.25 L874.88,699.6 L878.65,699.95 L878.65,700.3 L881.19,700.65 L875.85,701 L875.1,701.35 L875.21,701.7 L875.96,702.05 L874.82,702.4 L877.18,702.75 L877.53,703.1 L876.27,703.45 L874.53,703.8 L876.53,704.15 L875.8,704.5 L879,704.85 L874.21,705.2 L877.92,705.55 L878.16,705.9 L880.24,706.25 L880.63,706.6 L874.48,706.95 L878.59,707.3 L876.25,707.65 L881.79,708 L874.83,708.35 L877.17,708.7 L877.61,709.05 L876.73,709.4 L876.34,709.75 L878.75,710.1 L877.32,710.45 L872.82,710.8 L874.3,711.15 L876.12,711.5 L879.72,711.85 L874.11,712.2 L877.34,712.55 L881.16,712.9 L867.13,713.25 L873,713.6 L871.58,713.95 L875.03,714.3 L872.27,714.65 L875.05,715 L868.57,715.35 L865.66,715.7 L869.12,716.05 L864.66,716.4 L861.8,716.75 L854.1,717.1 L854.88,717.45 L847.56,717.8 L844.91,718.15 L837.96,718.5 L841.1,718.6 L838.85,718.85 L839.24,719.2 L847.76,719.55 L857.27,719.9 L862.8,720.25 L863.64,720.6 L868.12,720.95 L869.58,721.3 L871.35,721.65 L866.08,722 L861.65,722.35 L870.29,722.7 L867.07,723.05 L874.57,723.4 L876.1,723.75 L877.85,724.1 L876.25,724.45 L875.81,724.8 L876.33,725.15 L876.34,725.5 L875.75,725.85 L873.99,726.2 L874.33,726.55 L873.43,726.9 L876.92,727.25 L878.78,727.6 L874.46,727.95 L874.96,728.3 L875.46,728.65 L876.39,729 L877.51,729.35 L876.65,729.7 L874.16,730.05 L873.44,730.4 L875.66,730.75 L873.84,731.1 L875.24,731.45 L869.49,731.8 L873.06,732.15 L878.5,732.5 L876.69,732.85 L876.92,733.2 L876.86,733.55 L879.39,733.9 L879.75,734.25 L875.58,734.6 L876.32,734.95 L878.65,735.3 L882.88,735.65 L877.4,736 L882.26,736.35 L879.34,736.7 L882.34,737.05 L873.61,737.4 L873.18,737.75 L874.3,738.1 L879.21,738.45 L872.91,738.8 L874.41,739.15 L877.05,739.5 L879.2,739.85 L878.76,740.2 L879.24,740.55 L882.47,740.9 L875.69,741.25 L876.07,741.6 L879.49,741.95 L878.75,742.3 L877.87,742.65 L878.55,743 L876.51,743.35 L873.36,743.7 L873.35,744.05 L871.98,744.4 L876.93,744.75 L880.6,745.1 L874.32,745.45 L875.81,745.8 L879.33,746.15 L877.93,746.5 L877.85,746.85 L879.04,747.2 L878.44,747.55 L876.54,747.9 L878.21,748.25 L877.89,748.6 L878.12,748.95 L878.67,749.3 L878.05,749.65 L876.69,750 L877.29,750.35 L877.97,750.7 L877.76,751.05 L872.82,751.4 L876.81,751.75 L877.96,752.1 L874.33,752.45 L881.04,752.8 L877.77,753.15 L884.42,753.5 L880.05,753.85 L877.11,754.2 L880.19,754.55 L878.09,754.9 L876.01,755.25 L875.37,755.6 L877.07,755.95 L879.01,756.3 L876.55,756.65 L874.29,757 L871.09,757.35 L882.06,757.7 L877.66,758.05 L880.21,758.4 L879.78,758.75 L872.29,759.1 L873.98,759.45 L882.11,759.8 L877.02,760.15 L883.31,760.5 L876.98,760.85 L876.91,761.2 L876.07,761.55 L874.85,761.9 L875.52,762.25 L880.27,762.6 L875.38,762.95 L876.21,763.3 L875.86,763.65 L864.41,764 L873.58,764.35 L880.28,764.7 L878.78,765.05 L875.98,765.4 L868.95,765.75 L875.8,766.1 L874.29,766.45 L877.24,766.8 L874.66,767.15 L872.68,767.5 L878.73,767.85 L875.86,768.2 L879.09,768.55 L879.15,768.9 L875.59,769.25 L872.41,769.6 L874.95,769.95 L879.16,770.3 L878.82,770.65 L874.99,771 L871.85,771.35 L875.62,771.7 L875.92,772.05 L878.56,772.4 L877.86,772.75 L875.73,773.1 L874.91,773.45 L872.63,773.8 L879.17,774.15 L879.52,774.5 L879.14,774.85 L876.34,775.2 L876.14,775.55 L879.53,775.9 L875.71,776.25 L871.63,776.6 L873.13,776.95 L873.26,777.3 L877.37,777.65 L879.26,778 L875.43,778.35 L876.45,778.7 L875.66,779.05 L875.75,779.4 L876.3,779.75 L878.26,780.1 L881.1,780.45 L885.77,780.8 L878.41,781.15 L880.2,781.5 L873.19,781.85 L877.16,782.2 L874.6,782.55 L881.95,782.9 L880.15,783.25 L878.44,783.6 L870.61,783.95 L876.94,784.3 L879.29,784.65 L876.32,785 L876.86,785.35 L872.64,785.7 L877.36,786.05 L876.35,786.4 L872.69,786.75 L877.56,787.1 L877.77,787.45 L875.04,787.8 L875.03,788.15 L876.12,788.5 L868.9,788.85 L873.68,789.2 L872.21,789.55 L877.83,789.9 L875.26,790.25 L878.42,790.6 L874.81,790.95 L877.87,791.3 L875.03,791.65 L882.99,792 L878.5,792.35 L876.6,792.7 L878.06,793.05 L872.88,793.4 L876.81,793.75 L877.62,794.1 L878.87,794.45 L877.28,794.8 L878.96,795.15 L877.82,795.5 L871.23,795.85 L876.55,796.2 L881.21,796.55 L875.42,796.9 L879.69,797.25 L878.94,797.6 L878.77,797.95 L873.73,798.3 L875.31,798.65 L879.4,799 L876.36,799.35 L877.05,799.7 L878.75,800.05 L880.08,800.4 L878.32,800.75 L880.9,801.1 L878.66,801.45 L876.18,801.8 L875.99,802.15 L877.22,802.5 L879.45,802.85 L878.85,803.2 L877.58,803.55 L877.29,803.9 L876.08,804.25 L874.27,804.6 L876.39,804.95 L880.32,805.3 L878.19,805.65 L879.54,806 L879.07,806.35 L877.39,806.7 L877.6,807.05 L877.21,807.4 L878.2,807.75 L876.75,808.1 L876.94,808.45" fill="none" stroke="#2a7ab8" stroke-width="1.7" stroke-linejoin="round"/>
<path d="M877.19,491 L877.19,491.25 L877.19,491.5 L877.19,491.75 L877.19,492 L877.19,492.25 L877.19,492.5 L877.19,492.75 L877.19,493 L877.19,493.25 L877.19,493.5 L877.18,493.75 L877.18,494 L877.18,494.25 L877.18,494.5 L877.18,494.75 L877.18,495 L877.18,495.25 L877.18,495.5 L877.18,495.75 L877.18,496 L877.18,496.25 L877.17,496.5 L877.17,496.75 L877.17,497 L877.17,497.25 L877.17,497.5 L877.17,497.75 L877.17,498 L877.17,498.25 L877.17,498.5 L877.17,498.75 L877.16,499 L877.16,499.25 L877.16,499.5 L877.16,499.75 L877.16,500 L877.16,500.25 L877.16,500.5 L877.16,500.75 L877.16,501 L877.15,501.25 L877.15,501.5 L877.15,501.75 L877.15,502 L877.15,502.25 L877.15,502.5 L877.15,502.75 L877.15,503 L877.14,503.25 L877.14,503.5 L877.14,503.75 L877.14,504 L877.14,504.25 L877.14,504.5 L877.14,504.75 L877.13,505 L877.13,505.25 L877.13,505.5 L877.13,505.75 L877.13,506 L877.13,506.25 L877.13,506.5 L877.12,506.75 L877.12,507 L877.12,507.25 L877.12,507.5 L877.12,507.75 L877.12,508 L877.11,508.25 L877.11,508.5 L877.11,508.75 L877.11,509 L877.11,509.25 L877.1,509.5 L877.1,509.75 L877.1,510 L877.1,510.25 L877.1,510.5 L877.1,510.75 L877.09,511 L877.09,511.25 L877.09,511.5 L877.09,511.75 L877.08,512 L877.08,512.25 L877.08,512.5 L877.08,512.75 L877.08,513 L877.07,513.25 L877.07,513.5 L877.07,513.75 L877.07,514 L877.06,514.25 L877.06,514.5 L877.06,514.75 L877.06,515 L877.05,515.25 L877.05,515.5 L877.05,515.75 L877.04,516 L877.04,516.25 L877.04,516.5 L877.04,516.75 L877.03,517 L877.03,517.25 L877.03,517.5 L877.02,517.75 L877.02,518 L877.02,518.25 L877.01,518.5 L877.01,518.75 L877.01,519 L877,519.25 L877,519.5 L876.99,519.75 L876.99,520 L876.99,520.25 L876.98,520.5 L876.98,520.75 L876.97,521 L876.97,521.25 L876.97,521.5 L876.96,521.75 L876.96,522 L876.95,522.25 L876.95,522.5 L876.94,522.75 L876.94,523 L876.93,523.25 L876.93,523.5 L876.92,523.75 L876.92,524 L876.91,524.25 L876.91,524.5 L876.9,524.75 L876.89,525 L876.89,525.25 L876.88,525.5 L876.88,525.75 L876.87,526 L876.86,526.25 L876.86,526.5 L876.85,526.75 L876.84,527 L876.83,527.25 L876.83,527.5 L876.82,527.75 L876.81,528 L876.8,528.25 L876.79,528.5 L876.79,528.75 L876.78,529 L876.77,529.25 L876.76,529.5 L876.75,529.75 L876.74,530 L876.73,530.25 L876.72,530.5 L876.71,530.75 L876.7,531 L876.69,531.25 L876.68,531.5 L876.66,531.75 L876.65,532 L876.64,532.25 L876.63,532.5 L876.61,532.75 L876.6,533 L876.59,533.25 L876.57,533.5 L876.56,533.75 L876.54,534 L876.52,534.25 L876.51,534.5 L876.49,534.75 L876.47,535 L876.45,535.25 L876.43,535.5 L876.41,535.75 L876.39,536 L876.37,536.25 L876.35,536.5 L876.33,536.75 L876.3,537 L876.28,537.25 L876.25,537.5 L876.23,537.75 L876.2,538 L876.17,538.25 L876.14,538.5 L876.11,538.75 L876.08,539 L876.04,539.25 L876.01,539.5 L875.97,539.75 L875.93,540 L875.89,540.25 L875.85,540.5 L875.81,540.75 L875.76,541 L875.71,541.25 L875.66,541.5 L875.61,541.75 L875.56,542 L875.5,542.25 L875.44,542.5 L875.37,542.75 L875.31,543 L875.24,543.25 L875.16,543.5 L875.08,543.75 L875,544 L874.91,544.25 L874.82,544.5 L874.72,544.75 L874.62,545 L874.51,545.25 L874.39,545.5 L874.27,545.75 L874.14,546 L874,546.25 L873.85,546.5 L873.69,546.75 L873.52,547 L873.34,547.25 L873.15,547.5 L872.95,547.75 L872.73,548 L872.5,548.25 L872.26,548.5 L871.99,548.75 L871.71,549 L871.41,549.25 L871.09,549.5 L870.75,549.75 L870.39,550 L870,550.25 L869.6,550.5 L869.17,550.75 L868.71,551 L868.24,551.25 L867.74,551.5 L867.23,551.75 L866.7,552 L866.16,552.25 L865.61,552.5 L865.07,552.75 L864.54,553 L864.04,553.25 L863.56,553.5 L863.13,553.75 L863.06,554 L863.05,554.25 L863.05,554.5 L863.04,554.75 L863.04,555 L863.04,555.25 L863.03,555.5 L863.03,555.75 L863.03,556 L863.1,556.25 L863.52,556.5 L863.98,556.75 L864.48,557 L865,557.25 L865.54,557.5 L866.07,557.75 L866.61,558 L867.13,558.25 L867.63,558.5 L868.12,558.75 L868.59,559 L869.04,559.25 L869.46,559.5 L869.86,559.75 L870.24,560 L870.59,560.25 L870.92,560.5 L871.23,560.75 L871.52,561 L871.8,561.25 L872.05,561.5 L872.29,561.75 L872.51,562 L872.72,562.25 L872.91,562.5 L873.09,562.75 L873.26,563 L873.42,563.25 L873.57,563.5 L873.7,563.75 L873.83,564 L873.95,564.25 L874.07,564.5 L874.17,564.75 L874.27,565 L874.36,565.25 L874.45,565.5 L874.53,565.75 L874.6,566 L874.67,566.25 L874.74,566.5 L874.8,566.75 L874.85,567 L874.91,567.25 L874.96,567.5 L875,567.75 L875.04,568 L875.08,568.25 L875.12,568.5 L875.15,568.75 L875.18,569 L875.21,569.25 L875.23,569.5 L875.26,569.75 L875.28,570 L875.29,570.25 L875.31,570.5 L875.32,570.75 L875.33,571 L875.34,571.25 L875.35,571.5 L875.35,571.75 L875.35,572 L875.35,572.25 L875.35,572.5 L875.35,572.75 L875.34,573 L875.33,573.25 L875.32,573.5 L875.31,573.75 L875.29,574 L875.27,574.25 L875.25,574.5 L875.23,574.75 L875.2,575 L875.18,575.25 L875.15,575.5 L875.11,575.75 L875.08,576 L875.04,576.25 L874.99,576.5 L874.95,576.75 L874.9,577 L874.84,577.25 L874.79,577.5 L874.72,577.75 L874.66,578 L874.59,578.25 L874.51,578.5 L874.43,578.75 L874.34,579 L874.25,579.25 L874.15,579.5 L874.04,579.75 L873.93,580 L873.81,580.25 L873.68,580.5 L873.54,580.75 L873.39,581 L873.23,581.25 L873.06,581.5 L872.87,581.75 L872.68,582 L872.47,582.25 L872.24,582.5 L872,582.75 L871.74,583 L871.47,583.25 L871.17,583.5 L870.86,583.75 L870.52,584 L870.16,584.25 L869.78,584.5 L869.38,584.75 L868.95,585 L868.5,585.25 L868.03,585.5 L867.53,585.75 L867.02,586 L866.5,586.25 L865.97,586.5 L865.43,586.75 L864.9,587 L864.38,587.25 L863.89,587.5 L863.43,587.75 L863.02,588 L863.02,588.25 L863.03,588.5 L863.03,588.75 L863.04,589 L863.04,589.25 L863.04,589.5 L863.05,589.75 L863.05,590 L863.05,590.25 L863.21,590.5 L863.65,590.75 L864.13,591 L864.64,591.25 L865.18,591.5 L865.72,591.75 L866.26,592 L866.8,592.25 L867.33,592.5 L867.84,592.75 L868.33,593 L868.8,593.25 L869.25,593.5 L869.68,593.75 L870.08,594 L870.46,594.25 L870.82,594.5 L871.15,594.75 L871.47,595 L871.77,595.25 L872.04,595.5 L872.3,595.75 L872.55,596 L872.78,596.25 L872.99,596.5 L873.19,596.75 L873.38,597 L873.55,597.25 L873.72,597.5 L873.88,597.75 L874.02,598 L874.16,598.25 L874.29,598.5 L874.41,598.75 L874.53,599 L874.63,599.25 L874.74,599.5 L874.83,599.75 L874.93,600 L875.01,600.25 L875.09,600.5 L875.17,600.75 L875.25,601 L875.32,601.25 L875.38,601.5 L875.45,601.75 L875.51,602 L875.56,602.25 L875.62,602.5 L875.67,602.75 L875.72,603 L875.77,603.25 L875.81,603.5 L875.86,603.75 L875.9,604 L875.94,604.25 L875.98,604.5 L876.01,604.75 L876.05,605 L876.08,605.25 L876.11,605.5 L876.14,605.75 L876.17,606 L876.2,606.25 L876.23,606.5 L876.25,606.75 L876.28,607 L876.3,607.25 L876.33,607.5 L876.35,607.75 L876.37,608 L876.39,608.25 L876.41,608.5 L876.43,608.75 L876.45,609 L876.47,609.25 L876.49,609.5 L876.51,609.75 L876.52,610 L876.54,610.25 L876.55,610.5 L876.57,610.75 L876.58,611 L876.6,611.25 L876.61,611.5 L876.62,611.75 L876.64,612 L876.65,612.25 L876.66,612.5 L876.67,612.75 L876.68,613 L876.7,613.25 L876.71,613.5 L876.72,613.75 L876.73,614 L876.74,614.25 L876.75,614.5 L876.76,614.75 L876.76,615 L876.77,615.25 L876.78,615.5 L876.79,615.75 L876.8,616 L876.81,616.25 L876.81,616.5 L876.82,616.75 L876.83,617 L876.84,617.25 L876.84,617.5 L876.85,617.75 L876.86,618 L876.86,618.25 L876.87,618.5 L876.88,618.75 L876.88,619 L876.89,619.25 L876.89,619.5 L876.9,619.75 L876.91,620 L876.91,620.25 L876.92,620.5 L876.92,620.75 L876.93,621 L876.93,621.25 L876.94,621.5 L876.94,621.75 L876.95,622 L876.95,622.25 L876.95,622.5 L876.96,622.75 L876.96,623 L876.97,623.25 L876.97,623.5 L876.98,623.75 L876.98,624 L876.98,624.25 L876.99,624.5 L876.99,624.75 L876.99,625 L877,625.25 L877,625.5 L877,625.75 L877.01,626 L877.01,626.25 L877.01,626.5 L877.02,626.75 L877.02,627 L877.02,627.25 L877.03,627.5 L877.03,627.75 L877.03,628 L877.04,628.25 L877.04,628.5 L877.04,628.75 L877.04,629 L877.05,629.25 L877.05,629.5 L877.05,629.75 L877.05,630 L877.06,630.25 L877.06,630.5 L877.06,630.75 L877.06,631 L877.07,631.25 L877.07,631.5 L877.07,631.75 L877.07,632 L877.07,632.25 L877.08,632.5 L877.08,632.75 L877.08,633 L877.08,633.25 L877.08,633.5 L877.09,633.75 L877.09,634 L877.09,634.25 L877.09,634.5 L877.09,634.75 L877.1,635 L877.1,635.25 L877.1,635.5 L877.1,635.75 L877.1,636 L877.1,636.25 L877.11,636.5 L877.11,636.75 L877.11,637 L877.11,637.25 L877.11,637.5 L877.11,637.75 L877.12,638 L877.12,638.25 L877.12,638.5 L877.12,638.75 L877.12,639 L877.12,639.25 L877.12,639.5 L877.12,639.75 L877.13,640 L877.13,640.25 L877.13,640.5 L877.13,640.75 L877.13,641 L877.13,641.25 L877.13,641.5 L877.13,641.75 L877.14,642 L877.14,642.25 L877.14,642.5 L877.14,642.75 L877.14,643 L877.14,643.25 L877.14,643.5 L877.14,643.75 L877.14,644 L877.15,644.25 L877.15,644.5 L877.15,644.75 L877.15,645 L877.15,645.25 L877.15,645.5 L877.15,645.75 L877.15,646 L877.15,646.25 L877.15,646.5 L877.15,646.75 L877.16,647 L877.16,647.25 L877.16,647.5 L877.16,647.75 L877.16,648 L877.16,648.25 L877.16,648.5 L877.16,648.75 L877.16,649 L877.16,649.25 L877.16,649.5 L877.16,649.75 L877.16,650 L877.17,650.25 L877.17,650.5 L877.17,650.75 L877.17,651 L877.17,651.25 L877.17,651.5 L877.17,651.75 L877.17,652 L877.17,652.25 L877.17,652.5 L877.17,652.75 L877.17,653 L877.17,653.25 L877.17,653.5 L877.17,653.75 L877.17,654 L877.18,654.25 L877.18,654.5 L877.18,654.75 L877.18,655 L877.18,655.25 L877.18,655.5 L877.18,655.75 L877.18,656 L877.18,656.25 L877.18,656.5 L877.18,656.75 L877.18,657 L877.18,657.25 L877.18,657.5 L877.18,657.75 L877.18,658 L877.18,658.25 L877.18,658.5 L877.18,658.75 L877.18,659 L877.18,659.25 L877.18,659.5 L877.18,659.75 L877.19,660 L877.19,660.25 L877.19,660.5 L877.19,660.75 L877.19,661 L877.19,661.25 L877.19,661.5 L877.19,661.75 L877.19,662 L877.19,662.25 L877.19,662.5 L877.19,662.75 L877.19,663 L877.19,663.25 L877.19,663.5 L877.19,663.75 L877.19,664 L877.19,664.25 L877.19,664.5 L877.19,664.75 L877.19,665 L877.19,665.25 L877.19,665.5 L877.19,665.75 L877.19,666 L877.19,666.25 L877.19,666.5 L877.19,666.75 L877.19,667 L877.19,667.25 L877.19,667.5 L877.19,667.75 L877.19,668 L877.19,668.25 L877.19,668.5 L877.19,668.75 L877.19,669 L877.19,669.25 L877.19,669.5 L877.19,669.75 L877.19,670 L877.19,670.25 L877.19,670.5 L877.19,670.75 L877.19,671 L877.19,671.25 L877.19,671.5 L877.19,671.75 L877.19,672 L877.19,672.25 L877.19,672.5 L877.19,672.75 L877.19,673 L877.19,673.25 L877.19,673.5 L877.19,673.75 L877.19,674 L877.19,674.25 L877.19,674.5 L877.19,674.75 L877.19,675 L877.19,675.25 L877.19,675.5 L877.19,675.75 L877.19,676 L877.19,676.25 L877.19,676.5 L877.19,676.75 L877.19,677 L877.19,677.25 L877.19,677.5 L877.19,677.75 L877.19,678 L877.19,678.25 L877.18,678.5 L877.18,678.75 L877.18,679 L877.18,679.25 L877.18,679.5 L877.18,679.75 L877.18,680 L877.18,680.25 L877.18,680.5 L877.18,680.75 L877.18,681 L877.18,681.25 L877.18,681.5 L877.18,681.75 L877.18,682 L877.18,682.25 L877.18,682.5 L877.18,682.75 L877.17,683 L877.17,683.25 L877.17,683.5 L877.17,683.75 L877.17,684 L877.17,684.25 L877.17,684.5 L877.17,684.75 L877.17,685 L877.17,685.25 L877.17,685.5 L877.17,685.75 L877.16,686 L877.16,686.25 L877.16,686.5 L877.16,686.75 L877.16,687 L877.16,687.25 L877.16,687.5 L877.16,687.75 L877.15,688 L877.15,688.25 L877.15,688.5 L877.15,688.75 L877.15,689 L877.15,689.25 L877.15,689.5 L877.14,689.75 L877.14,690 L877.14,690.25 L877.14,690.5 L877.14,690.75 L877.14,691 L877.13,691.25 L877.13,691.5 L877.13,691.75 L877.13,692 L877.13,692.25 L877.12,692.5 L877.12,692.75 L877.12,693 L877.12,693.25 L877.11,693.5 L877.11,693.75 L877.11,694 L877.11,694.25 L877.1,694.5 L877.1,694.75 L877.1,695 L877.09,695.25 L877.09,695.5 L877.09,695.75 L877.08,696 L877.08,696.25 L877.08,696.5 L877.07,696.75 L877.07,697 L877.06,697.25 L877.06,697.5 L877.05,697.75 L877.05,698 L877.04,698.25 L877.04,698.5 L877.03,698.75 L877.03,699 L877.02,699.25 L877.02,699.5 L877.01,699.75 L877.01,700 L877,700.25 L876.99,700.5 L876.99,700.75 L876.98,701 L876.97,701.25 L876.96,701.5 L876.95,701.75 L876.94,702 L876.94,702.25 L876.93,702.5 L876.92,702.75 L876.91,703 L876.89,703.25 L876.88,703.5 L876.87,703.75 L876.86,704 L876.84,704.25 L876.83,704.5 L876.82,704.75 L876.8,705 L876.78,705.25 L876.77,705.5 L876.75,705.75 L876.73,706 L876.71,706.25 L876.69,706.5 L876.66,706.75 L876.64,707 L876.61,707.25 L876.59,707.5 L876.56,707.75 L876.53,708 L876.49,708.25 L876.46,708.5 L876.42,708.75 L876.38,709 L876.33,709.25 L876.29,709.5 L876.24,709.75 L876.18,710 L876.12,710.25 L876.06,710.5 L875.99,710.75 L875.91,711 L875.83,711.25 L875.73,711.5 L875.63,711.75 L875.52,712 L875.4,712.25 L875.27,712.5 L875.11,712.75 L874.95,713 L874.76,713.25 L874.55,713.5 L874.31,713.75 L874.04,714 L873.73,714.25 L873.37,714.5 L872.96,714.75 L872.48,715 L871.92,715.25 L871.26,715.5 L870.47,715.75 L869.53,716 L868.38,716.25 L866.98,716.5 L865.25,716.75 L863.27,717 L863.27,717.25 L863.27,717.5 L863.27,717.75 L863.27,718 L863.27,718.25 L863.27,718.5 L863.27,718.75 L863.27,719 L863.27,719.25 L863.27,719.5 L863.27,719.75 L863.27,720 L863.27,720.25 L863.27,720.5 L863.27,720.75 L863.27,721 L863.27,721.25 L863.27,721.5 L864.44,721.75 L866.34,722 L867.86,722.25 L869.1,722.5 L870.12,722.75 L870.96,723 L871.67,723.25 L872.27,723.5 L872.78,723.75 L873.22,724 L873.59,724.25 L873.92,724.5 L874.21,724.75 L874.46,725 L874.68,725.25 L874.88,725.5 L875.06,725.75 L875.21,726 L875.35,726.25 L875.48,726.5 L875.6,726.75 L875.7,727 L875.8,727.25 L875.88,727.5 L875.96,727.75 L876.04,728 L876.1,728.25 L876.17,728.5 L876.22,728.75 L876.28,729 L876.32,729.25 L876.37,729.5 L876.41,729.75 L876.45,730 L876.49,730.25 L876.52,730.5 L876.55,730.75 L876.58,731 L876.61,731.25 L876.64,731.5 L876.67,731.75 L876.69,732 L876.71,732.25 L876.73,732.5 L876.75,732.75 L876.77,733 L876.79,733.25 L876.81,733.5 L876.82,733.75 L876.84,734 L876.85,734.25 L876.87,734.5 L876.88,734.75 L876.89,735 L876.9,735.25 L876.91,735.5 L876.93,735.75 L876.94,736 L876.95,736.25 L876.96,736.5 L876.96,736.75 L876.97,737 L876.98,737.25 L876.99,737.5 L877,737.75 L877.01,738 L877.01,738.25 L877.02,738.5 L877.03,738.75 L877.03,739 L877.04,739.25 L877.04,739.5 L877.05,739.75 L877.06,740 L877.06,740.25 L877.07,740.5 L877.07,740.75 L877.08,741 L877.08,741.25 L877.09,741.5 L877.09,741.75 L877.09,742 L877.1,742.25 L877.1,742.5 L877.11,742.75 L877.11,743 L877.11,743.25 L877.12,743.5 L877.12,743.75 L877.12,744 L877.13,744.25 L877.13,744.5 L877.13,744.75 L877.13,745 L877.14,745.25 L877.14,745.5 L877.14,745.75 L877.15,746 L877.15,746.25 L877.15,746.5 L877.15,746.75 L877.16,747 L877.16,747.25 L877.16,747.5 L877.16,747.75 L877.16,748 L877.17,748.25 L877.17,748.5 L877.17,748.75 L877.17,749 L877.17,749.25 L877.18,749.5 L877.18,749.75 L877.18,750 L877.18,750.25 L877.18,750.5 L877.18,750.75 L877.19,751 L877.19,751.25 L877.19,751.5 L877.19,751.75 L877.19,752 L877.19,752.25 L877.19,752.5 L877.2,752.75 L877.2,753 L877.2,753.25 L877.2,753.5 L877.2,753.75 L877.2,754 L877.2,754.25 L877.2,754.5 L877.21,754.75 L877.21,755 L877.21,755.25 L877.21,755.5 L877.21,755.75 L877.21,756 L877.21,756.25 L877.21,756.5 L877.21,756.75 L877.21,757 L877.22,757.25 L877.22,757.5 L877.22,757.75 L877.22,758 L877.22,758.25 L877.22,758.5 L877.22,758.75 L877.22,759 L877.22,759.25 L877.22,759.5 L877.22,759.75 L877.22,760 L877.23,760.25 L877.23,760.5 L877.23,760.75 L877.23,761 L877.23,761.25 L877.23,761.5 L877.23,761.75 L877.23,762 L877.23,762.25 L877.23,762.5 L877.23,762.75 L877.23,763 L877.23,763.25 L877.23,763.5 L877.23,763.75 L877.24,764 L877.24,764.25 L877.24,764.5 L877.24,764.75 L877.24,765 L877.24,765.25 L877.24,765.5 L877.24,765.75 L877.24,766 L877.24,766.25 L877.24,766.5 L877.24,766.75 L877.24,767 L877.24,767.25 L877.24,767.5 L877.24,767.75 L877.24,768 L877.24,768.25 L877.24,768.5 L877.24,768.75 L877.25,769 L877.25,769.25 L877.25,769.5 L877.25,769.75 L877.25,770 L877.25,770.25 L877.25,770.5 L877.25,770.75 L877.25,771 L877.25,771.25 L877.25,771.5 L877.25,771.75 L877.25,772 L877.25,772.25 L877.25,772.5 L877.25,772.75 L877.25,773 L877.25,773.25 L877.25,773.5 L877.25,773.75 L877.25,774 L877.25,774.25 L877.25,774.5 L877.25,774.75 L877.25,775 L877.25,775.25 L877.25,775.5 L877.26,775.75 L877.26,776 L877.26,776.25 L877.26,776.5 L877.26,776.75 L877.26,777 L877.26,777.25 L877.26,777.5 L877.26,777.75 L877.26,778 L877.26,778.25 L877.26,778.5 L877.26,778.75 L877.26,779 L877.26,779.25 L877.26,779.5 L877.26,779.75 L877.26,780 L877.26,780.25 L877.26,780.5 L877.26,780.75 L877.26,781 L877.26,781.25 L877.26,781.5 L877.26,781.75 L877.26,782 L877.26,782.25 L877.26,782.5 L877.26,782.75 L877.26,783 L877.26,783.25 L877.26,783.5 L877.26,783.75 L877.26,784 L877.26,784.25 L877.26,784.5 L877.26,784.75 L877.26,785 L877.26,785.25 L877.26,785.5 L877.26,785.75 L877.27,786 L877.27,786.25 L877.27,786.5 L877.27,786.75 L877.27,787 L877.27,787.25 L877.27,787.5 L877.27,787.75 L877.27,788 L877.27,788.25 L877.27,788.5 L877.27,788.75 L877.27,789 L877.27,789.25 L877.27,789.5 L877.27,789.75 L877.27,790 L877.27,790.25 L877.27,790.5 L877.27,790.75 L877.27,791 L877.27,791.25 L877.27,791.5 L877.27,791.75 L877.27,792 L877.27,792.25 L877.27,792.5 L877.27,792.75 L877.27,793 L877.27,793.25 L877.27,793.5 L877.27,793.75 L877.27,794 L877.27,794.25 L877.27,794.5 L877.27,794.75 L877.27,795 L877.27,795.25 L877.27,795.5 L877.27,795.75 L877.27,796 L877.27,796.25 L877.27,796.5 L877.27,796.75 L877.27,797 L877.27,797.25 L877.27,797.5 L877.27,797.75 L877.27,798 L877.27,798.25 L877.27,798.5 L877.27,798.75 L877.27,799 L877.27,799.25 L877.27,799.5 L877.27,799.75 L877.27,800 L877.27,800.25 L877.27,800.5 L877.27,800.75 L877.27,801 L877.27,801.25 L877.27,801.5 L877.27,801.75 L877.27,802 L877.27,802.25 L877.27,802.5 L877.27,802.75 L877.27,803 L877.27,803.25 L877.28,803.5 L877.28,803.75 L877.28,804 L877.28,804.25 L877.28,804.5 L877.28,804.75 L877.28,805 L877.28,805.25 L877.28,805.5 L877.28,805.75 L877.28,806 L877.28,806.25 L877.28,806.5 L877.28,806.75 L877.28,807 L877.28,807.25 L877.28,807.5 L877.28,807.75 L877.28,808 L877.28,808.25 L877.28,808.5" fill="none" stroke="#e8262b" stroke-width="1.3" stroke-dasharray="5,3"/>
<path d="M811,719.3 H864" fill="none" stroke="#e8262b" stroke-width="1.3" stroke-dasharray="5,3"/>
<line x1="906.6" y1="485.5" x2="906.6" y2="815" stroke="#c4c4c4" stroke-width="1" />
<line x1="807" y1="815" x2="906.6" y2="815" stroke="#c4c4c4" stroke-width="1" />
<line x1="807" y1="526" x2="810" y2="526" stroke="#9a9a9a" stroke-width="1" />
<line x1="807" y1="609.1" x2="810" y2="609.1" stroke="#9a9a9a" stroke-width="1" />
<line x1="807" y1="691.4" x2="810" y2="691.4" stroke="#9a9a9a" stroke-width="1" />
<line x1="807" y1="774" x2="810" y2="774" stroke="#9a9a9a" stroke-width="1" />
<text x="846.7" y="473.2" text-anchor="middle" fill="#2a7ab8" style='font-family:"Liberation Sans", sans-serif;font-size:29px;' >0.5</text>
<text x="897.2" y="473.2" text-anchor="middle" fill="#2a7ab8" style='font-family:"Liberation Sans", sans-serif;font-size:29px;' >1</text>
<text x="834.7" y="849.8" text-anchor="middle" fill="#000" style='font-family:"Liberation Sans", sans-serif;font-size:30px;' >0.5</text>
<text x="895.5" y="849.8" text-anchor="middle" fill="#000" style='font-family:"Liberation Sans", sans-serif;font-size:30px;' >1</text>
<line x1="847.1" y1="859.6" x2="847.1" y2="888.6" stroke="#000" stroke-width="1.7" />
<text x="850.3" y="883.2" text-anchor="start" fill="#000" style='font-family:"Liberation Sans", sans-serif;font-size:31px;font-style:italic;' >S</text>
<text x="868.4" y="891.2" style='font-family:"Liberation Sans", sans-serif;font-size:20.5px;letter-spacing:-0.6px'>11</text>
<line x1="895.1" y1="859.6" x2="895.1" y2="888.6" stroke="#000" stroke-width="1.7" />
<text x="814" y="521.5" text-anchor="start" fill="#000" style='font-family:"Liberation Sans", sans-serif;font-size:42px;font-weight:bold;' >f</text>
<line x1="911.8" y1="485.3" x2="911.8" y2="514.4" stroke="#000" stroke-width="1.7" />
<text x="914.9" y="509.2" text-anchor="start" fill="#000" style='font-family:"Liberation Sans", sans-serif;font-size:31px;font-style:italic;' >S</text>
<text x="933.2" y="516.9" style='font-family:"Liberation Sans", sans-serif;font-size:20.5px;letter-spacing:-0.6px'>11</text>
<line x1="959.2" y1="485.3" x2="959.2" y2="514.4" stroke="#000" stroke-width="1.7" />
<rect x="917" y="528.1" width="13.6" height="285.2" fill="url(#cbar)" />
<line x1="930.6" y1="528.1" x2="930.6" y2="813.3" stroke="#d0d0d0" stroke-width="0.8" />
<line x1="930.6" y1="587" x2="935" y2="587" stroke="#9a9a9a" stroke-width="1" />
<text x="948" y="595.3" text-anchor="start" fill="#000" style='font-family:"Liberation Sans", sans-serif;font-size:24px;' >1</text>
<line x1="930.6" y1="694.5" x2="935" y2="694.5" stroke="#9a9a9a" stroke-width="1" />
<text x="948" y="702.8" text-anchor="start" fill="#000" style='font-family:"Liberation Sans", sans-serif;font-size:24px;' >0.8</text>
<line x1="930.6" y1="801.5" x2="935" y2="801.5" stroke="#9a9a9a" stroke-width="1" />
<text x="948" y="809.8" text-anchor="start" fill="#000" style='font-family:"Liberation Sans", sans-serif;font-size:24px;' >0.6</text>
</svg></body></html>
